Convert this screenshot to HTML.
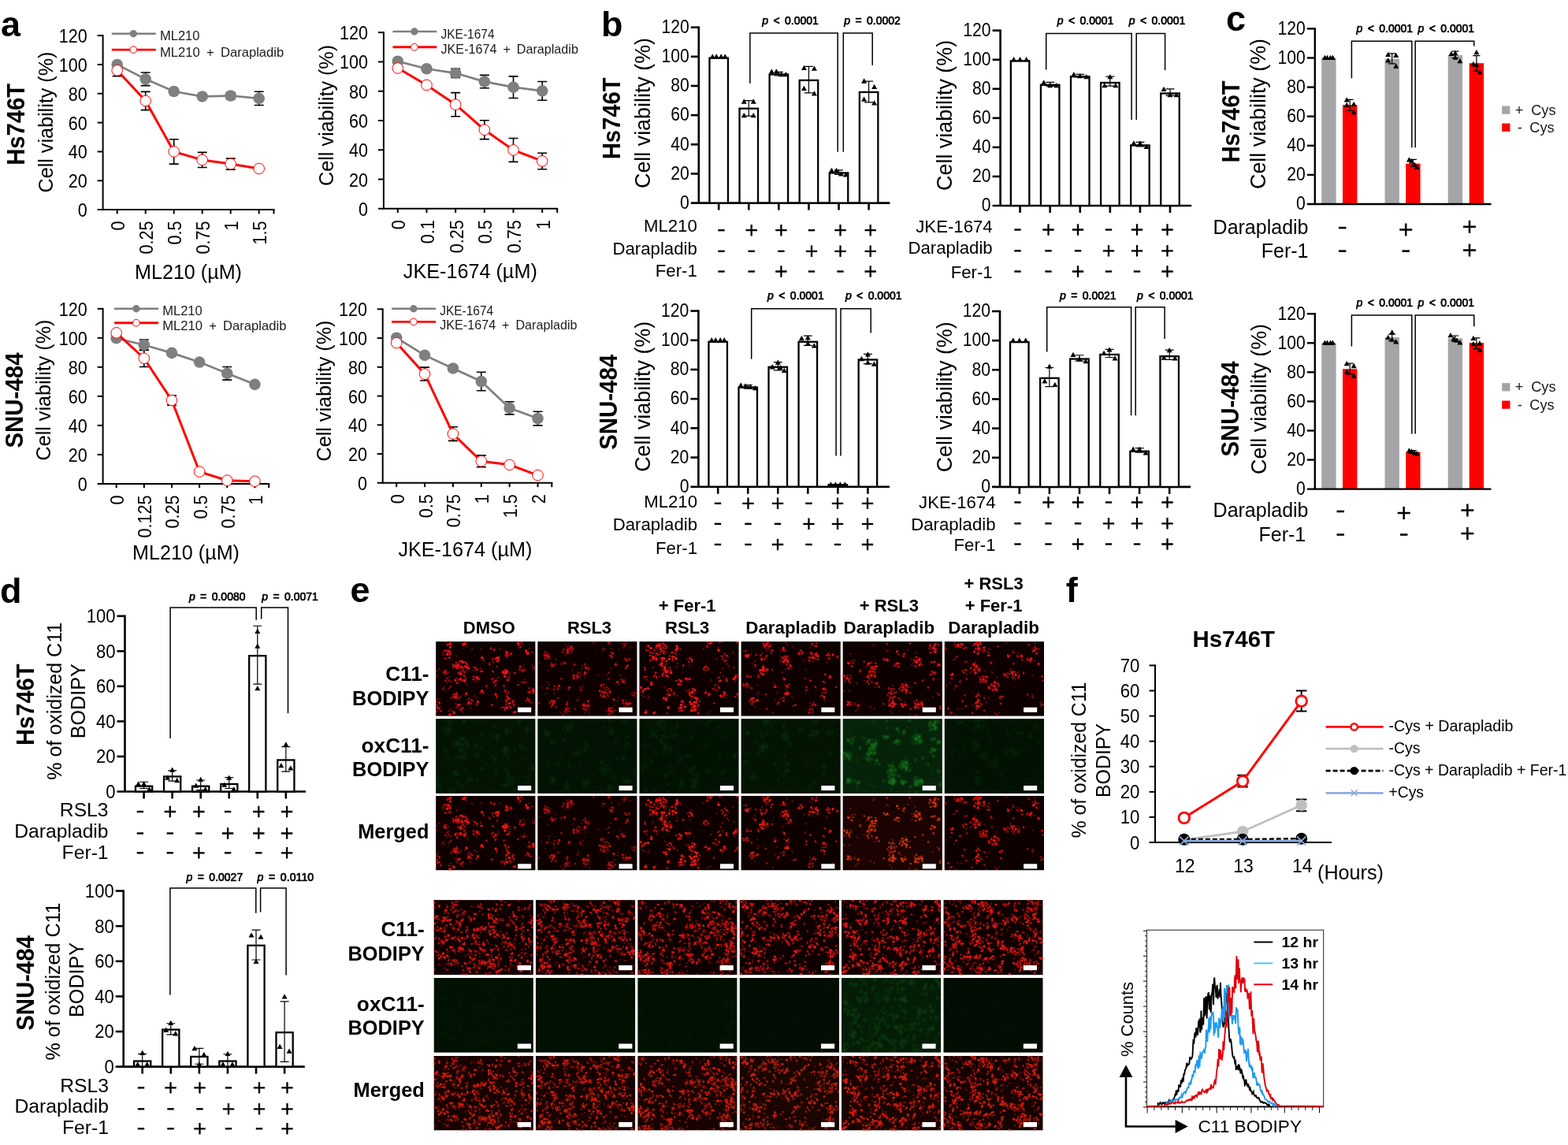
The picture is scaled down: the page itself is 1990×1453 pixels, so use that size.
<!DOCTYPE html>
<html lang="en"><head><meta charset="utf-8"><title>Figure</title>
<style>
html,body{margin:0;padding:0;background:#fff;overflow:hidden}
svg#fig{display:block;font-family:"Liberation Sans",sans-serif;fill:#000}
svg#fig text{white-space:pre}
</style></head><body>
<svg id="fig" width="1990" height="1453" viewBox="0 0 1990 1453">
<rect width="1990" height="1453" fill="#fff"/>
<defs><filter id="bl" x="-5%" y="-5%" width="110%" height="110%"><feGaussianBlur stdDeviation="0.5"/></filter><filter id="bl2" x="-5%" y="-5%" width="110%" height="110%"><feGaussianBlur stdDeviation="1"/></filter><g id="h0" fill="none" stroke="currentColor" stroke-linecap="round"><path stroke-width="2.1" stroke-opacity=".55" d="M17.5 20.0h0M13.5 16.9h0M16.3 20.1h0M17.8 15.8h0M9.1 14.4h0M19.0 16.7h0M12.3 15.4h0M8.8 14.4h0M13.7 10.9h0M13.6 21.4h0M9.2 17.1h0M39.3 1.4h0M35.5 4.0h0M38.0 3.5h0M34.4 2.4h0M38.3 6.1h0M19.7 4.6h0M70.8 9.3h0M87.8 17.7h0M91.4 13.0h0M90.3 19.8h0M94.4 16.5h0M88.7 11.8h0M91.7 13.0h0M107.6 2.6h0M110.8 4.2h0M105.8 8.0h0M114.7 13.8h0M123.0 13.6h0M121.5 13.3h0M58.0 20.5h0M60.9 24.7h0M60.8 25.0h0M59.9 21.7h0M60.8 22.9h0M80.0 23.4h0M74.7 21.6h0M79.8 21.0h0M73.8 26.5h0M73.0 25.7h0M67.8 27.0h0M34.4 37.6h0M24.8 33.1h0M27.7 29.8h0M35.6 34.2h0M38.2 31.4h0M28.5 29.7h0M39.1 28.5h0M41.7 31.1h0M35.4 26.4h0M28.9 33.6h0M38.6 36.3h0M31.3 24.7h0M22.2 28.8h0M26.8 33.0h0M47.3 31.9h0M51.6 34.7h0M51.1 37.2h0M47.9 36.8h0M49.3 33.8h0M50.1 34.3h0M51.1 35.3h0M56.8 33.9h0M58.6 37.6h0M11.7 41.4h0M11.0 37.1h0M16.5 39.6h0M14.0 40.7h0M9.6 39.2h0M13.6 36.1h0M4.2 34.8h0M1.2 37.6h0M111.7 30.1h0M106.6 32.8h0M108.9 38.4h0M112.6 34.4h0M108.7 38.0h0M107.3 33.0h0M123.2 34.8h0M122.9 30.2h0M125.5 33.0h0M85.4 37.9h0M94.1 41.4h0M93.7 42.0h0M89.5 38.1h0M90.6 35.2h0M89.3 38.5h0M93.3 38.9h0M101.0 40.7h0M77.7 32.4h0M78.0 30.9h0M71.9 37.7h0M35.8 48.6h0M27.8 53.7h0M30.0 42.1h0M37.0 43.1h0M37.2 48.8h0M31.4 41.3h0M37.6 50.1h0M37.1 48.7h0M26.1 46.5h0M34.0 42.3h0M28.5 47.3h0M34.2 48.4h0M28.3 47.7h0M27.5 52.2h0M29.1 48.3h0M47.1 44.6h0M54.3 46.1h0M51.7 50.9h0M49.6 48.7h0M53.4 44.5h0M48.8 43.8h0M48.2 45.7h0M19.4 50.5h0M16.4 50.0h0M14.8 46.1h0M17.2 45.3h0M15.6 48.7h0M19.0 51.2h0M13.3 47.1h0M14.5 52.3h0M77.8 48.9h0M76.0 50.9h0M72.4 50.9h0M74.8 51.1h0M70.7 48.5h0M78.9 45.8h0M70.4 47.8h0M72.1 50.7h0M115.1 51.3h0M112.5 48.2h0M11.2 61.0h0M8.7 60.0h0M10.3 58.3h0M8.2 60.4h0M16.0 59.8h0M64.3 56.7h0M76.6 54.9h0M58.0 61.7h0M60.2 64.1h0M39.9 66.9h0M21.1 69.2h0M30.5 71.0h0M20.4 72.2h0M26.4 73.6h0M24.0 71.3h0M25.9 68.0h0M26.1 69.6h0M18.9 71.7h0M30.9 69.5h0M29.2 73.3h0M30.9 70.9h0M89.4 64.7h0M89.6 69.3h0M89.8 68.7h0M90.5 67.1h0M87.0 63.3h0M88.7 65.9h0M120.0 64.4h0M118.8 65.7h0M124.1 63.9h0M123.3 61.2h0M5.0 79.2h0M0.2 77.1h0M4.7 77.0h0M2.9 76.5h0M2.9 72.8h0M43.1 78.0h0M42.7 71.9h0M42.5 78.8h0M40.4 73.5h0M94.9 78.4h0M90.1 76.8h0M88.4 75.7h0M88.9 79.0h0M90.5 84.9h0M88.8 83.5h0M90.6 72.8h0M95.2 73.3h0M96.6 75.7h0M99.6 80.3h0M89.6 80.9h0M98.7 83.2h0M91.3 71.7h0M88.8 80.3h0M116.1 71.5h0M114.5 75.7h0M114.2 75.1h0M115.6 75.0h0M32.7 85.3h0M31.9 87.9h0M26.6 83.3h0M25.9 83.4h0M28.1 85.5h0M28.2 82.8h0M19.2 86.0h0M18.0 92.0h0M16.0 88.4h0M20.6 88.4h0M17.2 88.2h0M70.3 81.2h0M1.8 83.3h0M6.7 87.7h0M2.5 83.5h0M1.4 83.3h0M122.3 76.5h0M97.9 90.0h0M13.2 0.6h0M87.4 61.8h0M81.6 9.8h0M82.9 84.4h0M108.4 51.2h0M44.0 84.1h0M118.3 74.5h0M57.6 9.4h0M52.4 71.0h0M27.2 35.1h0M42.5 73.8h0M39.7 53.5h0M34.2 89.3h0M25.5 79.2h0M49.4 68.9h0M118.6 9.3h0M26.4 18.4h0M25.2 70.8h0M36.0 50.9h0M16.1 48.5h0M37.3 68.4h0M46.0 9.8h0M60.7 23.3h0M1.4 43.7h0M77.1 71.6h0"/><path stroke-width="2.5" stroke-opacity=".8" d="M13.3 11.2h0M18.4 15.3h0M15.2 13.6h0M17.7 21.0h0M17.6 14.9h0M10.9 11.8h0M11.5 21.5h0M18.9 13.2h0M37.2 1.7h0M35.2 3.7h0M17.3 3.9h0M15.5 3.5h0M14.7 4.7h0M73.5 10.7h0M74.6 10.1h0M70.1 8.4h0M91.9 17.1h0M95.1 14.8h0M89.9 16.8h0M89.5 18.5h0M95.9 15.7h0M105.3 4.0h0M105.2 4.8h0M108.9 1.4h0M104.7 1.7h0M107.6 6.8h0M71.9 22.5h0M79.2 23.0h0M76.0 22.0h0M76.7 20.8h0M68.2 29.1h0M41.7 33.9h0M27.8 33.1h0M34.7 36.5h0M32.6 41.0h0M32.1 30.8h0M36.8 39.0h0M34.4 26.9h0M28.3 39.6h0M32.1 38.3h0M40.0 29.4h0M34.5 26.3h0M30.7 33.1h0M37.3 26.1h0M38.3 27.3h0M30.1 25.5h0M29.2 28.4h0M22.5 32.9h0M25.8 26.7h0M26.0 30.2h0M22.4 31.4h0M21.9 29.6h0M26.8 33.6h0M50.2 33.0h0M52.8 35.5h0M58.7 37.9h0M57.0 37.9h0M12.2 37.5h0M13.2 40.3h0M10.8 39.5h0M109.7 36.4h0M106.5 35.7h0M110.0 36.4h0M111.7 36.8h0M107.2 31.5h0M107.1 31.8h0M125.3 33.0h0M88.2 35.8h0M87.2 37.5h0M86.8 43.9h0M100.2 39.9h0M72.7 38.5h0M33.9 49.4h0M37.9 47.5h0M35.9 44.5h0M30.6 48.9h0M30.6 40.8h0M26.8 52.5h0M55.1 47.9h0M47.6 48.2h0M53.5 48.0h0M53.1 45.9h0M12.3 50.0h0M72.4 47.1h0M76.5 49.4h0M75.3 49.3h0M73.9 52.4h0M92.5 48.6h0M90.3 48.8h0M90.9 48.8h0M93.2 45.7h0M111.8 52.0h0M111.1 51.3h0M18.6 57.5h0M64.4 56.4h0M75.4 55.8h0M86.5 56.4h0M104.4 55.1h0M60.1 65.3h0M59.2 62.5h0M57.1 64.0h0M22.8 66.7h0M25.4 69.0h0M23.2 70.1h0M28.0 71.2h0M26.7 65.5h0M24.0 67.5h0M26.1 66.0h0M27.1 66.9h0M22.4 70.0h0M92.2 64.9h0M88.7 62.7h0M90.8 70.1h0M77.3 69.8h0M125.1 63.2h0M123.5 62.5h0M118.7 59.1h0M124.2 62.2h0M123.2 64.9h0M119.5 63.2h0M117.3 64.4h0M-1.7 76.0h0M4.8 77.9h0M1.7 81.1h0M46.1 74.9h0M44.8 78.6h0M40.7 79.2h0M45.4 74.3h0M51.8 79.5h0M97.5 76.7h0M90.2 74.4h0M94.0 82.5h0M97.6 77.9h0M98.8 80.3h0M95.5 83.9h0M98.7 74.8h0M89.4 74.7h0M116.8 72.9h0M118.2 74.5h0M32.7 85.6h0M34.8 84.2h0M31.8 86.2h0M32.1 86.4h0M27.6 80.4h0M19.0 92.3h0M22.7 89.2h0M71.3 80.5h0M87.9 85.4h0M84.8 83.4h0M87.6 86.6h0M87.6 83.8h0M2.1 84.5h0M6.4 88.4h0M3.1 85.3h0M4.9 84.2h0M119.4 76.8h0"/><path stroke-width="3.3" d="M16.3 12.0h0M14.9 16.5h0M36.5 3.4h0M34.6 3.8h0M18.6 2.3h0M18.2 7.2h0M89.7 14.3h0M104.2 2.4h0M114.7 11.9h0M117.2 15.0h0M115.9 15.2h0M58.6 20.6h0M78.3 24.9h0M77.5 21.1h0M79.4 20.3h0M33.1 25.1h0M25.2 30.8h0M37.6 31.6h0M41.3 34.1h0M38.9 32.3h0M33.5 25.8h0M25.8 30.4h0M33.5 33.0h0M28.6 30.7h0M90.6 38.4h0M86.7 40.5h0M89.2 39.2h0M85.1 38.7h0M88.0 44.3h0M89.2 37.5h0M89.2 39.9h0M36.6 50.0h0M31.2 40.7h0M24.9 49.0h0M31.4 47.5h0M51.7 45.8h0M58.6 63.0h0M38.8 66.0h0M25.2 70.9h0M76.1 67.0h0M123.5 60.9h0M-0.4 75.4h0M42.1 77.0h0M53.4 76.6h0M92.5 72.3h0M90.8 83.9h0M93.3 78.5h0M30.0 80.2h0M23.1 90.7h0M17.4 93.3h0M-0.3 88.6h0M100.3 89.6h0"/></g><g id="h1" fill="none" stroke="currentColor" stroke-linecap="round"><path stroke-width="2.1" stroke-opacity=".55" d="M9.9 16.7h0M15.6 16.1h0M11.2 15.4h0M16.1 21.3h0M12.0 17.4h0M14.2 18.8h0M37.7 6.7h0M33.2 11.8h0M35.7 17.3h0M42.4 11.9h0M36.5 4.9h0M39.9 5.0h0M43.1 13.2h0M39.3 9.1h0M43.1 14.3h0M44.0 11.5h0M33.0 12.4h0M38.5 14.8h0M41.9 9.5h0M15.7 30.1h0M18.0 26.5h0M17.5 28.4h0M17.5 32.2h0M17.9 27.0h0M31.3 26.8h0M82.8 9.8h0M82.1 12.6h0M82.2 9.2h0M93.0 13.8h0M94.3 18.9h0M117.1 22.0h0M116.7 24.1h0M116.8 23.3h0M99.7 30.3h0M99.8 29.6h0M114.3 29.5h0M55.8 34.9h0M60.7 30.7h0M56.9 30.8h0M59.0 30.2h0M64.0 31.5h0M61.0 32.1h0M61.0 32.2h0M63.8 36.6h0M52.8 42.8h0M55.5 43.2h0M49.9 47.6h0M46.6 43.6h0M49.6 41.1h0M49.1 42.6h0M52.4 44.8h0M54.1 46.5h0M45.7 45.5h0M51.5 45.4h0M54.2 40.1h0M45.0 43.7h0M60.2 45.7h0M58.5 41.9h0M62.9 40.2h0M46.7 29.9h0M29.6 46.4h0M109.8 50.2h0M109.6 47.2h0M15.0 55.5h0M12.1 59.3h0M11.5 59.2h0M12.7 59.9h0M15.4 59.3h0M26.7 60.9h0M25.2 60.6h0M21.0 61.5h0M27.7 56.7h0M57.8 56.7h0M54.1 59.3h0M56.7 61.4h0M54.3 57.9h0M55.3 58.5h0M83.5 57.8h0M87.2 71.5h0M83.7 70.9h0M87.1 62.9h0M83.6 68.2h0M85.0 60.0h0M85.8 61.3h0M89.4 65.4h0M86.2 70.7h0M83.8 66.6h0M81.3 64.1h0M85.1 58.7h0M101.2 50.8h0M101.4 51.1h0M102.7 54.4h0M120.3 68.5h0M119.8 65.3h0M119.9 66.9h0M22.1 82.2h0M18.6 78.5h0M22.3 83.0h0M16.4 76.7h0M23.0 83.3h0M18.6 81.1h0M22.6 75.5h0M23.9 82.1h0M38.6 77.6h0M37.8 81.7h0M35.7 79.5h0M37.7 79.7h0M36.3 88.4h0M38.0 82.9h0M36.7 84.7h0M29.2 89.6h0M33.4 87.8h0M36.2 90.3h0M34.9 88.4h0M34.7 89.6h0M58.0 80.0h0M62.8 84.2h0M66.0 80.4h0M59.4 83.6h0M60.6 78.9h0M65.6 86.3h0M63.2 87.0h0M62.4 85.2h0M59.1 85.4h0M60.4 90.2h0M61.3 86.9h0M95.8 73.2h0M108.6 74.9h0M115.5 77.8h0M111.1 81.7h0M109.7 81.7h0M107.6 78.2h0M112.2 74.8h0M113.6 77.9h0M94.0 84.1h0M91.4 83.1h0M95.9 88.9h0M95.1 89.6h0M87.6 88.0h0M95.8 84.2h0M93.0 92.6h0M89.8 91.9h0M109.1 7.8h0M113.3 4.5h0M110.2 5.8h0M113.7 2.4h0M108.2 2.6h0M112.4 0.2h0M107.4 4.7h0M2.2 26.8h0M44.5 35.8h0M65.7 91.4h0M77.2 42.6h0M105.0 43.0h0M88.1 42.2h0M94.2 8.9h0M21.8 65.9h0M93.3 34.1h0M5.2 57.9h0M13.2 36.6h0M101.8 75.7h0M103.6 9.9h0M92.2 2.8h0M123.9 70.2h0M97.4 81.1h0M103.4 72.0h0M117.3 6.2h0M10.0 66.7h0M14.9 75.9h0M52.3 71.2h0M13.3 52.0h0M90.5 69.8h0M22.8 22.8h0M106.9 74.6h0"/><path stroke-width="2.5" stroke-opacity=".8" d="M12.7 20.6h0M12.6 14.4h0M10.0 22.0h0M13.1 21.6h0M9.3 13.2h0M9.4 20.5h0M11.9 17.5h0M12.7 18.8h0M39.0 8.4h0M31.8 13.3h0M44.8 9.2h0M37.2 12.4h0M45.1 10.2h0M33.3 9.3h0M38.6 12.8h0M20.8 30.7h0M19.2 31.8h0M22.7 28.7h0M34.5 26.8h0M30.4 28.6h0M84.9 9.9h0M91.7 17.4h0M93.5 18.1h0M116.2 22.1h0M111.1 21.5h0M98.6 29.6h0M111.7 34.2h0M113.0 32.7h0M60.5 28.6h0M65.0 34.0h0M63.8 35.3h0M52.0 39.3h0M50.8 46.2h0M60.2 41.6h0M46.5 28.9h0M30.7 47.5h0M90.6 39.9h0M89.9 46.8h0M106.5 48.2h0M107.9 49.5h0M12.3 58.9h0M25.9 59.3h0M27.6 56.6h0M20.6 60.6h0M21.8 56.8h0M39.1 60.6h0M54.5 61.3h0M81.1 56.6h0M84.2 54.5h0M88.1 65.2h0M85.5 68.8h0M80.6 68.8h0M80.4 67.5h0M85.4 65.7h0M89.1 68.0h0M87.9 58.2h0M90.2 60.4h0M92.1 63.8h0M125.3 66.0h0M122.6 68.4h0M122.5 64.9h0M25.9 71.6h0M21.8 76.0h0M15.4 78.3h0M17.8 82.9h0M22.0 75.8h0M20.6 74.8h0M18.0 75.4h0M37.6 77.5h0M37.6 79.7h0M35.9 85.6h0M40.0 84.9h0M37.4 87.3h0M37.2 88.1h0M40.5 88.6h0M32.8 93.0h0M50.7 74.3h0M47.9 86.0h0M65.5 83.1h0M58.4 79.7h0M64.5 80.9h0M58.6 82.2h0M58.4 85.6h0M60.9 87.0h0M114.0 78.9h0M114.4 81.0h0M109.0 78.2h0M109.3 78.9h0M108.8 74.3h0M108.0 75.6h0M98.6 87.5h0M94.1 84.4h0M95.8 89.2h0M91.6 86.7h0M89.7 92.1h0M92.8 91.1h0M1.8 78.5h0M110.3 2.7h0M110.6 4.8h0M89.9 2.2h0M88.8 -0.7h0M91.5 1.0h0M71.3 1.4h0"/><path stroke-width="3.3" d="M14.4 19.0h0M8.8 17.2h0M12.1 17.9h0M38.0 10.5h0M43.0 6.4h0M38.3 14.3h0M41.9 8.2h0M38.3 11.0h0M18.7 29.7h0M34.8 27.2h0M94.0 19.7h0M95.3 15.1h0M112.7 23.6h0M99.4 28.8h0M114.1 31.0h0M61.5 33.4h0M46.0 46.6h0M45.9 43.1h0M50.7 44.1h0M60.6 39.2h0M60.1 39.9h0M110.0 51.0h0M108.5 51.1h0M27.3 56.3h0M40.5 58.3h0M81.1 55.2h0M91.8 63.6h0M82.3 64.0h0M83.8 70.1h0M79.0 62.8h0M85.1 64.7h0M101.5 51.6h0M18.3 75.4h0M20.9 77.4h0M19.0 79.8h0M36.6 85.6h0M64.1 75.7h0M60.2 81.3h0M57.9 80.9h0M63.1 81.2h0M96.9 73.7h0M116.5 78.4h0M113.8 79.5h0M117.7 78.7h0M112.6 78.5h0M90.8 87.6h0M90.7 85.3h0M93.3 88.1h0M90.3 -0.5h0"/></g><g id="h2" fill="none" stroke="currentColor" stroke-linecap="round"><path stroke-width="2.1" stroke-opacity=".55" d="M20.6 8.4h0M27.7 12.7h0M23.2 9.6h0M31.4 15.0h0M23.7 15.9h0M21.9 7.6h0M33.3 4.6h0M21.6 3.9h0M21.5 14.4h0M33.2 6.2h0M34.5 13.2h0M24.0 12.5h0M30.2 11.6h0M9.1 12.2h0M11.8 11.6h0M10.9 5.7h0M13.3 7.7h0M15.0 17.8h0M21.2 17.4h0M22.2 21.3h0M18.6 19.0h0M16.8 24.7h0M15.9 13.9h0M20.4 18.9h0M45.2 10.9h0M52.4 9.4h0M52.1 10.7h0M46.4 12.3h0M42.8 22.5h0M42.2 14.1h0M47.0 16.6h0M42.0 20.9h0M40.2 14.5h0M40.3 14.0h0M37.2 21.3h0M45.4 21.4h0M86.6 3.9h0M87.4 7.0h0M86.9 3.4h0M86.3 6.4h0M101.0 11.9h0M100.6 8.3h0M108.7 25.0h0M110.0 23.3h0M109.9 18.1h0M106.5 19.9h0M112.0 18.1h0M113.1 20.2h0M110.6 24.0h0M124.0 0.6h0M61.2 22.3h0M29.2 23.4h0M29.2 32.6h0M29.7 31.3h0M25.3 30.2h0M26.2 21.3h0M32.8 22.1h0M33.9 24.6h0M26.8 29.0h0M25.0 29.7h0M30.1 20.7h0M33.7 25.6h0M23.0 23.9h0M26.8 29.3h0M26.2 28.3h0M32.9 25.6h0M33.2 29.7h0M22.8 24.0h0M35.1 28.1h0M33.7 32.9h0M29.2 41.1h0M31.1 34.5h0M29.5 36.1h0M33.8 32.7h0M38.7 38.3h0M32.5 31.8h0M28.7 43.3h0M18.2 44.7h0M21.9 45.4h0M21.3 39.3h0M22.7 45.8h0M20.1 41.5h0M25.3 44.2h0M56.3 29.8h0M84.6 36.4h0M83.7 37.0h0M84.2 31.3h0M81.9 35.8h0M87.0 36.3h0M5.9 44.8h0M9.8 48.6h0M120.4 33.3h0M120.1 32.8h0M103.7 39.7h0M102.9 38.9h0M53.0 50.3h0M51.7 48.3h0M51.8 51.4h0M50.8 48.1h0M61.8 47.3h0M60.0 49.0h0M101.8 45.8h0M101.8 44.9h0M100.8 50.8h0M99.3 46.1h0M100.0 45.9h0M112.0 50.9h0M119.7 47.3h0M120.7 50.6h0M124.8 43.3h0M122.7 41.9h0M125.4 43.6h0M5.4 62.2h0M7.4 60.7h0M4.1 60.6h0M2.6 63.9h0M5.3 64.5h0M38.6 64.3h0M44.5 64.4h0M36.8 66.8h0M42.0 65.2h0M35.2 66.8h0M71.7 65.1h0M69.5 66.7h0M61.5 63.7h0M62.9 61.5h0M68.0 64.5h0M66.9 59.9h0M68.7 65.4h0M86.5 69.1h0M89.4 66.3h0M89.2 65.8h0M98.9 61.9h0M101.2 59.7h0M100.1 56.9h0M98.1 61.2h0M95.4 59.0h0M96.5 62.1h0M103.5 69.6h0M108.9 65.3h0M110.9 67.1h0M109.3 70.3h0M124.7 68.6h0M35.3 72.7h0M70.2 81.2h0M74.1 72.1h0M66.8 73.0h0M70.4 78.1h0M73.0 74.8h0M74.8 81.5h0M72.1 76.8h0M74.9 80.9h0M72.3 82.1h0M71.7 70.8h0M64.6 76.8h0M69.9 71.2h0M72.6 76.1h0M53.8 88.0h0M56.7 87.1h0M50.8 88.7h0M52.6 80.1h0M52.0 80.2h0M50.0 83.9h0M50.2 84.7h0M52.3 81.6h0M54.0 82.7h0M55.3 80.7h0M50.4 88.3h0M73.7 83.1h0M70.5 83.1h0M74.3 83.4h0M68.0 82.9h0M72.2 86.6h0M76.1 86.5h0M74.1 90.7h0M72.1 84.5h0M6.8 90.1h0M7.7 94.1h0M3.4 68.1h0M5.8 70.1h0M48.5 27.8h0M98.4 22.0h0M32.5 57.7h0M50.5 87.6h0M17.6 33.1h0M111.7 28.6h0M91.1 48.9h0M119.3 14.0h0M64.0 30.4h0M89.9 89.2h0M86.7 91.4h0M106.4 43.7h0M32.1 4.9h0M47.5 31.9h0M75.7 92.1h0M66.1 18.6h0M105.6 34.2h0M84.9 63.3h0M81.4 9.3h0M12.5 69.5h0M59.3 61.5h0M113.3 31.1h0M48.2 68.8h0M22.8 48.5h0M11.2 71.7h0"/><path stroke-width="2.5" stroke-opacity=".8" d="M31.3 15.1h0M25.7 3.1h0M32.7 4.5h0M24.8 3.3h0M27.2 3.9h0M30.2 7.7h0M21.4 6.0h0M19.0 11.2h0M33.5 8.6h0M35.0 6.4h0M31.0 8.2h0M25.1 6.2h0M31.0 14.3h0M32.0 12.3h0M29.7 11.9h0M24.2 16.4h0M27.4 13.4h0M27.1 5.7h0M30.0 2.2h0M31.1 3.8h0M15.5 8.8h0M13.7 13.6h0M8.9 10.7h0M21.7 15.4h0M21.3 23.4h0M13.4 17.7h0M17.6 14.6h0M18.5 20.5h0M19.9 21.8h0M14.0 23.7h0M48.4 7.3h0M47.1 11.5h0M45.8 15.0h0M42.0 13.7h0M44.8 19.6h0M42.5 23.7h0M38.7 18.4h0M46.2 20.9h0M92.1 1.1h0M86.8 0.7h0M86.0 6.2h0M89.3 2.6h0M104.4 0.1h0M101.8 0.3h0M101.7 11.4h0M106.1 22.3h0M108.6 15.7h0M108.7 25.1h0M104.6 18.5h0M111.5 18.2h0M124.5 1.0h0M63.7 21.1h0M64.4 21.3h0M66.9 25.3h0M63.2 25.7h0M35.0 24.9h0M29.1 24.4h0M29.5 23.7h0M37.1 44.9h0M32.6 32.6h0M36.2 35.6h0M40.9 38.8h0M39.6 36.3h0M31.3 39.9h0M38.9 33.1h0M33.3 33.1h0M39.8 36.4h0M30.0 43.3h0M29.8 41.7h0M20.9 39.7h0M19.2 43.7h0M21.7 44.8h0M55.9 30.7h0M87.7 34.4h0M82.7 32.6h0M82.0 34.2h0M85.5 31.9h0M7.8 35.8h0M7.0 33.2h0M9.4 44.6h0M6.8 45.5h0M50.6 48.9h0M52.6 54.1h0M46.7 50.1h0M62.1 47.9h0M64.5 47.8h0M64.0 46.6h0M110.8 46.9h0M110.7 50.0h0M110.6 47.7h0M121.9 45.6h0M122.9 46.0h0M125.3 43.7h0M126.0 45.4h0M10.7 59.1h0M5.2 62.5h0M4.6 63.3h0M40.0 60.1h0M41.0 62.2h0M43.9 66.8h0M39.1 67.8h0M35.8 62.1h0M38.3 59.9h0M64.9 67.3h0M68.2 59.8h0M63.9 67.8h0M66.5 63.1h0M68.7 63.4h0M68.3 69.9h0M66.1 69.8h0M85.2 65.3h0M83.4 65.1h0M101.4 58.4h0M94.0 60.3h0M96.8 55.2h0M108.5 67.3h0M105.9 70.5h0M106.8 67.8h0M124.6 65.8h0M124.4 67.3h0M122.0 69.8h0M34.6 71.1h0M73.4 73.3h0M75.0 80.3h0M76.6 75.8h0M68.2 79.1h0M69.3 81.2h0M56.2 76.9h0M54.1 87.3h0M52.6 87.7h0M51.4 84.6h0M74.9 91.0h0M66.7 84.5h0M68.4 88.4h0M66.0 86.7h0M70.9 86.4h0M94.7 78.5h0M37.3 82.3h0M9.4 90.6h0M9.1 90.3h0M8.5 87.9h0M20.2 89.6h0M35.5 91.5h0"/><path stroke-width="3.3" d="M22.4 5.2h0M25.2 5.9h0M27.3 9.6h0M14.7 8.2h0M11.5 5.6h0M17.6 21.4h0M21.9 21.6h0M17.6 19.3h0M47.3 9.8h0M48.8 8.4h0M47.6 5.6h0M38.2 22.3h0M46.9 21.7h0M42.4 19.3h0M90.2 2.1h0M100.4 11.0h0M66.6 23.0h0M28.9 21.0h0M28.3 30.0h0M31.3 21.2h0M28.6 27.5h0M40.2 39.8h0M32.7 36.3h0M32.4 33.0h0M34.7 43.2h0M35.6 38.3h0M34.1 38.5h0M53.3 50.4h0M49.9 54.3h0M59.4 47.1h0M102.8 49.6h0M120.8 46.8h0M122.0 44.8h0M119.9 47.6h0M15.5 52.4h0M15.5 54.7h0M11.3 59.5h0M1.9 58.3h0M7.7 60.3h0M38.3 68.0h0M63.8 65.0h0M70.3 61.5h0M67.2 64.7h0M88.7 67.2h0M108.0 64.5h0M103.4 68.8h0M31.3 71.8h0M33.9 73.9h0M73.6 72.7h0M71.6 71.6h0M64.5 77.0h0M72.2 77.0h0M66.2 79.6h0M69.4 83.2h0M69.9 77.1h0M54.1 76.0h0M53.1 80.4h0M58.2 82.8h0M53.4 84.0h0M66.3 87.8h0M70.9 81.8h0M69.7 86.7h0M71.3 86.7h0M36.6 84.0h0M7.7 90.2h0M18.6 90.9h0"/></g><g id="h3" fill="none" stroke="currentColor" stroke-linecap="round"><path stroke-width="2.1" stroke-opacity=".55" d="M9.0 19.0h0M8.1 20.1h0M3.7 12.0h0M28.4 6.7h0M27.8 1.4h0M34.0 9.7h0M36.1 1.5h0M34.3 3.3h0M38.5 4.0h0M34.4 0.6h0M29.5 -0.2h0M25.7 21.8h0M26.8 15.0h0M31.4 18.9h0M29.9 22.0h0M32.5 20.1h0M33.3 20.1h0M40.7 11.3h0M37.8 12.1h0M58.8 4.2h0M56.9 1.3h0M50.5 11.7h0M53.4 11.4h0M56.7 12.1h0M59.8 19.0h0M51.0 25.7h0M58.0 28.4h0M50.6 22.9h0M60.2 21.5h0M57.4 18.9h0M54.5 26.7h0M54.5 20.3h0M50.9 24.0h0M58.5 18.5h0M61.9 33.4h0M56.7 35.3h0M62.0 29.7h0M63.2 33.6h0M62.9 30.5h0M18.6 29.2h0M17.9 25.0h0M15.6 28.3h0M18.5 29.2h0M23.8 37.5h0M28.4 30.1h0M24.4 37.2h0M25.9 40.3h0M29.1 41.6h0M24.4 39.4h0M25.2 39.8h0M26.2 42.0h0M21.9 41.9h0M22.2 43.4h0M23.2 45.7h0M10.7 44.2h0M9.0 43.2h0M9.9 44.3h0M7.1 42.2h0M79.4 14.0h0M76.8 12.4h0M76.5 13.4h0M76.0 12.5h0M74.4 12.2h0M87.1 24.0h0M89.2 17.4h0M97.0 19.7h0M95.3 15.3h0M93.0 15.1h0M94.5 20.0h0M91.1 20.4h0M90.2 16.8h0M85.9 21.5h0M92.2 17.2h0M91.8 25.6h0M98.3 22.6h0M92.0 3.7h0M91.6 5.2h0M108.5 17.7h0M121.8 20.5h0M121.5 19.1h0M123.0 18.4h0M53.6 46.2h0M54.4 46.2h0M54.3 46.0h0M61.4 57.7h0M60.0 59.0h0M42.5 53.6h0M41.5 58.1h0M42.0 54.3h0M6.2 57.6h0M6.2 53.1h0M9.3 54.9h0M105.8 41.8h0M114.6 45.6h0M95.2 58.9h0M83.2 62.2h0M83.1 60.6h0M82.5 58.0h0M83.5 62.2h0M83.7 61.1h0M57.0 60.8h0M57.8 64.8h0M56.3 64.8h0M57.7 67.0h0M54.5 74.3h0M52.7 72.2h0M105.1 65.5h0M106.5 60.6h0M103.1 65.0h0M102.9 65.2h0M103.7 68.3h0M105.4 74.1h0M105.7 71.0h0M106.3 73.8h0M16.4 77.0h0M17.0 75.9h0M14.1 75.3h0M12.3 77.4h0M15.0 78.4h0M65.7 81.8h0M67.5 80.9h0M69.1 80.6h0M92.8 79.7h0M94.9 80.3h0M94.6 81.2h0M88.1 81.6h0M87.6 78.0h0M92.4 76.7h0M88.0 84.8h0M87.0 86.6h0M91.7 89.3h0M90.2 90.3h0M86.2 90.5h0M85.2 88.6h0M82.1 62.6h0M65.1 70.6h0M12.7 15.9h0M21.1 67.1h0M82.2 35.4h0M108.7 26.4h0M116.4 85.2h0M22.2 64.0h0M80.0 24.0h0M32.4 11.6h0M50.2 72.7h0M43.3 74.4h0M46.2 64.5h0M42.4 57.6h0M81.4 46.5h0M35.6 8.2h0M20.9 55.2h0M65.1 6.0h0M88.5 7.7h0M18.3 83.3h0M52.8 38.8h0M81.3 46.2h0M40.7 90.7h0M82.2 47.2h0M55.0 55.0h0"/><path stroke-width="2.5" stroke-opacity=".8" d="M5.6 18.5h0M6.3 12.1h0M19.0 17.2h0M34.1 1.6h0M29.9 4.6h0M31.6 8.0h0M32.2 2.5h0M33.4 -0.7h0M28.5 2.8h0M25.0 17.7h0M26.1 21.7h0M24.7 17.9h0M32.6 17.8h0M30.4 22.1h0M39.6 10.8h0M38.4 14.7h0M53.7 10.9h0M55.5 11.3h0M57.3 20.3h0M56.4 18.5h0M58.2 22.7h0M52.1 19.9h0M53.3 21.1h0M54.0 20.5h0M55.3 20.1h0M58.0 29.5h0M60.1 34.5h0M59.9 33.5h0M18.6 30.5h0M17.9 30.9h0M28.4 31.3h0M30.6 36.4h0M28.7 38.0h0M30.3 33.8h0M32.1 38.2h0M27.3 35.2h0M22.2 44.5h0M25.9 40.1h0M27.8 41.8h0M39.6 35.8h0M7.8 44.7h0M12.6 44.7h0M76.4 11.2h0M76.9 15.8h0M78.1 13.9h0M97.1 22.9h0M89.7 20.3h0M87.7 20.5h0M86.9 19.8h0M97.4 19.4h0M90.5 19.7h0M93.3 21.6h0M95.7 14.6h0M86.7 24.5h0M95.9 2.0h0M90.0 3.4h0M90.6 2.7h0M110.8 17.5h0M111.3 21.7h0M112.6 21.2h0M116.7 17.5h0M110.9 15.2h0M112.5 17.5h0M108.7 17.7h0M122.6 19.8h0M60.4 54.7h0M8.2 53.3h0M5.9 54.5h0M2.6 53.9h0M3.7 56.4h0M9.1 56.9h0M6.5 55.9h0M13.5 59.2h0M107.1 41.3h0M88.6 49.8h0M87.7 49.5h0M112.4 44.7h0M112.4 46.3h0M104.6 50.9h0M105.8 51.5h0M94.4 57.4h0M83.3 57.4h0M59.9 66.6h0M54.5 71.1h0M54.1 75.6h0M107.8 61.4h0M105.5 60.3h0M107.3 64.7h0M106.3 59.7h0M102.0 68.9h0M31.4 66.8h0M11.2 75.8h0M14.8 76.1h0M13.8 79.4h0M18.9 76.0h0M32.8 85.4h0M69.4 80.9h0M91.9 79.1h0M90.9 80.6h0M94.8 80.4h0M87.0 90.4h0M87.3 86.5h0M90.7 86.1h0M120.9 57.8h0M47.7 76.9h0M46.6 79.2h0"/><path stroke-width="3.3" d="M6.4 17.6h0M9.2 17.1h0M8.3 19.5h0M30.2 5.5h0M36.3 5.7h0M32.8 4.1h0M26.6 22.8h0M54.0 8.4h0M59.4 24.5h0M54.1 25.4h0M59.5 25.8h0M56.2 23.4h0M63.1 30.9h0M28.0 33.1h0M24.4 36.5h0M33.6 35.6h0M26.5 36.2h0M28.6 35.8h0M27.7 41.2h0M73.5 15.4h0M89.3 14.6h0M95.2 16.7h0M97.6 18.1h0M92.0 20.6h0M95.2 5.7h0M116.5 16.5h0M55.2 47.7h0M58.1 56.9h0M43.7 57.3h0M113.5 44.3h0M57.7 66.4h0M59.7 66.2h0M56.5 66.4h0M59.3 64.7h0M104.6 60.2h0M105.6 70.4h0M21.0 74.3h0M15.8 72.0h0M13.3 73.0h0"/></g><g id="h4" fill="none" stroke="currentColor" stroke-linecap="round"><path stroke-width="2.1" stroke-opacity=".55" d="M40.2 3.6h0M38.4 5.4h0M85.7 2.3h0M112.6 13.4h0M110.1 4.5h0M115.3 12.9h0M116.2 7.0h0M117.2 3.2h0M117.1 10.5h0M110.9 4.0h0M110.3 6.7h0M112.9 14.4h0M119.7 3.0h0M110.2 7.6h0M114.3 7.7h0M119.9 11.3h0M55.6 11.5h0M57.7 12.2h0M55.1 24.2h0M52.7 21.9h0M58.5 23.8h0M52.2 24.0h0M75.9 18.0h0M76.2 18.3h0M77.8 15.9h0M67.2 29.5h0M65.9 29.1h0M64.7 30.8h0M67.0 28.2h0M93.5 32.0h0M93.4 26.8h0M99.4 25.7h0M93.0 19.6h0M98.3 23.9h0M97.2 29.0h0M89.8 26.6h0M98.6 21.6h0M87.9 30.0h0M95.6 20.6h0M98.2 27.2h0M87.6 22.5h0M97.0 23.6h0M113.6 25.9h0M112.9 26.9h0M115.9 26.7h0M121.2 28.2h0M123.1 30.9h0M10.4 25.5h0M12.4 31.5h0M7.0 28.2h0M12.6 23.9h0M11.2 30.6h0M42.3 35.7h0M38.2 36.8h0M36.2 38.1h0M38.2 31.2h0M37.7 33.8h0M29.9 31.6h0M38.0 34.8h0M34.2 30.6h0M41.8 27.8h0M42.0 35.2h0M32.1 30.7h0M41.0 44.3h0M40.6 39.7h0M41.6 41.6h0M34.1 46.5h0M32.2 43.7h0M34.3 45.0h0M8.1 48.6h0M-1.0 44.4h0M2.9 50.4h0M-0.8 43.9h0M0.8 49.8h0M11.3 45.7h0M2.8 45.1h0M-0.3 47.2h0M3.5 50.6h0M10.9 45.8h0M10.6 45.1h0M9.5 42.6h0M10.3 46.6h0M0.1 49.8h0M34.3 49.2h0M33.6 48.0h0M30.9 51.4h0M44.4 57.4h0M43.9 51.8h0M117.3 40.4h0M115.0 40.2h0M114.0 37.2h0M101.7 49.0h0M92.3 52.6h0M77.9 60.0h0M72.4 61.2h0M74.7 54.8h0M60.0 60.7h0M57.4 67.6h0M64.7 64.1h0M62.5 60.3h0M59.4 69.5h0M56.3 67.2h0M57.5 68.6h0M61.6 69.6h0M62.2 60.3h0M61.3 70.8h0M59.6 60.6h0M82.6 61.8h0M72.8 72.0h0M71.1 72.0h0M73.2 75.0h0M70.7 73.2h0M109.2 58.0h0M120.9 65.8h0M10.8 76.7h0M18.6 80.6h0M21.9 81.5h0M14.9 77.8h0M64.1 83.2h0M60.0 77.7h0M61.2 78.2h0M58.8 78.7h0M63.1 77.2h0M61.0 81.0h0M65.8 80.8h0M79.0 80.9h0M77.6 82.0h0M74.9 80.8h0M80.5 79.6h0M78.3 77.2h0M98.4 77.0h0M95.1 84.9h0M100.2 75.7h0M96.7 78.6h0M99.2 78.1h0M91.5 78.2h0M97.3 81.0h0M91.7 81.1h0M93.0 73.7h0M90.7 76.1h0M96.2 77.6h0M85.6 85.8h0M19.0 86.0h0M79.9 52.1h0M101.4 29.3h0M39.9 85.1h0M85.6 57.7h0M34.1 41.6h0M35.4 82.6h0M18.1 52.8h0M63.2 55.9h0M1.9 62.6h0M114.5 70.7h0M8.4 62.1h0M40.6 58.5h0M60.1 87.6h0M16.8 88.4h0M62.5 91.2h0M84.7 92.2h0M15.8 23.6h0M27.3 49.5h0M82.8 11.0h0M79.9 60.6h0M92.4 14.0h0M32.1 51.8h0M9.9 16.0h0M15.5 80.0h0M120.2 65.4h0"/><path stroke-width="2.5" stroke-opacity=".8" d="M56.2 2.8h0M85.2 2.5h0M111.4 6.0h0M111.2 4.3h0M110.2 9.4h0M111.1 14.1h0M121.5 4.5h0M113.9 8.1h0M116.9 13.0h0M117.5 3.0h0M55.2 23.7h0M55.3 23.2h0M54.9 23.9h0M52.1 22.1h0M77.6 19.2h0M77.6 16.1h0M78.7 15.4h0M70.9 16.1h0M67.5 31.1h0M71.9 28.1h0M71.2 32.2h0M70.2 27.7h0M93.2 20.0h0M92.1 30.9h0M99.5 28.4h0M92.0 25.1h0M90.6 23.2h0M97.8 23.3h0M94.0 24.0h0M96.9 24.2h0M112.8 26.2h0M117.1 25.6h0M115.9 25.9h0M120.4 31.0h0M13.2 27.3h0M11.3 31.1h0M6.6 27.2h0M27.3 25.5h0M22.1 38.3h0M22.2 36.7h0M32.1 29.1h0M36.8 27.0h0M35.6 36.3h0M41.4 32.3h0M40.3 35.1h0M38.5 34.4h0M42.1 31.5h0M40.6 32.1h0M40.9 34.9h0M41.7 28.0h0M37.6 32.6h0M33.6 41.6h0M38.9 38.1h0M34.6 38.1h0M37.9 38.3h0M40.3 38.3h0M33.4 38.5h0M34.8 39.0h0M35.8 43.9h0M8.1 47.2h0M8.0 50.4h0M0.3 42.3h0M9.1 51.9h0M0.8 43.8h0M6.1 43.5h0M8.2 49.0h0M2.6 43.7h0M-1.0 49.8h0M37.0 51.5h0M33.0 53.4h0M31.3 50.1h0M43.6 54.0h0M42.4 52.9h0M46.6 57.6h0M43.3 52.6h0M115.8 39.1h0M117.8 39.2h0M116.0 40.8h0M112.6 42.1h0M111.3 41.9h0M113.1 38.6h0M115.3 46.8h0M115.1 48.3h0M101.6 49.6h0M92.0 52.3h0M79.4 60.4h0M80.9 60.9h0M76.5 53.9h0M79.1 61.0h0M72.3 60.3h0M76.0 62.1h0M76.3 60.8h0M82.4 57.8h0M75.7 54.1h0M75.0 63.0h0M73.8 57.5h0M66.8 69.8h0M58.7 65.1h0M62.7 59.7h0M63.7 71.7h0M64.8 70.7h0M61.8 63.2h0M67.7 64.3h0M65.1 60.6h0M60.1 72.1h0M65.3 66.0h0M58.9 59.2h0M80.5 61.9h0M80.6 65.6h0M85.6 65.2h0M80.8 64.4h0M108.5 58.5h0M122.4 67.7h0M6.2 76.5h0M11.2 79.4h0M8.9 80.6h0M19.4 81.8h0M20.1 80.0h0M58.7 81.2h0M64.6 78.2h0M67.3 79.5h0M59.1 74.9h0M80.2 80.5h0M78.0 80.1h0M92.3 78.9h0M98.4 79.8h0M93.1 81.6h0M101.1 80.9h0M93.8 75.2h0M93.9 83.3h0M100.2 77.8h0M96.2 84.2h0M94.0 79.7h0M100.8 83.0h0M86.7 85.9h0M124.0 82.2h0M123.4 85.0h0M52.0 79.2h0M93.3 93.6h0"/><path stroke-width="3.3" d="M117.7 13.2h0M117.8 9.7h0M116.8 5.0h0M115.4 8.3h0M56.5 23.0h0M69.2 12.8h0M69.1 27.9h0M97.6 29.9h0M97.2 22.3h0M94.3 26.5h0M93.3 25.5h0M122.3 29.4h0M7.7 27.6h0M42.7 31.5h0M33.2 27.6h0M36.9 33.0h0M31.8 44.9h0M40.8 43.8h0M36.9 42.7h0M5.3 46.5h0M5.2 46.8h0M81.2 55.2h0M80.0 55.6h0M76.8 57.8h0M61.7 66.1h0M80.9 62.4h0M6.5 80.1h0M7.9 77.2h0M65.7 79.4h0M63.0 82.6h0M59.9 80.8h0M64.0 82.2h0M64.1 76.0h0M63.1 78.5h0M74.9 79.5h0M76.1 82.5h0M100.9 79.5h0M100.7 78.9h0M92.0 83.7h0M96.1 79.8h0"/></g><g id="h5" fill="none" stroke="currentColor" stroke-linecap="round"><path stroke-width="2.1" stroke-opacity=".55" d="M2.3 8.5h0M2.6 9.2h0M1.1 8.5h0M14.7 6.7h0M20.0 2.8h0M13.3 0.5h0M14.8 3.7h0M19.9 -0.4h0M23.3 3.3h0M14.3 6.8h0M17.9 -0.4h0M13.2 3.7h0M19.1 -1.3h0M12.5 4.7h0M26.1 7.5h0M23.6 5.5h0M42.4 5.3h0M40.2 2.1h0M37.6 4.5h0M44.8 8.3h0M41.3 3.5h0M45.5 -0.2h0M43.0 13.6h0M43.0 12.8h0M48.5 12.1h0M55.9 9.7h0M50.0 13.7h0M48.1 12.0h0M55.1 13.1h0M54.6 12.9h0M56.7 16.7h0M56.3 14.5h0M84.7 17.6h0M86.8 11.7h0M94.0 19.3h0M94.0 15.3h0M110.2 22.9h0M109.1 25.8h0M104.5 24.0h0M118.8 14.9h0M117.1 16.0h0M115.7 10.1h0M111.6 8.4h0M118.9 29.5h0M41.0 29.2h0M34.6 34.8h0M40.6 33.7h0M43.6 36.0h0M36.4 29.7h0M32.9 39.7h0M42.8 33.4h0M36.2 31.2h0M40.1 38.8h0M32.9 40.1h0M35.1 37.7h0M39.2 40.5h0M27.7 41.6h0M25.8 35.9h0M27.9 36.2h0M9.9 47.2h0M8.5 43.5h0M49.3 43.8h0M46.1 45.2h0M45.0 48.3h0M45.5 47.2h0M43.9 45.5h0M53.4 49.3h0M47.4 44.8h0M60.7 39.9h0M60.2 38.7h0M84.4 34.9h0M80.0 39.5h0M77.0 43.0h0M79.7 39.9h0M87.6 40.2h0M85.6 45.3h0M86.8 41.6h0M87.4 47.1h0M93.2 39.0h0M89.7 48.3h0M123.0 44.4h0M60.2 56.7h0M68.3 57.6h0M62.6 55.5h0M59.4 54.0h0M64.1 59.9h0M61.0 55.8h0M63.0 63.4h0M60.9 53.3h0M60.2 59.5h0M58.9 55.7h0M19.8 51.8h0M14.1 56.8h0M7.3 52.3h0M12.8 60.6h0M71.4 71.6h0M73.5 69.1h0M70.2 70.1h0M41.9 69.1h0M45.6 69.1h0M23.7 76.4h0M44.8 78.6h0M46.0 79.5h0M47.2 79.3h0M47.8 80.7h0M46.9 79.7h0M45.2 77.4h0M41.5 85.9h0M71.1 78.7h0M112.9 71.4h0M112.0 70.4h0M111.1 70.2h0M112.4 68.1h0M121.8 77.1h0M123.7 78.4h0M123.4 80.1h0M126.2 80.1h0M5.1 85.9h0M6.5 90.2h0M7.3 93.4h0M63.8 90.6h0M39.2 25.6h0M25.2 25.8h0M13.5 22.3h0M57.5 10.0h0M53.4 76.9h0M78.6 1.6h0M14.9 93.6h0M16.7 85.3h0M51.1 37.4h0M3.0 55.8h0M36.6 5.4h0M11.5 23.3h0M36.6 81.1h0M115.2 2.6h0M56.3 71.0h0M0.3 77.3h0M115.1 24.9h0M50.2 11.0h0M39.8 8.2h0M66.5 45.8h0M53.5 93.7h0M70.1 90.0h0M112.1 43.2h0M38.6 39.9h0M21.8 85.6h0"/><path stroke-width="2.5" stroke-opacity=".8" d="M0.5 10.6h0M16.2 6.0h0M20.3 6.8h0M24.8 9.1h0M27.9 7.9h0M45.4 3.7h0M44.0 -1.2h0M45.1 8.8h0M42.6 6.1h0M40.6 -1.4h0M40.6 1.2h0M44.1 8.4h0M43.4 1.5h0M39.7 9.4h0M44.4 11.1h0M42.4 9.9h0M42.0 10.2h0M50.9 11.4h0M49.9 8.2h0M55.0 17.8h0M57.4 17.8h0M67.9 6.2h0M15.6 19.3h0M27.9 25.5h0M59.9 27.9h0M58.9 26.5h0M80.5 17.0h0M80.5 17.4h0M87.8 13.8h0M92.5 18.3h0M97.1 17.5h0M98.3 17.9h0M98.8 23.4h0M109.0 24.2h0M107.4 23.7h0M110.1 21.0h0M105.6 22.0h0M110.7 21.5h0M115.2 7.1h0M115.1 10.2h0M112.3 12.5h0M116.3 8.9h0M116.7 14.6h0M118.9 9.4h0M114.0 11.6h0M107.1 4.1h0M87.8 28.2h0M38.4 30.4h0M39.7 32.7h0M38.0 36.8h0M45.0 33.9h0M33.2 33.4h0M42.3 35.7h0M36.1 28.9h0M38.9 30.2h0M24.5 39.6h0M27.7 36.0h0M23.3 37.2h0M9.2 47.0h0M10.6 40.7h0M8.8 41.9h0M48.6 50.2h0M50.5 44.4h0M49.0 50.9h0M51.8 49.1h0M45.5 51.3h0M53.7 51.1h0M51.1 50.8h0M45.9 48.4h0M28.6 47.5h0M84.5 37.7h0M80.3 45.5h0M76.5 43.3h0M75.5 40.9h0M82.3 41.2h0M78.9 42.3h0M77.9 42.2h0M93.8 46.0h0M94.8 45.3h0M87.3 38.1h0M94.9 42.8h0M86.5 42.7h0M89.0 38.5h0M93.7 45.6h0M88.2 45.3h0M90.7 41.1h0M100.4 40.1h0M100.7 39.4h0M124.3 44.1h0M68.2 53.9h0M56.0 56.8h0M66.9 53.0h0M64.3 57.5h0M64.1 50.8h0M67.0 61.4h0M59.7 55.1h0M61.0 61.8h0M69.3 55.5h0M64.9 56.6h0M62.9 61.0h0M20.0 50.5h0M15.0 56.5h0M72.6 69.8h0M70.4 71.6h0M73.2 70.2h0M42.3 66.4h0M43.6 68.0h0M40.4 69.2h0M40.6 70.3h0M25.9 68.1h0M50.7 71.6h0M23.1 75.7h0M39.4 78.7h0M42.4 78.1h0M27.3 81.9h0M40.5 84.5h0M72.1 79.0h0M105.7 67.5h0M126.2 80.2h0M122.9 81.2h0M4.8 84.9h0M9.1 90.0h0M9.2 90.7h0M35.5 90.9h0M50.7 87.4h0M66.3 92.4h0M125.0 49.6h0"/><path stroke-width="3.3" d="M22.2 4.1h0M17.5 6.2h0M21.9 3.2h0M17.6 4.1h0M45.7 2.4h0M38.5 3.3h0M42.4 4.1h0M42.9 8.7h0M38.1 12.8h0M42.5 15.3h0M50.5 7.7h0M81.2 18.9h0M98.2 18.8h0M109.3 22.8h0M113.6 11.5h0M119.6 28.2h0M44.2 36.7h0M41.3 31.5h0M38.0 28.6h0M39.6 40.0h0M38.3 35.8h0M10.4 41.9h0M53.7 45.0h0M49.3 47.5h0M85.7 40.1h0M90.6 42.7h0M57.1 59.0h0M65.6 60.8h0M63.8 52.1h0M63.1 56.4h0M43.1 74.4h0M44.1 82.5h0M41.2 77.1h0M41.4 81.6h0"/></g><g id="s0" fill="none" stroke="currentColor" stroke-linecap="round"><path stroke-width="1.8" stroke-opacity=".45" d="M74.6 24.6l0.3 0.6M35.0 19.3l-0.2 0.0M24.9 16.4l-0.0 0.1M34.3 11.6l1.7 1.0M48.7 7.1l-1.4 1.9M51.6 8.3l0.3 0.1M100.7 29.8l0.4 0.7M62.9 62.5l1.2 1.9M62.8 63.5l-0.2 1.0M25.5 64.5l0.2 0.1M10.7 50.5l0.3 0.1M9.8 57.4l-1.0 0.1M9.5 53.2l0.1 1.3M15.5 38.2l-1.7 0.8M69.8 53.9l-0.6 0.9M115.9 61.3l1.1 1.4M6.0 66.6l-1.5 0.1M5.7 63.2l0.5 1.2M87.6 52.7l-0.4 1.1M90.8 52.9l0.1 0.0M80.8 23.7l-0.8 1.5M86.4 23.4l0.9 0.8M94.9 59.5l-1.4 1.2M92.1 56.2l-0.1 0.0M92.1 43.9l-0.2 0.3M30.0 8.0l-0.2 0.8M28.8 12.0l-0.5 0.5M101.1 83.4l-0.1 0.4M118.9 78.1l0.3 0.0M58.0 52.3l-0.2 1.7M56.6 64.4l-0.3 0.1M119.1 37.9l1.0 0.5M114.2 32.7l-0.1 1.6M18.9 65.8l-1.5 0.4M16.3 62.9l0.1 0.5M38.4 63.9l-1.6 0.8M37.8 18.2l0.8 0.1M39.2 14.2l-0.1 1.2M38.8 19.2l-1.0 0.5M6.4 24.1l1.6 1.2M93.3 32.3l0.2 0.3M94.8 29.1l-0.5 2.3M25.5 76.9l0.6 0.2M26.3 78.1l0.8 1.5M26.2 81.2l1.8 1.2M62.6 32.8l-1.2 1.7M62.7 34.9l1.4 1.7M61.8 33.9l-1.9 0.8M74.3 39.3l-1.1 1.0M30.2 27.1l-0.1 0.1M29.1 28.3l-0.4 1.0M33.6 25.7l-0.0 0.0M6.9 53.0l0.0 0.0M59.1 37.7l-1.4 1.3M52.6 36.5l0.0 1.5M58.1 35.6l0.6 0.3M104.7 83.4l1.5 1.0M107.2 79.8l-1.5 0.2M15.2 16.3l-2.1 0.9M15.6 14.0l1.5 1.4M0.2 21.3l-0.0 0.2M1.7 21.4l-2.0 1.3M73.3 84.7l0.4 0.9M51.1 68.3l0.1 0.2M58.3 71.3l-0.3 0.8M89.8 88.1l1.4 1.9M97.0 83.7l0.7 0.7M76.9 1.6l0.1 0.1M79.2 93.7l0.2 0.1M81.0 94.9l-0.1 0.1M38.2 92.9l-1.3 0.5M102.9 31.7l1.2 1.8M106.3 35.7l1.3 0.8M103.1 37.7l1.4 1.3M16.7 80.1l-1.0 1.9M97.2 53.0l0.5 0.4M92.1 52.6l-0.5 0.2M47.3 26.4l0.1 0.1M45.4 20.1l0.4 0.4M47.6 22.4l0.7 2.3M61.8 32.8l0.0 0.0M60.2 35.9l1.7 1.4M113.4 68.4l2.3 0.0M119.1 67.6l0.2 0.0M120.5 9.9l0.4 1.2M112.9 11.7l-1.6 1.2M108.7 12.3l0.4 0.4M59.9 6.9l-1.5 0.4M61.9 9.7l-0.9 1.3M46.6 45.2l-0.5 1.1M52.2 51.1l0.6 1.3M54.0 50.3l-0.2 0.8M26.7 34.8l1.4 1.9M28.7 39.8l-1.0 0.9M63.5 52.4l-0.3 1.2M63.4 55.2l-1.4 0.3M65.8 79.9l-1.9 0.8M32.1 12.4l-0.7 1.9M34.5 40.7l-1.1 0.3M74.5 22.6l-0.4 1.4M72.4 20.8l0.0 0.1M61.9 81.1l-0.9 0.2M44.4 86.3l1.8 0.6M47.4 24.9l0.0 0.0M121.0 7.2l-0.3 0.7M121.8 8.7l-0.0 0.2M56.7 80.5l1.0 1.2M51.7 81.0l-0.4 1.5M111.5 -0.7l1.6 0.7M14.3 38.1l-0.0 0.8M8.7 38.2l0.0 0.2M6.9 39.4l-1.2 0.4M24.1 6.9l-1.2 1.7M26.9 8.8l-0.8 0.6M81.1 81.7l0.4 0.3M115.3 45.5l-0.0 0.0M82.4 76.2l-0.9 1.4M102.1 83.9l0.0 0.1M7.3 74.2l-0.5 1.7M12.4 71.7l0.9 1.7M13.6 72.0l-0.6 1.8M42.8 38.2l0.0 0.0M41.1 41.5l0.2 0.6M36.2 46.5l-0.7 0.6M56.4 44.1l-0.3 0.6M54.1 44.4l0.5 0.1M64.4 80.2l-0.2 2.4M64.0 79.8l-0.6 0.3M66.2 79.7l1.6 0.7M85.7 5.3l-1.2 1.0M112.3 66.6l-2.1 0.5M44.1 65.2l0.2 0.1M44.9 63.9l-1.0 0.5M114.7 68.4l1.0 1.5M14.6 46.9l-0.8 1.5M14.5 47.2l0.6 0.7M17.3 46.4l-0.9 1.0M19.2 49.7l-1.9 1.4M111.6 37.0l0.3 0.8M102.0 53.5l-0.3 2.1M56.7 84.6l0.6 1.5M58.1 76.7l-1.5 0.5M57.1 81.4l0.8 0.6M87.8 42.7l-0.6 2.0M85.7 39.7l-1.8 0.2M80.9 42.5l0.1 0.0M96.7 56.0l1.8 1.0M100.0 58.0l-0.3 1.0M95.6 54.9l0.9 1.6M121.0 50.4l0.5 1.5M36.3 55.6l0.6 0.9M38.4 56.6l-0.0 0.0M35.0 52.5l-1.6 0.3M52.7 36.4l-1.3 0.2M55.7 17.2l0.0 0.1M58.7 14.0l-1.8 0.8M68.7 84.5l-0.0 0.9M68.3 86.4l-0.3 2.0M115.6 48.4l-0.5 0.6M113.2 47.9l0.3 2.1M33.1 60.6l-1.0 0.4M56.3 5.5l-0.4 1.5M123.7 56.1l-1.3 1.4M25.4 15.4l-0.2 0.5M1.9 87.9l-0.2 1.8M12.7 86.5l2.1 0.1M111.0 32.3l1.4 1.5M125.9 30.4l-0.7 0.4M121.2 11.1l-0.1 1.2M11.6 50.8l-1.0 0.9M85.7 54.6l0.1 1.7M57.9 56.2l1.0 0.4M81.8 41.6l0.0 0.2M16.5 5.7l0.0 0.0M44.2 79.2l0.4 1.7M3.9 45.7l0.3 1.1M88.4 44.2l0.1 0.0M93.3 33.7l0.4 0.2M95.8 90.3l-0.2 0.1M123.0 24.2l-0.1 1.2M122.4 19.5l0.4 1.0M118.2 71.9l0.0 0.1M42.8 47.9l-1.4 0.3M117.6 81.0l-0.3 1.1M109.3 55.5l-0.3 0.2M65.7 91.9l1.1 2.1M24.6 7.4l-2.1 0.7M55.3 83.6l1.8 0.6M60.4 39.9l0.1 2.2M116.9 76.6l-0.0 0.0M26.8 31.3l-1.8 1.5M37.6 18.8l1.4 0.0M3.6 71.1l0.1 0.1M81.0 18.5l-0.2 0.0M42.6 61.0l0.4 0.7M26.6 67.3l1.0 0.4M2.3 65.5l0.8 0.3M31.4 0.9l0.1 0.4M97.1 4.4l0.7 1.0M51.8 88.8l0.2 0.3M59.7 76.6l-0.4 1.7M14.8 32.2l0.8 0.2M27.2 50.9l0.0 0.1M123.3 83.6l0.8 0.9M32.9 50.3l-0.8 1.2M121.4 43.4l1.6 0.5M35.0 57.2l-0.7 1.0M4.1 66.2l-0.0 0.0M55.9 92.3l0.0 0.0M37.6 56.8l1.8 0.2M78.3 85.0l0.3 0.3M9.9 30.6l0.1 0.0M125.9 52.0l-0.8 0.7M81.5 85.4l-0.2 0.3M65.4 92.4l1.8 1.2M17.7 20.9l1.1 0.5M41.0 69.8l-1.0 1.4M6.3 81.7l1.6 0.6M24.8 38.4l-0.1 0.1M109.2 89.7l-1.0 1.3M47.8 67.6l0.4 1.9M30.7 46.1l0.8 1.4M88.4 42.6l-0.0 0.0"/><path stroke-width="2.1" stroke-opacity=".75" d="M75.3 28.6l0.1 0.4M77.4 34.1l-0.2 0.1M96.6 71.9l0.3 1.7M30.3 18.4l1.8 0.8M38.0 15.4l-0.9 1.6M29.1 20.1l1.0 2.2M99.8 26.9l0.8 1.1M64.6 65.5l0.4 0.2M66.2 63.4l-1.8 0.8M61.6 63.8l1.0 1.1M24.0 64.2l-0.0 0.1M24.8 62.9l0.5 0.9M25.8 64.9l1.0 0.4M8.2 51.0l0.2 0.1M13.5 54.1l-1.4 0.2M4.5 33.5l0.6 1.7M3.1 37.9l1.5 1.3M16.0 31.7l0.9 1.2M80.5 58.2l-0.2 1.5M111.9 49.2l1.8 0.7M120.7 59.7l0.1 0.3M112.0 62.6l-0.1 0.4M97.3 24.9l0.5 1.2M105.5 21.7l0.8 0.2M105.2 24.5l-1.4 0.3M3.1 65.3l0.9 0.5M-0.2 65.0l2.0 0.2M89.4 59.0l-0.6 0.7M96.0 54.3l1.3 0.9M72.2 91.9l-2.0 1.2M68.9 95.0l0.6 0.8M66.1 94.5l0.8 0.4M84.0 24.0l0.1 1.9M95.7 54.8l-1.4 1.0M91.4 53.5l1.0 1.2M86.5 48.7l-0.0 0.1M90.6 47.1l-1.9 0.8M50.2 85.4l1.7 0.5M52.1 82.7l0.8 1.2M119.4 78.4l-0.4 0.3M80.0 6.1l-0.5 0.0M74.7 10.3l-0.4 1.6M56.0 56.4l2.0 0.7M53.7 54.5l-0.2 1.6M16.2 62.2l1.1 1.4M33.9 60.4l1.8 0.5M32.0 63.0l-0.5 1.4M38.8 13.9l-0.5 2.3M40.9 14.8l0.0 0.0M84.3 73.8l1.6 0.1M78.8 72.6l0.4 0.3M84.9 75.9l0.1 0.1M4.6 19.8l-0.4 1.4M5.4 21.5l-0.8 0.5M2.8 20.8l0.6 0.2M59.6 9.5l1.0 0.4M13.5 53.1l0.3 0.0M93.7 31.4l-1.7 0.5M27.7 77.1l1.7 1.2M29.6 76.3l-0.5 1.4M31.1 79.6l-1.1 1.5M66.7 34.1l-1.5 0.5M59.7 34.1l1.6 1.2M70.9 38.4l0.2 1.7M71.2 43.0l0.6 1.8M69.5 40.1l0.1 0.2M76.4 40.8l-0.6 0.8M10.1 26.5l1.2 0.4M35.0 26.1l1.2 0.8M28.5 26.4l0.8 1.3M31.2 29.0l0.7 1.4M32.3 28.2l2.1 0.7M7.1 54.4l-1.6 0.8M55.3 35.7l1.0 1.0M58.2 37.6l1.3 0.3M109.0 79.4l0.7 0.7M106.1 84.8l-0.3 1.8M81.8 79.3l0.1 0.2M83.0 91.3l0.1 0.2M95.9 57.2l-1.3 1.7M91.3 63.3l1.9 0.5M98.7 56.4l-0.9 0.4M99.6 57.7l-0.6 0.9M98.4 62.6l-1.1 0.3M39.9 48.9l-0.6 0.2M49.2 55.5l-1.5 0.4M3.0 21.8l-1.5 1.2M-1.9 22.1l0.4 1.4M71.2 80.0l0.0 0.1M74.2 80.4l0.2 1.4M74.6 81.2l-1.8 0.9M58.1 67.5l0.4 0.4M52.5 70.7l0.2 0.1M54.4 65.5l-0.8 0.0M44.1 69.1l0.1 0.5M94.3 89.0l0.2 0.1M97.2 80.6l0.6 0.5M79.5 5.1l0.9 0.4M80.1 92.7l-0.5 0.3M79.0 89.8l-0.3 1.1M126.0 20.9l0.7 0.9M125.8 25.5l-1.6 0.5M42.2 94.2l0.0 0.0M38.6 94.5l-0.4 1.7M19.7 75.8l-1.3 1.1M74.7 85.8l0.4 1.8M70.1 74.5l1.4 1.3M73.7 65.6l-0.2 0.2M73.4 69.6l0.0 0.1M67.8 68.4l-1.2 1.6M100.9 59.5l1.9 0.2M46.6 25.4l0.3 1.8M44.8 21.8l-1.0 0.5M71.6 79.5l-0.1 0.1M116.2 67.3l0.4 0.2M76.9 38.3l1.3 2.0M108.2 12.8l-0.9 0.2M57.7 8.5l-1.8 0.2M59.6 4.7l0.8 1.9M57.0 8.5l1.0 0.7M50.6 46.7l0.0 0.6M55.2 46.7l-0.2 0.4M53.5 44.9l-0.1 1.2M23.8 35.3l1.4 1.6M25.6 36.0l-0.4 1.4M70.7 80.4l0.8 0.8M65.3 81.8l0.7 0.3M66.5 80.4l0.1 0.0M28.4 13.4l-0.5 1.1M24.8 9.6l0.0 1.6M27.0 14.5l-2.2 0.8M5.5 24.8l-0.4 0.0M26.4 75.4l1.8 1.4M24.9 75.4l-1.4 1.4M122.9 91.1l-0.5 0.6M74.9 24.8l-0.3 0.2M122.7 6.3l-0.3 0.2M56.3 86.2l0.6 0.0M57.2 87.1l0.1 0.0M107.9 0.6l-0.0 0.1M13.8 35.0l-0.8 1.1M5.8 37.6l1.8 0.2M28.4 5.4l1.6 1.0M23.5 9.1l-0.0 0.1M23.2 2.8l0.4 1.9M112.7 48.2l2.2 0.6M111.9 42.7l-0.6 1.5M76.3 80.3l1.4 1.5M80.7 73.3l-0.7 1.3M78.6 72.5l-0.3 1.0M82.4 83.3l0.2 0.2M97.9 76.0l-0.7 0.3M99.7 73.0l-0.2 0.5M7.2 69.4l-2.2 0.8M123.8 25.9l0.8 0.6M120.2 27.9l0.3 0.4M43.1 37.2l-0.6 0.1M36.3 40.7l-0.7 0.3M42.8 34.1l-1.3 0.5M76.7 61.5l-0.4 0.2M78.7 57.4l0.2 0.6M82.1 61.9l-1.0 2.2M29.9 48.4l-0.2 1.0M26.9 46.6l-1.1 0.9M56.2 47.7l1.3 0.1M72.6 17.9l-0.2 0.9M62.0 77.2l1.0 0.0M68.2 78.4l-0.4 0.1M60.4 80.3l-0.1 0.2M94.9 7.4l-0.0 0.1M90.8 3.0l-0.0 0.0M87.2 6.5l-1.1 0.1M45.2 62.5l0.1 0.2M15.7 45.4l-1.6 0.8M17.0 50.3l-1.3 1.4M113.7 39.4l0.3 0.7M112.8 34.7l-1.3 1.3M112.1 29.8l0.6 0.5M109.1 36.3l1.8 0.3M114.0 34.7l0.6 0.0M36.8 89.0l1.2 0.4M103.1 49.4l0.4 1.3M32.1 59.6l-0.4 1.5M31.1 64.8l0.0 0.2M58.8 86.1l-1.3 1.4M55.1 90.6l-1.6 1.4M57.2 77.7l0.8 2.0M59.5 81.6l0.0 0.0M92.0 41.8l-0.2 0.2M53.7 69.7l-0.3 0.1M79.9 47.6l0.0 0.1M102.1 60.0l0.7 2.2M122.1 52.4l-1.0 1.6M123.7 52.9l-1.3 0.7M109.1 69.5l-1.6 1.3M32.8 50.3l-0.3 1.7M53.4 38.4l2.2 0.2M17.2 25.5l-0.6 0.3M16.7 22.1l-2.3 0.1M101.5 17.2l-0.4 0.6M96.3 21.4l-0.6 0.4M100.4 14.8l-0.0 0.9M75.6 19.8l-0.4 0.0M77.7 27.3l1.0 1.6M69.2 84.5l1.4 0.7M113.1 52.0l-0.5 0.7M114.2 49.7l-1.3 0.2M18.8 17.0l0.1 0.1M48.6 74.6l0.7 2.2M46.9 78.4l-1.3 1.0M0.5 36.3l-0.6 1.7M35.5 83.8l0.6 0.1M36.5 17.1l-0.4 0.3M95.3 87.4l0.5 0.1M41.2 93.4l0.7 1.0M79.0 40.0l0.1 0.0M21.6 12.2l1.0 0.1M101.6 29.8l1.0 0.1M91.1 83.9l0.6 0.2M20.4 59.2l2.0 0.5M119.6 10.0l0.6 1.1M95.0 31.9l1.4 0.8M108.4 9.2l-1.9 0.7M82.5 68.6l0.7 1.1M18.4 88.4l-2.2 0.1M35.1 94.1l-0.1 0.5M124.8 69.3l-1.6 1.2M73.3 72.4l0.6 0.4M29.7 2.2l-2.1 0.2M2.2 48.5l-0.4 1.1M83.9 10.5l1.3 1.9M70.0 29.1l-0.4 2.3M63.2 55.9l1.4 1.4M42.4 85.2l-0.3 0.5M19.0 80.8l-0.7 0.3M112.7 20.0l0.6 1.8M6.7 48.2l0.2 1.2M4.6 28.8l0.0 0.0M68.5 11.1l-0.2 0.3M33.0 65.2l-0.2 0.4M79.9 28.6l1.0 0.6M84.8 88.2l-0.8 0.3M91.2 54.0l-2.0 0.2M51.3 81.0l0.0 0.1M17.6 8.0l-1.2 1.8M53.9 52.6l-1.8 1.4M67.4 50.5l-0.4 0.9M26.2 63.0l-0.6 0.5M19.8 59.5l0.1 0.0M12.1 28.8l-0.0 0.0M1.3 3.1l-1.1 1.6M105.3 44.5l-1.3 1.0M12.0 39.2l-1.7 0.8M115.8 10.2l0.8 2.1M62.0 17.9l0.2 0.2M47.4 64.6l-0.1 1.2M32.9 33.4l-0.2 0.9M81.9 44.6l1.6 1.7M51.9 63.5l0.3 2.2M64.6 56.8l-1.5 0.3M74.2 86.2l1.9 0.7M115.3 9.8l0.4 1.0M31.6 49.5l-1.8 0.3M86.5 0.9l-1.8 0.1M88.3 25.4l-0.6 0.9"/><path stroke-width="2.6" d="M76.7 26.3l1.0 1.3M72.1 33.2l0.7 1.8M11.0 53.1l0.0 0.0M20.8 30.6l1.2 0.3M116.5 55.9l0.7 0.1M101.3 19.4l0.1 1.1M88.8 45.2l0.3 1.8M95.3 48.1l-1.9 0.8M69.8 77.7l1.4 0.6M119.4 76.6l-0.4 1.2M79.2 12.1l-0.9 1.9M58.6 60.8l-0.0 0.0M126.2 33.1l-1.1 1.5M16.7 70.4l1.2 1.3M23.4 59.9l-1.8 0.6M36.7 62.5l-1.6 0.8M32.4 61.3l2.3 0.6M37.1 61.6l-1.3 0.1M3.9 20.3l-0.9 0.9M11.9 54.6l0.1 0.7M11.2 52.5l-0.1 0.3M25.9 77.7l-0.0 0.1M62.4 37.0l0.6 0.1M75.6 37.6l0.5 0.5M75.3 33.6l0.1 0.3M12.8 23.1l1.8 1.1M12.9 26.1l-1.5 0.1M11.9 22.4l2.2 0.7M55.7 36.0l-0.3 0.3M110.0 81.0l-1.1 0.1M104.0 76.0l-1.3 1.2M16.1 12.9l-1.7 0.8M84.0 89.4l-2.0 0.6M38.7 54.5l-0.5 2.2M73.5 81.4l0.2 0.3M46.1 72.5l0.4 0.7M51.7 74.3l-0.9 0.8M56.3 37.2l-1.7 1.4M127.3 22.6l-1.4 0.7M123.0 28.2l0.8 1.3M104.9 37.6l-0.6 0.1M105.1 34.1l-0.6 0.4M21.8 80.8l1.0 1.4M81.5 90.8l-1.3 0.6M67.4 69.3l2.3 0.4M46.7 24.5l0.3 0.0M51.3 23.2l0.1 0.8M65.4 35.6l-1.0 1.9M111.9 73.0l-0.4 0.3M76.8 41.8l-0.4 0.3M51.1 48.1l0.8 0.6M63.0 55.0l0.2 2.3M64.6 78.6l1.1 0.3M2.9 21.7l-0.1 1.1M70.2 21.8l-0.3 1.5M73.4 22.3l-0.2 0.1M60.7 78.7l1.5 1.7M44.7 86.7l-1.1 0.9M13.5 39.6l-0.1 0.5M8.6 35.8l1.0 0.2M72.5 84.3l-1.2 0.4M74.3 75.9l2.1 0.1M77.5 83.0l-0.5 1.1M111.6 46.7l-0.2 0.1M80.6 72.5l-1.5 0.5M42.7 45.5l0.2 1.7M6.9 6.9l-0.1 1.8M-0.8 0.3l0.1 0.6M98.9 76.5l-1.4 0.7M99.7 67.4l-0.9 1.5M7.4 73.7l-1.1 0.4M9.3 71.2l0.2 1.0M41.1 39.2l-0.0 0.0M72.6 63.3l1.6 0.1M25.0 48.5l-2.1 0.3M69.7 17.9l0.1 2.3M64.8 79.3l-0.7 0.6M96.3 6.4l-1.2 0.1M46.9 64.4l-0.4 0.1M18.2 44.2l1.2 1.2M15.3 50.5l1.1 0.6M39.1 80.2l1.6 0.7M77.2 46.2l0.0 0.6M80.2 43.6l0.8 1.3M71.2 42.7l1.3 0.7M99.0 57.3l0.0 0.0M120.6 48.9l0.6 2.0M35.4 48.3l1.0 0.2M50.6 43.5l-1.1 1.8M18.8 25.4l-1.9 0.6M51.7 17.6l1.6 0.5M78.9 23.5l1.4 1.6M45.4 90.3l0.7 1.3M13.0 72.6l1.6 0.8M32.5 51.2l-0.1 1.0M70.2 12.0l0.2 0.3M31.1 37.1l0.1 0.7M123.0 79.2l0.3 0.5M59.7 62.3l1.6 0.3M36.6 24.6l-0.6 1.7M111.9 89.7l-1.9 0.9M26.1 5.7l0.2 0.6M32.7 30.3l1.1 1.9M11.8 67.5l0.6 0.3M1.6 29.7l0.0 0.2M51.1 37.2l0.2 1.7M86.3 87.9l0.2 0.1M21.8 24.9l-1.5 0.9M103.2 20.4l0.3 0.3M45.9 86.7l-0.8 0.1M12.4 67.3l-1.2 1.1M0.2 9.3l0.4 0.3M119.5 38.2l0.1 0.0"/></g><g id="s1" fill="none" stroke="currentColor" stroke-linecap="round"><path stroke-width="1.8" stroke-opacity=".45" d="M15.3 46.7l-1.9 0.2M92.4 46.4l-0.7 0.1M91.8 45.5l-0.0 0.0M92.1 44.1l0.0 0.2M12.8 59.3l-0.8 2.1M118.1 55.1l0.5 0.7M107.5 61.1l0.6 1.8M103.3 64.9l1.2 0.1M105.0 65.3l0.3 1.1M26.2 78.7l1.3 0.6M24.1 82.5l-0.0 0.0M124.3 1.1l-0.1 1.8M128.2 8.7l-1.1 0.1M6.2 83.5l-1.0 1.8M14.9 84.0l-0.1 1.0M4.4 26.7l0.4 0.3M4.9 30.5l1.3 0.7M2.3 30.6l0.5 0.1M103.3 62.7l-0.8 1.2M101.7 61.1l0.9 2.0M74.4 84.8l-1.1 0.5M77.3 88.8l-0.1 0.0M82.3 38.7l-0.1 1.3M62.8 71.9l-0.4 0.0M69.9 68.2l-0.2 0.1M67.6 42.9l-0.8 0.6M73.5 44.0l-1.7 0.3M68.9 43.4l-0.3 0.4M70.0 42.4l2.1 0.2M49.2 12.7l-1.2 1.9M54.4 9.1l-1.9 0.5M81.9 68.5l-0.4 1.0M104.3 3.0l1.9 0.1M104.8 0.4l-1.9 0.9M5.8 17.9l0.9 0.1M11.7 7.9l1.6 0.2M96.6 13.2l0.2 0.1M6.8 74.2l1.1 1.2M86.0 79.1l0.7 0.0M113.4 23.4l1.6 1.1M67.8 2.4l2.2 0.6M70.7 2.0l0.1 0.1M35.1 31.9l0.9 1.1M42.4 29.7l-1.4 0.8M57.7 33.7l1.1 1.1M59.9 32.1l-1.9 0.2M14.3 71.9l1.6 1.2M82.0 26.4l-0.8 2.1M103.6 15.3l-1.3 0.0M108.4 16.6l-0.5 0.0M11.9 50.5l0.0 0.8M7.8 49.4l-0.5 0.3M112.4 76.7l2.3 0.3M58.7 15.7l-1.0 1.2M68.7 2.6l0.6 1.6M57.8 10.9l0.1 1.2M71.7 52.4l-0.1 0.7M87.4 34.2l-0.8 1.5M88.7 27.3l0.3 2.1M87.8 26.8l0.2 1.6M33.0 56.5l0.0 1.0M34.9 61.0l0.3 0.1M34.8 65.0l-0.2 0.1M1.3 57.9l0.5 0.8M7.1 58.2l-1.2 0.8M20.7 49.6l-1.0 0.4M24.3 55.4l-0.8 0.7M26.1 50.5l-0.2 0.5M89.7 19.9l0.1 0.8M86.4 16.0l0.0 0.7M83.7 69.9l-1.1 1.1M74.7 62.2l-0.0 0.3M72.4 63.8l0.5 1.5M80.6 13.9l1.3 0.6M76.4 8.0l-2.2 0.2M1.7 61.8l-1.5 0.8M123.1 61.5l-0.6 0.2M42.4 9.3l1.3 0.4M21.3 23.4l1.1 0.4M24.0 27.7l1.0 1.5M21.7 22.2l-0.3 0.5M16.1 0.9l2.1 0.5M23.9 -0.7l-0.2 0.9M40.6 55.3l0.7 0.5M73.7 66.5l-0.6 0.6M107.5 18.3l0.2 0.0M109.3 17.5l2.1 0.5M76.7 43.0l-0.6 0.2M23.6 54.3l0.4 0.5M20.7 52.2l0.2 0.1M48.2 73.9l-0.5 0.3M44.2 55.7l0.0 0.1M53.7 17.1l0.1 1.7M55.4 15.4l-1.8 0.9M18.0 33.6l-0.2 0.3M21.5 33.2l0.6 1.5M65.3 26.0l-0.0 0.2M62.0 29.1l0.4 1.4M118.0 23.0l0.7 0.1M113.1 23.5l0.7 0.5M75.5 84.3l0.3 0.4M41.9 66.5l0.9 0.4M42.1 68.1l-0.5 0.1M19.8 64.4l0.0 0.1M88.7 83.0l0.8 0.2M88.8 85.0l-0.0 0.1M91.0 88.9l0.8 0.7M43.9 66.4l0.5 0.4M45.8 64.2l0.7 1.3M44.2 66.5l2.0 1.0M45.8 83.2l-1.0 0.2M15.7 6.4l0.2 0.3M20.5 12.4l-0.5 0.0M61.5 86.5l-0.1 0.2M59.3 88.7l0.4 0.4M65.7 87.1l0.3 0.0M51.6 84.8l-1.2 1.1M124.4 67.0l0.6 2.1M98.4 -0.6l-0.3 0.8M98.1 0.9l1.6 0.9M3.3 91.0l0.2 1.0M6.6 90.7l2.2 0.5M92.3 90.8l-0.3 0.2M89.7 24.5l0.3 0.9M119.6 66.5l-0.6 0.1M20.9 4.1l-1.0 0.1M20.3 9.8l2.1 0.9M41.3 38.1l-0.3 0.1M65.6 32.8l0.1 0.3M66.7 33.3l0.6 0.8M32.5 30.3l0.9 1.5M33.7 59.7l1.8 0.5M30.4 59.5l-0.9 1.3M30.2 59.0l1.5 1.0M43.8 48.4l0.5 1.8M48.9 54.6l-0.0 0.3M5.1 76.0l0.1 0.0M117.8 40.6l-1.2 0.2M122.0 66.4l0.0 0.0M58.7 63.6l0.9 1.4M18.4 91.4l2.0 0.3M65.4 7.2l0.7 0.1M108.7 49.4l-2.0 0.2M112.3 54.0l0.4 0.6M6.1 27.3l-1.0 1.3M6.8 30.3l0.9 0.8M6.6 28.0l-0.1 0.7M45.5 36.0l0.7 0.8M47.8 39.1l1.5 0.8M50.3 37.5l1.0 0.2M21.8 39.9l0.8 0.2M75.7 57.1l1.8 1.4M79.2 52.1l0.6 0.1M27.7 64.1l-0.7 0.5M62.9 40.2l0.4 0.1M112.1 37.8l1.4 0.9M108.0 41.2l-1.2 1.0M110.7 33.8l-0.7 0.0M81.7 93.4l1.5 1.0M82.5 96.6l-0.3 0.1M76.4 54.2l2.0 0.5M23.5 15.2l0.8 0.7M107.3 83.7l1.5 0.6M71.5 54.9l-2.1 0.9M-0.1 25.2l0.5 0.1M109.9 65.7l0.8 1.0M108.3 75.2l-0.3 0.2M102.3 90.8l1.4 0.7M98.4 88.1l-0.5 0.8M102.2 91.4l-0.1 0.4M43.5 70.2l0.0 0.8M40.8 71.1l0.7 0.5M14.3 9.5l-1.5 1.4M67.6 53.2l0.5 0.6M68.7 49.8l-1.1 0.5M68.9 48.9l1.4 0.9M52.9 25.8l0.6 0.7M53.7 30.2l1.9 1.0M76.2 76.1l0.2 0.7M80.7 72.6l0.7 1.5M86.9 85.2l-1.3 1.1M25.3 37.1l-1.0 1.0M26.4 39.3l-1.4 0.2M114.7 60.0l1.5 0.1M109.7 87.8l0.9 0.8M71.7 45.7l1.1 0.4M99.2 90.8l-0.8 1.2M41.5 34.3l1.2 1.3M91.8 31.7l1.2 1.1M97.0 14.0l0.4 0.8M50.2 53.7l0.3 0.0M85.1 14.4l0.0 0.5M78.9 36.7l-0.0 0.0M55.2 80.3l-0.5 0.9M27.9 12.2l-0.1 0.1M65.0 7.8l0.1 0.0M27.1 38.8l0.9 0.8M90.9 7.1l-1.6 0.3M110.0 42.1l0.9 0.1M55.0 29.0l0.1 0.1M34.7 62.8l-1.1 1.7M101.1 42.4l1.7 0.1M43.5 77.7l0.0 2.3M109.9 69.7l1.0 0.5M120.7 55.6l0.8 0.7M95.5 48.6l-2.3 0.2M89.2 8.0l1.7 0.3M121.1 18.8l0.2 0.2M118.7 13.5l0.1 0.3M52.7 21.8l-0.4 0.1M47.5 3.7l-2.0 0.8M124.3 82.2l0.5 2.3M72.0 6.2l-0.4 2.2M114.3 88.8l-2.1 0.2M41.2 71.8l2.2 0.1M95.0 84.7l-1.2 1.6M87.0 60.8l0.3 0.6M114.5 1.6l0.1 0.1M37.2 69.2l-0.7 1.1M91.1 45.4l-1.8 1.0M35.5 1.8l-0.1 0.7M9.2 37.4l2.0 1.1M4.0 90.7l-0.9 0.5M59.3 73.7l0.1 0.1M98.8 12.9l0.1 0.2M7.2 37.0l0.2 1.9M63.0 22.0l0.2 1.8M82.2 2.3l0.2 0.5M101.9 57.9l-0.5 0.4M97.1 62.3l0.7 0.3M37.9 63.1l0.7 0.3M14.4 60.9l1.0 0.6M40.4 16.6l0.1 0.8M42.9 54.3l-0.6 1.1M74.9 50.4l0.7 0.2M86.4 21.3l1.4 1.5M28.3 11.4l-0.1 0.3M95.2 89.5l0.2 0.2M81.0 62.0l-1.9 0.8"/><path stroke-width="2.1" stroke-opacity=".75" d="M93.3 44.8l0.3 0.0M92.3 45.9l-0.4 1.8M95.5 42.3l0.7 0.3M96.5 46.1l0.7 0.6M121.4 59.7l-0.5 0.2M106.5 62.6l-0.9 0.5M104.8 61.3l-0.7 0.5M108.5 62.4l-1.0 0.1M99.5 40.6l0.1 1.1M101.5 34.8l1.0 0.6M34.0 81.6l1.6 0.1M124.0 8.1l0.3 0.3M8.6 32.3l-0.7 1.4M5.8 25.8l0.0 0.2M1.0 25.9l2.4 0.1M104.2 11.3l-0.0 0.0M100.6 60.2l-2.0 0.0M82.3 36.1l0.5 0.7M84.7 41.6l0.2 1.5M71.1 73.1l-0.1 1.2M70.8 46.8l-0.5 1.0M69.9 47.4l2.2 0.4M69.0 44.1l-0.1 0.2M68.6 41.7l1.9 1.2M46.3 13.5l-0.8 0.5M52.0 7.1l-2.3 0.2M79.4 71.9l-1.3 0.9M103.0 3.8l0.1 1.3M106.7 -1.3l0.3 1.5M103.8 4.0l0.4 2.1M104.8 -0.1l-0.8 1.7M106.0 4.7l-0.1 2.3M10.3 21.5l-0.4 0.4M91.5 9.5l-0.3 0.5M14.4 72.1l0.9 0.0M8.8 73.5l0.0 0.0M8.6 74.9l0.0 1.5M15.8 85.9l1.6 0.0M42.8 23.4l-1.5 0.7M62.0 32.4l-1.1 1.8M57.5 29.4l0.5 0.9M60.9 33.7l-2.0 1.1M11.9 66.4l1.5 1.5M9.3 68.3l0.2 2.2M107.7 48.9l0.0 0.2M106.3 47.4l-1.3 0.5M108.2 46.7l-0.1 1.7M104.0 13.9l1.8 0.5M95.7 40.9l-0.9 0.6M96.3 45.6l-0.5 0.1M1.7 60.3l-0.1 1.7M1.8 68.9l0.0 0.8M7.6 55.4l0.0 0.1M11.5 49.5l-1.3 1.9M66.0 51.7l-0.8 0.9M64.3 49.6l-0.5 0.9M52.2 13.4l1.5 1.2M71.3 51.5l-0.1 0.2M89.1 36.4l0.3 0.8M34.5 60.0l0.4 0.3M2.7 60.0l1.2 0.4M2.0 54.3l0.7 0.7M23.6 48.4l1.5 0.6M27.9 52.6l-1.8 1.2M23.0 56.9l-0.5 0.8M98.5 20.4l-1.6 1.3M98.5 23.5l0.0 0.0M90.8 16.6l-0.6 0.7M91.1 17.3l1.0 0.5M89.4 16.1l-0.6 0.5M73.1 62.7l-0.3 0.8M73.6 65.4l1.6 0.5M74.8 65.8l0.8 0.3M75.2 13.2l0.2 0.2M81.2 13.3l1.0 0.4M112.2 47.1l1.8 0.7M113.3 49.7l-1.2 0.6M110.4 39.3l-0.4 0.0M-0.9 63.7l1.5 0.9M7.1 60.6l-1.8 0.7M118.5 66.0l0.2 0.3M123.6 59.8l0.0 0.0M41.4 5.9l-1.3 0.8M21.1 22.5l1.3 0.4M90.5 31.2l1.7 0.2M87.3 32.0l0.0 0.0M19.0 1.5l0.6 0.2M19.0 2.8l-0.5 0.6M77.9 64.7l0.8 0.0M109.1 23.5l1.8 1.3M110.2 30.3l1.1 0.3M109.7 25.3l0.1 2.2M75.2 40.7l-1.8 0.4M24.8 51.8l-0.1 0.0M23.5 61.6l0.0 0.0M105.6 40.6l0.7 0.4M100.6 43.0l0.4 0.4M44.6 75.9l1.4 0.5M49.0 73.5l0.2 1.7M43.4 73.3l-1.2 1.6M47.0 58.2l-0.9 2.0M7.6 40.0l-0.6 1.4M58.3 18.5l-0.1 1.5M59.0 15.7l-1.4 1.0M59.5 15.1l-1.0 1.4M21.8 25.6l-1.1 1.3M63.4 28.5l-1.4 0.8M108.7 24.3l-1.3 1.3M116.5 23.4l0.5 2.2M114.9 23.2l1.1 0.5M75.6 88.7l0.4 1.9M14.7 33.3l0.9 1.9M40.4 71.0l-0.8 0.2M41.1 67.4l-0.7 1.7M7.2 81.8l-0.5 1.9M8.4 86.2l0.0 0.0M21.7 65.6l-0.2 0.8M14.5 63.8l-0.2 0.2M20.3 61.9l0.3 0.5M14.5 58.1l-0.7 0.1M45.9 62.4l-1.0 0.2M44.4 66.6l-0.6 0.6M48.2 63.8l0.3 1.7M41.6 79.1l-0.2 0.4M58.9 89.6l0.3 0.4M58.8 83.1l1.9 1.4M30.3 81.9l-0.4 0.6M30.3 82.0l-0.6 1.2M54.0 87.4l2.2 0.0M47.9 77.2l0.6 0.3M49.0 82.4l0.2 0.5M49.7 86.0l1.9 0.3M127.2 71.8l0.2 0.6M128.1 70.6l-0.7 1.6M99.6 3.5l1.0 0.7M94.5 -2.0l0.0 1.1M0.5 91.0l-1.7 1.0M93.6 92.7l1.7 1.0M65.9 49.1l0.4 0.3M69.8 43.0l0.4 0.2M68.8 47.2l0.5 0.6M68.6 40.8l-0.7 0.2M86.8 30.8l0.5 1.3M87.4 27.3l0.7 0.7M89.6 30.9l-1.0 0.2M5.7 24.6l-1.5 0.2M43.8 36.6l-0.8 0.1M38.5 38.1l-0.5 0.1M36.1 38.1l-0.2 0.5M69.1 32.8l-1.4 1.0M70.4 32.7l0.1 1.7M31.3 34.0l-1.2 0.4M29.9 30.8l0.9 0.3M31.9 30.0l-2.2 0.4M51.9 94.1l0.1 0.3M52.5 91.9l0.1 1.9M32.1 60.2l-0.1 0.0M30.1 58.7l0.1 0.8M15.3 80.3l0.2 0.3M10.0 80.1l1.1 0.9M38.7 55.9l1.2 0.1M41.8 50.2l-0.1 1.7M5.4 75.2l0.8 0.6M121.1 65.6l1.7 0.7M23.5 35.3l0.0 0.8M58.7 61.7l0.9 0.7M64.7 61.0l-1.0 1.5M63.0 62.8l-2.0 0.2M60.3 60.0l0.1 0.1M20.5 89.4l-0.1 1.4M17.4 90.3l-0.3 0.8M69.6 4.3l1.3 1.0M109.8 50.3l0.0 0.7M7.3 34.5l0.0 0.5M5.9 32.2l0.3 0.2M47.9 41.0l-0.9 0.2M5.7 78.3l0.8 0.0M18.8 31.9l-0.5 1.0M95.1 38.9l-1.7 1.5M88.8 45.5l1.2 0.9M81.9 43.6l0.3 0.9M83.8 44.1l1.2 0.2M76.4 55.4l0.3 0.0M79.2 48.6l0.2 2.1M30.1 65.0l-2.2 0.1M31.0 67.9l-0.8 0.4M25.3 64.9l-0.1 2.1M61.5 42.3l-0.4 0.2M109.7 34.4l-0.4 0.2M114.1 39.8l-1.2 0.4M43.0 88.2l0.3 0.9M119.9 15.5l-1.2 1.7M120.8 16.0l0.1 0.4M86.0 91.4l0.2 0.0M79.7 57.5l1.7 0.1M71.5 54.5l0.1 0.3M26.6 11.5l-1.2 0.4M28.4 11.1l-1.2 1.8M40.9 10.0l-0.6 0.3M38.4 6.6l-0.7 1.0M36.2 8.5l1.5 1.2M34.8 9.1l0.2 0.9M38.5 9.0l-0.3 0.5M38.9 11.6l-2.0 1.1M101.2 77.1l-0.7 0.3M42.6 25.4l-1.3 0.1M47.6 32.4l0.2 0.0M74.4 56.3l0.1 0.1M76.4 54.8l1.0 2.1M72.1 54.9l-0.5 0.0M73.0 54.2l0.2 0.6M75.4 55.5l1.1 1.1M3.1 19.5l0.3 0.8M111.4 59.5l0.0 0.1M116.7 66.0l-0.5 0.7M109.2 67.5l-0.9 1.1M100.5 85.5l-0.6 0.1M11.9 9.8l0.1 0.2M14.1 10.9l0.3 2.0M54.2 21.0l-1.1 0.3M53.9 26.2l1.2 1.3M52.3 32.4l-1.9 1.1M56.3 28.9l1.9 0.2M28.6 39.1l-0.4 0.7M77.9 16.4l0.6 1.0M66.6 8.8l-0.3 0.4M88.4 9.3l0.4 0.5M103.2 77.5l-1.5 0.9M13.9 93.0l-1.4 0.0M32.8 72.5l-1.9 0.4M62.0 86.9l0.1 0.2M121.6 7.5l1.7 0.3M119.8 86.6l0.1 0.4M42.5 92.7l0.1 0.1M8.9 5.6l-1.3 1.7M9.8 12.9l0.0 0.7M80.4 92.8l2.2 0.1M35.6 5.3l2.0 0.2M92.9 29.3l-0.5 0.2M89.2 75.4l-0.1 1.0M87.7 82.9l0.5 0.2M18.3 74.9l-1.7 1.4M11.2 5.5l1.8 0.6M55.8 33.4l0.2 0.2M35.9 16.2l0.7 0.3M94.3 70.8l0.8 0.1M116.1 50.3l-0.5 1.5M93.6 0.8l0.2 0.1M37.4 20.2l-0.5 0.4M1.0 46.0l0.9 2.1M92.3 62.8l-0.4 1.8M123.0 17.7l0.0 0.0M71.6 52.1l-0.1 0.2M52.4 22.5l-0.2 1.1M20.3 26.5l0.1 0.2M70.9 89.0l0.0 0.1M89.1 48.8l-1.6 1.1M38.3 33.4l1.9 1.0M58.0 67.3l0.0 0.1M68.0 78.0l1.8 0.7M70.3 31.2l-1.2 0.5M12.1 15.5l-0.5 1.9M44.0 60.1l-1.0 1.4M73.8 40.8l0.7 0.2M85.5 8.8l0.3 0.5M26.3 48.5l-0.0 0.0M77.2 68.4l0.7 1.0M47.7 6.5l1.4 0.8M94.1 7.8l-1.4 1.3M117.9 14.3l-0.4 1.4M64.6 54.4l-0.6 0.7M98.1 51.3l-0.8 0.4M5.8 5.1l-0.5 1.1M67.3 82.1l-0.0 0.1M121.2 92.4l2.3 0.2M101.8 91.9l-0.1 0.1M47.2 39.6l1.5 0.5M83.5 6.7l-0.2 0.3M82.1 10.7l1.7 0.5M25.1 7.6l0.2 0.4M4.1 88.7l-0.2 0.1M70.8 90.0l0.2 1.5M79.3 20.5l-1.0 0.5M40.6 7.7l-0.1 1.1M49.2 43.5l-2.0 1.2M92.9 11.8l-0.4 0.0M102.3 57.9l1.0 0.1"/><path stroke-width="2.6" d="M49.5 73.9l1.7 1.6M17.3 40.2l-0.3 0.7M100.9 32.5l0.3 0.0M101.6 35.9l0.4 0.4M40.9 54.8l-1.8 1.3M38.8 50.3l0.0 0.0M11.5 84.2l0.0 1.6M15.0 84.0l0.1 0.1M9.0 86.9l-0.3 0.3M7.3 27.4l-0.1 0.4M104.2 10.8l1.7 1.4M74.4 84.5l0.8 0.9M83.0 43.9l0.1 1.0M67.7 69.0l0.2 1.1M73.1 70.5l0.1 0.2M23.1 0.5l-0.2 1.5M54.2 8.7l-0.7 1.5M82.7 72.7l0.6 0.4M105.3 23.7l0.4 2.2M113.7 27.1l1.2 0.2M16.5 83.9l0.0 0.0M17.9 82.8l0.8 1.9M39.6 30.4l-0.0 0.3M58.2 32.7l0.7 0.3M110.9 50.6l-0.4 0.4M81.4 22.3l-0.2 1.3M103.0 13.6l0.6 1.1M99.4 49.6l0.7 2.2M123.8 68.8l0.4 0.1M74.9 53.7l1.2 0.1M-0.4 58.9l0.7 1.1M24.3 53.1l-0.1 1.0M98.4 22.1l-0.2 0.1M73.5 60.4l0.5 0.6M79.2 13.0l-1.9 0.3M76.3 14.0l-0.0 1.3M0.1 59.7l0.1 0.1M40.0 5.7l-1.0 0.1M87.0 32.1l0.3 0.7M80.4 40.3l-0.2 0.4M73.6 48.1l-0.1 0.2M20.8 60.2l-0.7 1.6M5.2 29.2l-1.8 0.9M64.3 21.4l-0.1 0.1M62.1 25.6l-1.4 0.4M64.3 31.5l-1.0 1.3M114.3 26.7l1.3 0.0M12.4 35.4l-0.5 0.5M8.1 85.5l0.1 0.1M15.0 65.2l0.2 0.2M40.6 87.7l1.0 0.6M41.0 84.9l-0.6 0.7M64.3 88.4l-0.6 0.0M29.9 83.6l0.3 1.7M50.1 82.8l-1.9 1.0M80.2 91.7l0.4 2.1M100.5 3.0l1.4 1.9M4.5 88.3l0.4 0.9M83.2 29.4l0.0 0.1M122.8 65.8l1.6 0.1M121.6 72.4l0.4 0.6M18.1 9.5l0.1 0.3M21.3 12.1l2.2 0.2M68.6 30.7l-0.6 0.7M31.1 30.5l-0.6 0.1M59.6 94.5l-1.8 0.0M11.3 79.7l-0.4 0.3M8.0 82.5l0.4 1.3M10.5 84.2l0.4 0.1M13.7 80.0l-0.0 0.0M44.5 50.5l0.4 1.0M47.9 50.4l0.8 2.2M5.9 76.4l0.7 0.3M113.0 42.6l-0.6 0.3M123.7 63.1l1.4 1.7M119.6 68.1l-0.2 1.1M122.0 63.7l-0.1 1.4M118.6 66.2l0.2 0.4M60.4 63.6l1.0 1.8M17.8 93.1l-0.1 0.2M74.2 11.9l-1.1 0.3M69.6 15.7l0.4 0.5M5.4 38.2l-2.2 0.4M46.0 41.0l1.5 0.3M84.6 46.1l-0.0 0.0M27.8 67.4l-0.8 1.4M110.4 31.3l1.9 1.0M89.1 93.4l-0.2 0.6M35.8 9.3l-0.5 1.3M97.8 58.8l-0.6 2.1M72.1 55.8l-0.8 0.5M75.8 53.9l-1.5 1.3M112.0 69.0l0.9 0.2M115.8 60.1l-0.6 2.1M36.5 70.0l0.3 0.1M37.9 68.2l0.7 0.1M38.1 70.4l-0.1 0.1M15.2 12.2l-0.5 0.4M15.7 7.3l0.3 0.7M64.7 51.5l-0.3 0.2M86.3 77.2l0.0 0.0M79.8 69.8l-1.1 0.7M14.8 89.6l0.9 0.5M95.3 64.0l-0.9 1.4M37.9 23.8l-0.1 0.6M77.9 77.9l-0.8 1.3M106.9 29.9l0.0 0.0M60.8 28.5l-0.0 0.0M125.2 21.7l-0.5 2.1M50.9 83.1l-0.5 0.2M19.5 45.7l1.7 1.0M58.7 51.2l-1.0 0.6M80.4 29.6l-2.0 0.6M79.0 33.8l0.6 0.0M39.6 76.5l1.1 0.8M119.8 49.6l0.1 0.7M22.1 49.9l1.1 0.2M89.1 53.4l0.1 0.8M22.5 45.5l-0.1 0.8M86.9 2.8l-0.7 1.3M116.1 86.0l-1.4 1.4M59.2 13.9l2.1 0.2M87.6 50.0l1.5 1.3"/></g><g id="s2" fill="none" stroke="currentColor" stroke-linecap="round"><path stroke-width="1.8" stroke-opacity=".45" d="M121.3 52.6l-0.9 0.8M121.3 8.9l1.5 1.1M32.1 21.6l0.4 0.1M30.6 31.1l-1.7 1.4M34.8 26.7l-0.1 0.0M41.2 44.9l-0.8 0.8M39.8 46.4l0.4 1.1M96.8 37.3l1.3 0.4M18.8 32.2l0.7 0.3M84.5 9.8l1.4 0.1M106.4 78.5l0.2 0.0M32.0 25.3l-0.6 0.2M17.9 69.3l0.4 2.2M92.6 1.3l0.9 0.6M107.3 40.8l-0.2 0.1M33.3 90.4l-0.3 0.2M105.2 50.0l0.2 0.0M110.6 50.7l-0.1 0.3M18.9 57.8l1.1 1.7M64.3 44.4l-0.7 1.2M63.3 47.6l0.4 0.4M62.4 42.9l-0.1 0.8M109.5 37.3l-2.3 0.2M10.6 53.0l0.0 0.1M94.9 29.7l-0.4 1.2M92.9 25.9l1.0 2.0M95.6 30.4l0.5 1.1M68.2 66.6l-0.1 0.7M117.6 75.6l-1.4 1.2M78.2 34.0l-0.3 0.2M61.8 45.4l-0.3 0.2M57.1 41.4l-0.4 1.7M110.0 67.6l-1.1 0.0M-1.0 65.2l-0.9 1.7M1.7 66.4l-0.3 1.2M57.0 62.0l0.3 0.6M38.2 17.3l-0.8 1.7M107.6 5.0l-0.0 0.0M-0.7 91.1l-0.1 0.0M-2.6 87.7l1.4 1.9M105.7 49.1l-0.0 1.7M0.6 75.2l0.3 0.0M111.2 30.3l1.1 1.1M101.5 30.6l0.7 0.7M47.0 16.6l-0.0 0.6M20.2 50.4l-0.4 1.6M15.1 54.9l1.0 0.3M116.1 89.0l-0.1 0.1M115.4 85.3l1.2 0.7M113.5 96.3l-2.1 0.6M112.5 58.4l0.6 2.2M91.6 18.1l1.0 1.9M88.3 15.2l-0.9 1.2M92.9 14.9l0.2 0.9M87.5 61.3l1.0 0.9M85.6 60.5l0.2 1.4M26.1 34.2l0.3 2.2M118.8 56.0l-0.8 1.9M116.9 57.9l-0.4 1.4M46.8 9.2l-1.2 1.6M45.5 7.3l-0.9 1.6M59.4 34.1l0.2 0.3M62.4 33.7l-1.2 0.8M61.2 35.3l0.1 2.3M9.3 3.7l1.0 0.9M120.1 59.3l-1.6 1.5M123.9 35.4l0.5 0.9M118.7 39.7l1.7 1.1M124.6 39.4l1.2 1.0M124.6 33.4l-0.2 2.3M7.4 37.0l0.1 0.3M18.2 93.2l-0.9 0.3M14.0 90.4l-0.9 1.4M14.1 89.6l-0.8 2.2M15.6 89.2l-0.8 1.3M120.1 65.2l1.8 1.2M119.6 58.7l-0.0 1.7M109.4 0.4l-0.5 2.1M105.9 3.3l-0.9 0.8M104.2 0.1l-1.0 0.7M105.8 0.7l2.1 1.0M118.1 59.6l-0.3 0.6M119.1 59.0l0.3 2.3M18.2 86.5l-0.0 0.0M10.7 95.4l-0.3 0.4M14.5 90.4l0.2 0.1M21.8 32.3l-0.9 1.1M23.5 29.9l-2.3 0.8M53.5 10.1l-0.0 0.1M55.9 8.6l-2.2 0.9M43.0 69.1l0.8 0.1M122.2 54.3l0.4 0.2M9.4 88.9l-2.1 1.0M11.6 90.4l-1.2 1.2M118.9 32.0l-0.1 0.3M95.6 20.7l-0.1 1.1M78.0 47.9l0.3 0.4M74.3 53.8l1.5 0.2M79.3 57.2l0.3 0.5M80.4 52.7l-0.3 0.8M79.6 48.1l0.5 1.1M80.9 52.8l-1.7 1.2M75.7 26.5l-1.3 0.3M89.5 46.2l0.7 0.8M5.9 5.2l0.4 0.7M63.2 89.2l-0.1 1.3M2.5 4.8l0.9 0.4M6.9 0.4l-0.2 1.0M3.5 2.1l-0.8 0.5M7.2 4.7l0.1 1.7M38.5 79.6l-0.9 1.4M108.2 51.6l0.6 0.0M53.1 91.0l0.9 2.0M54.2 91.8l-2.2 0.2M13.7 76.1l-2.3 0.2M13.0 76.6l0.0 0.0M91.1 45.6l-0.2 1.1M109.0 80.1l0.7 2.3M90.4 58.1l1.1 1.5M91.7 61.4l1.7 0.6M72.1 80.2l-0.1 0.0M63.3 79.8l-0.4 0.9M22.4 21.9l-0.1 0.0M74.2 3.3l1.2 0.9M4.1 70.1l-0.2 0.6M9.1 70.2l-1.2 1.3M7.2 69.5l-1.5 1.3M7.0 56.4l1.4 0.8M12.9 93.4l1.2 0.0M68.2 12.7l-0.4 0.6M66.7 15.2l0.0 0.2M10.9 68.0l-0.1 1.2M15.5 94.4l-0.9 1.0M23.5 19.4l0.0 0.0M86.4 40.2l1.1 0.5M76.7 39.6l-0.0 1.0M80.6 45.9l-0.1 0.7M92.7 42.5l-0.3 0.7M82.2 21.9l-0.3 1.9M89.6 29.8l-0.4 1.8M98.3 28.1l0.0 0.0M113.6 53.9l-1.2 1.4M118.9 60.1l0.5 1.6M89.7 74.8l1.0 1.5M117.9 86.1l-0.0 0.0M60.2 67.8l-0.8 1.8M66.9 71.4l0.0 0.3M66.1 31.1l0.4 0.7M37.6 88.6l0.5 0.5M111.3 55.7l-0.4 0.2M106.9 59.2l-0.3 0.2M107.3 84.6l-1.1 1.3M100.2 42.7l1.0 0.7M97.5 42.7l-0.1 0.1M66.0 72.6l-0.5 0.1M54.3 62.4l1.5 1.1M54.8 63.8l-0.0 0.2M54.4 60.3l1.1 0.6M34.6 88.5l1.4 0.6M17.7 70.8l0.6 2.0M22.4 37.7l1.2 0.9M23.2 37.0l0.0 1.5M22.7 33.1l0.3 1.3M19.5 37.8l1.7 0.8M31.0 59.8l-1.0 0.0M34.4 64.1l-0.3 1.4M112.9 25.9l0.4 2.1M112.2 31.0l-1.2 1.3M118.2 90.6l-0.6 0.7M96.6 57.5l-0.3 0.0M72.4 39.4l-0.6 0.8M103.1 44.2l-0.7 0.0M100.1 46.0l0.1 0.8M99.8 39.5l-0.4 0.4M107.5 40.5l-0.5 0.5M111.6 34.5l0.7 0.5M110.2 32.3l0.5 0.7M109.7 28.6l-0.3 0.1M55.7 74.6l-1.8 0.9M54.1 74.1l-1.3 0.4M50.5 73.8l-0.1 1.0M19.4 51.1l-0.6 1.3M11.6 43.0l0.3 2.0M32.2 34.6l0.0 0.1M108.9 77.3l-0.3 1.8M103.3 86.2l-0.3 0.4M6.9 76.5l1.2 1.4M113.1 72.8l0.9 0.7M113.7 71.5l1.4 0.1M47.8 71.9l0.1 1.4M31.7 65.8l0.1 1.3M-2.3 47.0l1.0 0.0M5.6 42.3l-1.3 1.6M81.6 54.2l1.7 1.5M78.6 76.2l1.6 0.1M103.5 43.9l-0.9 0.6M19.4 68.6l0.9 0.5M108.1 18.9l-0.0 1.5M54.4 60.0l-1.9 0.7M79.9 57.1l1.2 1.0M39.0 63.5l-0.5 0.0M122.1 1.0l0.0 0.0M38.8 41.1l0.5 1.0M105.9 37.5l-0.1 0.7M45.3 61.3l0.5 1.6M92.5 91.6l0.5 0.3M93.3 35.1l1.0 1.7M6.5 79.4l0.4 0.7M104.0 75.6l-0.1 0.2M108.7 86.6l-0.3 0.7M117.3 50.5l-1.5 1.5M64.3 23.3l1.1 0.3M123.5 64.3l-1.3 2.0M38.5 20.0l-0.3 0.3M62.4 29.9l0.4 1.9M60.4 43.6l-1.1 0.7M5.3 93.6l0.6 1.6M73.8 26.0l-0.1 0.6M112.1 82.0l0.7 1.9M79.4 7.2l-1.1 1.4M2.2 32.7l0.0 0.2M56.0 90.1l0.1 0.1M34.2 38.4l1.2 0.6M65.6 34.2l-0.2 1.8M37.4 72.1l-0.9 0.8M18.8 13.2l-0.6 1.8M77.0 93.4l-1.8 0.6M84.8 4.3l-1.0 0.8M117.7 27.8l-1.3 0.4M122.6 60.2l0.2 0.4M85.3 17.1l1.2 1.3M58.0 73.9l-0.7 0.4M45.2 59.7l0.0 0.1M104.0 20.0l0.8 0.3M30.7 75.3l-1.4 0.2M79.0 55.1l1.0 0.6M109.7 21.6l0.6 0.5M54.1 81.7l-1.5 0.6M19.4 48.6l1.2 1.2M74.4 50.7l0.1 0.2M105.0 8.7l2.0 0.6M103.5 61.7l0.3 0.0M65.5 31.7l0.5 0.1M7.3 2.5l1.4 1.7M91.1 17.3l1.0 0.2M13.2 54.6l0.8 0.0"/><path stroke-width="2.1" stroke-opacity=".75" d="M124.4 11.0l-0.3 0.0M120.7 14.2l0.7 1.8M28.9 28.4l0.0 0.3M119.6 36.0l0.1 0.9M118.3 39.5l1.0 0.9M120.2 37.2l-0.9 1.4M120.4 39.0l-0.1 0.1M120.7 37.0l0.2 0.0M126.8 38.6l0.1 1.2M44.1 43.8l0.9 0.0M40.9 44.3l-0.0 0.0M54.7 51.7l-1.4 1.6M104.1 31.6l0.9 1.6M96.9 34.5l-0.9 0.5M98.6 33.7l-0.7 1.5M101.1 31.8l0.1 0.4M19.7 31.8l0.1 0.2M20.6 34.0l-0.7 0.3M87.1 9.4l-1.0 0.5M104.1 72.6l0.1 0.4M87.8 72.1l0.7 0.4M92.9 72.8l-0.2 1.0M88.8 70.9l0.8 1.0M92.4 72.8l0.1 0.2M91.7 79.4l-0.3 0.1M122.3 14.1l-0.7 0.9M126.8 13.4l-0.5 0.6M122.7 14.2l-0.4 0.2M124.3 8.0l0.1 0.7M37.8 22.0l-0.6 0.0M36.0 28.7l0.2 0.3M33.3 24.4l-2.3 0.1M32.2 23.4l1.2 1.9M40.7 30.1l-2.3 0.3M100.9 39.6l0.7 1.3M21.4 67.7l-2.1 0.3M111.1 38.0l-0.2 0.1M31.4 87.3l0.4 0.7M34.2 92.7l-0.2 0.3M29.7 89.3l-0.3 0.0M29.6 86.1l0.3 0.2M29.4 49.8l-0.6 0.3M24.5 51.9l0.1 0.8M25.1 50.6l-0.4 0.0M24.6 50.7l-0.4 0.1M24.4 49.8l0.6 1.0M27.7 50.6l0.1 0.2M64.1 43.7l0.1 0.0M64.6 44.9l0.6 0.6M64.3 44.4l0.9 0.6M10.2 55.0l2.1 0.1M4.7 50.2l0.1 0.4M9.1 55.6l0.4 0.3M66.1 74.8l0.1 2.1M68.6 74.7l1.5 1.4M68.5 79.9l0.2 0.1M115.2 78.6l-0.7 0.9M112.3 77.1l-0.4 2.1M111.2 75.3l1.4 1.8M102.1 29.4l0.6 2.1M99.9 22.6l2.0 0.0M102.4 18.5l-0.0 0.4M100.4 21.9l-0.1 0.1M75.8 29.7l-0.2 0.9M74.5 38.7l-1.7 0.6M77.6 35.9l1.8 1.2M74.4 38.4l-1.8 1.3M56.4 47.8l2.4 0.3M112.1 67.5l-0.2 2.3M111.9 68.9l2.0 0.4M-1.1 66.3l-1.0 0.8M59.0 9.4l1.8 1.5M60.3 11.4l0.6 0.4M112.5 1.1l0.7 1.3M109.6 11.6l1.4 0.9M111.4 5.0l0.8 0.1M2.3 90.0l-1.1 1.6M3.3 92.9l-1.7 1.3M106.4 45.5l0.1 1.9M101.5 41.0l-0.0 0.2M1.3 71.5l-1.6 0.4M111.1 34.6l-0.1 0.1M107.8 29.5l-0.5 1.3M109.2 29.7l0.0 0.1M106.8 25.4l1.3 0.2M112.1 31.9l0.4 1.9M110.9 31.2l-0.2 0.9M18.4 25.0l-2.2 0.9M13.8 23.6l1.0 1.1M17.2 53.1l-0.6 0.4M15.5 53.7l-0.1 0.1M115.3 66.6l-0.0 2.1M86.4 11.3l1.3 1.2M89.1 16.8l0.1 0.2M85.9 63.5l-1.3 0.3M87.6 63.9l-0.3 1.2M84.5 67.2l-0.0 0.1M28.8 27.9l-0.4 2.0M53.3 74.0l-0.8 0.7M120.1 57.9l0.9 0.7M117.1 61.8l1.8 0.3M119.0 56.9l-0.8 1.4M44.5 5.0l1.6 0.7M64.6 55.1l0.6 0.2M62.9 33.8l-0.5 1.4M62.6 32.9l-0.9 1.7M112.5 41.2l1.1 0.2M39.8 84.0l1.9 0.3M42.1 87.0l-0.1 0.0M123.8 35.2l0.7 1.6M123.3 32.2l-0.1 0.6M5.1 35.7l-1.2 1.8M7.2 38.9l0.7 0.3M14.5 88.2l-0.1 0.0M15.1 88.5l-1.3 0.4M119.8 64.7l1.4 1.7M122.6 65.0l-0.5 1.4M117.0 59.9l-1.2 1.8M14.6 91.3l-1.5 1.3M25.1 27.6l0.1 0.8M24.7 31.7l-1.8 0.3M27.1 31.8l1.1 0.6M54.2 6.0l-0.4 1.0M46.5 66.0l-1.2 1.5M43.4 71.5l0.3 1.3M84.1 54.0l0.2 0.5M81.8 59.5l-0.8 1.3M122.0 58.0l1.3 0.6M13.7 91.8l1.9 0.9M7.7 92.2l0.0 0.0M118.8 28.0l0.7 0.5M76.5 53.3l0.8 0.1M79.1 30.4l-0.2 0.5M90.6 46.5l-0.2 0.4M89.7 47.7l1.9 0.6M3.9 11.6l-0.0 0.0M4.6 9.6l-0.9 1.1M61.1 94.5l-1.2 1.0M53.4 93.2l-0.3 0.0M57.8 92.7l-1.1 1.2M31.2 76.8l0.5 0.8M38.6 79.7l-0.5 0.9M33.5 79.7l0.1 0.6M99.4 44.8l-2.2 0.6M105.1 49.2l0.1 0.0M101.4 48.8l-1.1 2.1M104.4 45.9l0.8 0.7M50.3 93.6l-0.1 1.6M44.1 90.6l0.9 2.0M57.5 12.6l1.8 0.5M11.0 76.4l-1.1 1.1M9.6 77.9l0.6 0.8M13.3 76.6l1.4 1.4M110.0 73.5l-1.1 1.2M108.8 81.2l-1.4 1.1M108.6 76.9l-1.0 0.1M111.9 83.6l-0.9 0.4M92.6 65.2l0.2 0.4M89.6 61.1l0.7 1.5M98.9 61.0l-0.0 0.3M91.0 60.2l-1.2 1.5M96.5 0.1l0.5 1.6M65.9 76.9l-0.7 0.6M69.3 74.4l-1.7 1.0M29.2 20.7l-0.3 0.0M16.1 18.3l2.0 1.1M67.5 25.2l-2.1 0.1M66.1 20.3l-0.5 1.9M64.6 20.6l-0.3 0.3M2.9 63.3l1.6 1.0M66.5 54.7l-1.1 1.2M65.3 48.9l-0.3 1.6M66.3 61.2l0.5 0.1M71.2 56.3l0.2 0.6M65.9 57.3l-1.0 1.3M66.2 15.9l-0.5 1.5M13.0 66.1l-0.4 0.8M4.0 66.1l0.5 0.4M81.2 43.8l0.2 0.6M81.2 42.9l0.2 0.8M81.8 43.3l-1.3 1.5M83.4 38.6l0.2 1.7M93.8 40.0l0.2 0.7M97.8 36.4l-1.8 0.4M92.0 41.8l0.2 0.4M68.3 78.8l1.5 0.7M105.0 0.4l0.5 0.1M105.2 3.6l-0.6 0.4M85.5 22.9l0.2 2.0M93.0 31.3l1.2 0.2M93.3 27.8l-1.1 1.8M58.9 63.7l-1.5 1.0M59.5 60.6l0.0 0.2M113.3 56.7l0.3 0.4M112.7 55.1l0.2 0.4M121.7 55.2l0.0 0.0M119.5 83.3l0.6 0.2M118.0 80.4l-0.3 0.2M3.6 43.7l-1.1 0.2M1.6 44.5l-1.6 0.2M3.4 44.4l-0.4 1.5M64.9 71.5l0.5 0.1M68.5 31.4l0.1 2.0M73.1 32.4l0.0 0.6M67.4 31.7l-0.8 2.1M69.9 30.4l-0.8 0.5M72.0 34.1l0.3 0.3M41.1 85.1l-1.0 0.3M112.2 55.4l-1.9 1.4M108.1 91.5l0.1 1.2M106.8 89.1l-1.8 0.7M109.3 86.3l0.6 0.7M89.4 45.5l1.7 0.4M97.3 41.8l-0.6 1.0M103.8 39.7l-1.4 0.8M51.2 61.2l0.0 0.0M51.9 62.9l-0.7 0.4M53.9 64.0l-1.5 1.9M41.6 91.2l-0.6 0.4M40.8 86.5l1.9 0.1M13.8 71.8l1.8 0.3M20.2 74.3l0.5 0.2M19.1 37.2l-0.1 0.2M21.6 36.7l0.8 1.4M19.8 36.4l2.2 0.1M32.4 60.9l0.2 0.5M113.8 27.5l0.2 0.2M116.2 29.8l-1.0 0.7M112.9 29.6l-0.0 0.4M114.6 94.4l-0.9 1.2M111.5 95.4l-1.5 0.9M116.8 90.4l0.2 0.1M101.9 56.8l-0.2 0.2M102.6 57.1l0.1 0.5M11.3 68.7l-1.5 0.7M12.7 75.6l1.8 0.2M13.5 67.9l0.1 0.5M100.2 37.5l1.5 0.7M112.1 27.0l-0.5 1.9M17.5 45.5l0.7 0.5M27.6 34.8l0.7 0.1M27.8 33.1l0.0 0.1M77.5 75.1l-0.7 1.6M107.7 75.9l-0.0 0.1M107.0 79.7l-0.7 0.4M107.1 80.3l-0.1 0.1M12.0 74.9l-1.7 0.1M13.6 76.6l-0.6 0.3M113.3 76.3l-2.1 0.1M32.5 70.3l-0.3 1.1M30.2 69.2l0.0 0.0M7.8 42.5l0.3 2.2M5.1 47.2l-0.3 0.8M5.3 49.6l-0.1 0.3M4.9 44.1l0.0 0.2M81.6 14.9l2.4 0.3M84.7 38.7l-0.7 1.4M58.6 46.9l0.7 0.9M19.0 58.3l1.0 1.2M44.9 38.7l0.6 0.1M125.3 2.1l-0.6 1.4M84.6 67.6l0.2 0.2M40.4 86.4l-0.6 1.7M34.7 3.1l0.6 2.1M5.0 71.9l-0.3 0.1M85.1 11.6l0.6 0.1M36.4 57.3l-0.4 2.3M31.7 18.1l-0.3 0.7M61.2 84.0l-0.3 0.5M97.0 23.1l-0.6 0.5M35.8 90.2l-1.0 0.4M68.0 32.2l0.0 0.2M97.7 29.3l-0.2 0.1M38.8 2.5l0.0 1.1M38.0 89.7l-1.2 1.2M71.1 47.1l-0.0 0.1M67.5 35.2l1.5 0.9M78.8 78.6l0.3 0.3M1.0 9.3l0.3 0.2M7.2 72.2l0.3 0.8M63.8 63.5l1.2 1.6M47.0 60.9l0.4 0.8M123.0 62.8l-0.9 1.5M93.2 69.4l0.6 0.1M101.4 29.6l-0.5 0.7M100.6 78.4l2.2 0.1M70.2 44.6l-1.6 0.9M11.1 83.2l-1.8 0.0M40.4 49.7l1.9 1.2M121.0 72.2l-0.5 0.0M88.5 23.1l-1.7 0.2M17.3 59.5l-0.7 0.8M112.2 58.7l0.2 0.3M17.2 12.7l-0.9 1.1M105.1 56.4l1.3 1.0M69.5 7.6l0.0 0.5M87.1 73.5l0.1 0.7M2.5 91.6l-1.2 2.1M29.8 67.4l-0.9 1.6M36.9 80.6l1.0 1.7M31.7 10.8l-1.6 1.0M40.2 1.6l-0.3 0.0M22.3 9.8l-0.5 0.2M26.3 18.3l-2.1 0.4M76.7 47.2l-0.4 0.2M18.4 79.1l-0.6 2.0M5.5 88.8l0.4 0.5M93.0 63.9l0.5 0.4M8.1 29.0l0.7 1.0M105.2 77.2l0.3 0.4M10.5 9.0l0.2 0.4M96.9 92.1l-0.8 1.1M61.6 20.3l0.2 0.8M114.0 35.8l0.8 0.5M60.1 54.7l0.3 0.2M117.7 23.5l-1.7 0.5M48.0 15.2l1.0 0.7M18.4 91.8l0.3 0.1M124.2 70.9l1.1 0.5M22.7 55.3l0.2 1.6M87.4 45.8l-2.0 0.9M82.6 71.0l1.2 0.5M8.2 77.0l1.8 1.0M113.9 58.9l-0.1 1.1M9.1 70.6l-0.1 0.2"/><path stroke-width="2.6" d="M116.2 7.6l0.9 2.1M29.2 28.5l0.0 0.0M121.6 39.7l0.2 1.7M121.7 42.0l0.9 2.0M119.2 33.6l-0.3 1.9M38.1 43.5l1.6 1.5M86.4 71.9l0.1 2.1M121.2 8.1l0.3 0.5M84.4 -2.0l1.0 0.3M31.4 92.2l-0.9 0.4M119.0 52.7l-0.1 1.4M15.2 57.1l-0.8 1.9M89.8 32.0l-0.1 1.9M67.3 71.2l-0.0 0.1M56.2 45.2l1.9 0.7M53.7 44.8l0.6 0.2M57.8 44.2l0.3 0.4M1.3 67.4l-1.8 0.2M69.6 33.4l-0.0 1.1M59.3 12.5l-0.6 2.3M2.4 69.9l-0.2 1.8M15.6 20.9l0.1 0.8M47.7 24.0l-1.4 0.2M114.8 86.3l-0.0 0.0M115.4 64.8l0.2 0.5M112.5 63.0l0.4 1.3M90.2 9.3l-0.1 1.3M96.1 15.3l2.1 0.6M50.1 5.7l-0.1 0.3M121.7 13.9l-0.4 1.9M113.3 37.1l1.8 0.2M118.9 37.9l1.4 0.4M41.5 79.8l-1.5 1.5M5.2 39.7l1.8 0.4M117.9 56.2l1.5 1.1M120.0 54.9l-1.4 0.7M54.2 6.0l1.4 0.1M56.3 6.7l-0.6 2.1M44.0 66.1l0.9 0.3M122.5 47.7l-1.4 1.1M9.7 91.9l0.3 0.1M8.8 88.7l1.5 0.1M120.5 34.6l0.6 0.9M120.7 29.3l-0.2 1.6M95.7 27.1l-1.1 0.7M88.4 20.8l1.4 1.7M4.5 35.2l-0.7 0.6M79.2 49.7l-0.1 2.3M77.3 32.1l1.2 0.7M5.7 3.3l0.3 0.1M63.5 68.9l0.8 1.6M27.1 16.1l1.4 1.3M19.6 20.1l0.9 1.4M28.4 20.3l0.4 0.5M9.9 69.5l1.8 0.3M72.6 54.1l1.2 1.8M0.4 54.7l-0.6 1.2M25.6 5.8l0.3 0.1M4.1 66.4l0.2 0.1M12.0 94.9l0.9 1.8M14.4 96.0l1.0 0.3M70.9 78.0l-0.9 1.0M92.7 28.0l-0.5 0.9M113.5 57.7l-0.5 0.9M0.6 41.5l0.7 0.0M66.1 68.8l0.5 0.3M41.3 82.7l0.9 1.6M41.8 79.5l1.7 1.5M106.2 94.6l-0.5 0.7M84.1 16.7l0.9 0.1M87.5 48.5l0.4 0.8M64.9 68.9l-2.0 0.7M19.3 74.4l1.6 1.7M33.9 63.3l-1.8 0.5M14.7 42.7l0.4 0.2M102.9 56.9l-2.3 0.4M94.6 41.2l-2.1 0.7M53.9 71.9l-0.5 1.0M31.2 34.9l-0.1 0.4M12.5 81.1l-0.3 0.0M113.0 76.6l-0.2 1.2M114.8 75.2l-0.6 0.1M47.0 77.7l-0.0 0.3M8.7 41.0l0.1 0.4M82.6 15.7l-0.4 0.5M82.4 13.5l-0.1 1.6M83.4 32.5l0.3 0.2M27.9 60.2l-0.0 0.1M116.5 4.5l-0.1 0.7M119.4 64.9l0.1 0.0M82.4 69.4l-0.1 0.2M109.8 43.3l0.2 0.3M31.4 51.4l0.8 0.7M89.6 5.8l-0.3 2.3M18.6 44.9l-0.4 0.1M121.4 37.1l-0.7 0.2M4.3 73.9l-0.6 2.0M102.3 16.9l1.8 1.4M37.5 93.0l0.0 1.4M13.4 73.1l0.6 1.4M94.5 68.5l1.8 1.0M75.4 79.2l0.0 1.5M69.2 69.2l0.3 0.3M85.6 54.0l2.1 0.6"/></g><g id="s3" fill="none" stroke="currentColor" stroke-linecap="round"><path stroke-width="1.8" stroke-opacity=".45" d="M5.6 89.5l1.7 1.5M97.0 89.4l-1.1 1.6M115.7 76.7l-0.3 0.5M116.9 72.8l-0.4 0.5M114.9 78.3l-1.1 1.7M115.9 75.4l-0.1 0.4M16.4 30.2l-0.5 0.3M4.8 8.0l-2.0 0.9M5.6 0.7l-1.1 1.4M122.1 69.1l-0.5 0.1M65.8 -1.6l-0.0 0.1M67.9 -0.3l-0.1 0.1M64.2 2.4l-0.2 0.1M48.1 13.2l-1.8 1.2M6.0 6.1l0.5 1.7M62.4 56.5l0.1 0.9M62.0 54.2l0.0 0.1M32.3 9.0l-0.4 1.3M71.9 63.3l1.0 0.7M69.7 64.2l-0.6 0.3M53.1 9.3l-0.1 1.5M45.8 8.7l-0.7 1.4M45.6 7.2l-2.1 0.5M112.8 35.2l-1.4 0.2M116.0 35.8l1.1 0.4M62.8 55.2l-0.3 1.7M46.6 76.5l-1.2 0.9M44.7 75.7l-1.4 0.0M60.1 18.1l1.4 0.8M86.1 87.8l-1.5 1.0M116.7 42.8l-0.4 0.8M114.3 41.6l0.1 0.6M109.3 45.6l1.3 1.1M92.4 49.4l0.1 0.0M45.2 5.3l-0.4 0.2M31.8 51.7l1.7 1.2M6.4 14.0l0.5 0.0M22.5 19.1l1.5 1.3M78.7 84.6l-1.5 1.8M70.0 81.0l0.2 1.1M107.3 91.4l1.2 0.5M103.5 43.5l0.6 1.2M72.1 46.5l0.1 0.3M73.4 43.3l-0.8 2.0M35.3 33.4l0.1 0.9M41.1 86.2l-2.0 1.0M81.0 85.9l-2.1 0.4M79.0 88.6l-0.4 1.7M80.5 89.2l-1.0 0.7M34.9 13.2l-1.6 0.0M4.4 3.4l0.2 2.0M-2.3 2.7l0.8 0.0M18.3 3.9l0.1 0.0M12.1 64.8l1.2 1.0M18.3 43.6l-2.1 0.9M96.8 37.7l0.1 0.0M100.3 33.6l-0.7 0.9M97.4 33.5l-0.1 0.8M1.4 45.6l1.7 1.4M-0.5 46.6l1.2 0.4M1.6 46.7l-0.5 0.3M114.1 40.5l0.6 0.4M111.3 42.7l0.3 1.4M115.5 72.5l-0.1 2.2M114.6 79.9l0.7 0.3M105.2 19.2l-1.1 0.3M116.8 25.4l-0.7 0.2M119.8 23.1l-0.0 1.1M14.6 37.7l-1.0 0.3M16.0 41.1l0.3 1.6M44.8 45.6l-1.0 0.4M40.2 41.2l-1.5 0.1M41.8 4.7l-1.6 1.1M106.2 21.5l-1.6 0.8M105.4 20.0l-1.4 2.0M110.9 25.2l0.3 0.9M105.6 20.7l-0.7 1.3M3.6 56.6l0.1 2.3M87.6 92.3l1.9 0.6M89.6 94.9l0.5 1.5M26.0 86.1l-0.9 0.3M39.9 7.6l1.5 0.6M118.4 38.9l0.4 0.8M116.9 37.0l-0.5 0.7M115.3 43.2l0.3 0.5M46.2 51.8l1.4 0.4M41.3 47.3l0.4 1.9M43.2 50.8l0.3 0.4M25.9 64.9l-1.0 0.0M25.1 67.3l0.1 0.7M27.4 70.7l-1.5 0.5M27.6 35.0l-0.7 0.8M26.2 35.5l0.9 1.7M29.2 34.9l-0.5 1.4M46.9 73.6l0.2 1.9M46.0 62.8l-0.2 0.1M83.2 16.2l-1.7 0.9M2.7 53.8l-0.7 0.5M-0.8 45.0l1.2 1.6M114.6 13.6l2.1 0.7M88.8 91.9l-0.3 0.3M50.2 12.7l2.0 0.4M80.3 2.3l-1.7 0.1M108.6 26.5l-0.6 0.2M111.9 66.6l0.3 0.2M70.4 25.7l-1.2 1.2M75.1 22.8l0.8 2.0M31.7 -1.7l0.5 1.1M34.5 1.0l-0.1 0.0M34.7 1.5l-0.7 0.1M34.2 4.6l1.2 1.1M117.7 43.4l-1.5 0.8M112.0 47.1l0.0 0.0M11.9 15.9l-0.6 0.1M26.3 58.7l-1.6 0.2M87.3 0.4l0.5 0.5M61.4 35.5l-0.6 0.1M55.5 44.7l-0.2 0.3M61.3 41.9l-1.1 1.6M17.6 70.4l-0.4 0.4M121.0 34.2l-1.4 0.7M39.6 90.2l1.6 0.9M44.8 92.1l-0.2 2.4M120.9 58.8l1.2 0.4M96.2 52.5l-1.0 1.4M53.5 53.2l1.0 1.1M22.7 77.1l0.7 1.4M17.1 75.5l-0.2 2.3M16.5 78.0l0.3 1.1M51.2 20.3l-1.8 0.2M45.6 19.0l-0.1 0.0M12.1 19.5l-1.2 1.6M13.7 18.8l-1.5 0.9M92.2 57.3l-1.0 1.6M88.0 60.2l-0.0 0.2M4.5 26.7l-0.2 1.7M123.7 35.1l0.7 0.1M6.0 67.6l-0.9 1.0M36.1 56.7l0.6 0.8M46.4 12.7l-0.3 0.7M68.3 70.9l0.3 1.7M22.0 17.8l0.1 0.0M7.0 64.2l0.6 1.4M40.4 20.1l0.2 0.1M72.3 22.4l0.2 0.2M19.4 52.0l1.2 1.4M40.2 1.2l-2.0 0.1M88.5 90.3l0.1 0.1M112.6 45.2l1.3 0.1M50.0 9.6l-0.1 2.1M103.5 15.5l1.6 0.3M69.1 71.3l0.1 1.1M116.9 65.2l-0.0 0.0M33.6 35.6l0.0 0.0M110.4 47.2l-0.6 0.3M66.5 4.2l-0.7 2.0M109.3 23.8l0.9 0.8M120.7 11.5l-1.3 1.2M12.0 74.6l-0.6 0.6M99.3 35.8l-0.2 0.1M63.2 88.4l-0.9 1.2M95.0 12.6l0.5 0.6M111.6 65.7l-2.3 0.6M59.7 89.0l0.4 0.9M106.3 80.7l0.0 0.2M43.7 15.3l2.2 0.2M3.7 86.6l0.1 0.6M29.2 80.6l1.6 0.5M63.9 89.4l1.2 0.2M41.5 5.6l-0.2 0.5M109.9 22.4l2.2 0.3M53.1 4.1l-1.6 0.1M49.7 90.2l0.1 1.4M8.1 34.4l0.6 2.3M98.7 28.2l-0.6 0.4M93.5 19.8l2.4 0.0M33.0 17.0l-1.6 1.2M4.7 85.8l1.0 0.4M112.7 70.1l-1.0 1.1M121.3 1.3l0.2 1.7M7.1 36.6l-0.2 0.4"/><path stroke-width="2.1" stroke-opacity=".75" d="M14.5 90.9l0.3 0.9M8.6 92.3l-0.7 1.1M117.0 81.7l-0.1 0.0M113.7 77.5l1.7 0.4M52.3 17.7l0.4 1.5M54.2 19.2l0.0 0.2M24.9 31.1l0.3 0.5M115.9 69.8l-0.2 0.2M118.3 68.2l1.9 0.9M65.0 2.5l-0.2 1.1M69.6 1.7l0.6 0.3M64.5 1.6l-0.1 0.3M23.7 71.2l0.1 0.3M111.4 59.6l0.6 0.6M45.5 11.7l0.3 0.4M62.3 54.2l-0.4 1.9M61.6 56.2l-0.3 0.1M30.3 7.2l-0.3 0.8M28.4 9.8l1.0 0.6M31.6 9.3l0.6 0.7M30.9 10.4l-0.1 0.2M73.7 62.9l-0.1 0.6M69.6 64.8l0.4 0.7M118.0 35.3l-1.1 1.9M66.9 51.5l1.4 0.7M44.1 75.3l-2.2 0.4M43.6 76.4l0.6 0.0M44.9 73.0l-0.7 0.5M58.7 18.6l1.1 1.6M114.3 14.3l-0.1 0.1M116.9 10.4l0.3 0.7M118.0 44.3l-0.3 0.5M115.6 44.8l-1.0 0.1M115.3 45.6l1.3 0.8M98.2 48.6l-1.9 0.2M40.9 3.8l0.1 0.3M48.5 5.7l-0.6 1.6M48.4 -0.5l0.1 1.0M69.0 77.3l1.8 0.3M121.2 22.7l0.4 0.1M123.1 9.7l0.5 0.1M47.7 8.0l-0.4 0.0M44.0 9.3l0.8 0.7M44.1 11.5l-0.2 0.3M24.9 13.4l-0.9 1.1M25.7 14.8l-1.9 1.0M76.6 81.9l-0.1 0.7M76.3 86.1l0.5 1.5M32.5 47.6l-0.7 0.4M35.9 83.1l-0.6 0.0M106.5 62.9l0.2 0.1M104.5 63.5l-0.2 0.3M108.4 60.0l1.1 0.4M109.0 91.1l1.8 0.8M-0.4 35.7l2.1 0.3M107.4 40.2l-0.2 0.9M73.8 43.6l1.7 0.8M78.3 47.9l0.0 1.9M32.1 27.7l-1.1 0.3M34.0 32.0l1.4 0.5M103.2 38.3l-0.7 0.7M102.6 42.5l-0.7 0.2M31.8 80.1l-1.5 1.4M81.6 86.8l-1.3 0.2M37.9 19.0l0.0 1.6M34.7 16.0l-1.4 1.6M3.3 50.7l0.3 0.2M7.6 1.5l0.0 0.7M-0.8 2.5l1.5 0.3M31.3 72.9l0.1 0.1M32.4 66.4l-0.8 1.6M14.2 7.2l-0.1 0.0M15.9 7.0l-0.2 0.7M17.3 5.2l-1.0 1.7M17.2 44.5l-1.2 1.4M19.0 44.4l-1.5 0.5M7.8 8.7l1.2 0.1M8.4 3.9l-1.1 1.3M4.7 9.9l0.4 0.5M6.0 5.9l0.9 0.2M99.1 35.3l1.3 0.6M107.9 88.0l0.3 0.1M113.5 83.0l1.8 0.5M109.6 87.4l0.9 0.2M110.0 88.7l-0.6 2.2M113.2 84.1l1.3 1.1M2.4 44.8l-1.8 1.2M112.0 79.6l-0.5 1.2M118.6 80.5l1.2 0.7M102.9 20.3l0.5 1.3M106.0 29.9l0.2 0.2M105.7 19.9l0.0 0.1M2.7 42.6l0.7 0.6M4.9 43.5l-0.9 0.1M119.4 22.3l0.6 0.8M122.1 23.7l-0.4 0.7M120.2 23.7l-1.7 1.5M123.3 18.7l2.0 0.9M121.8 26.9l-1.5 1.0M17.9 39.7l0.8 1.6M47.4 44.7l0.0 0.0M37.3 7.1l0.1 1.0M37.0 4.7l-0.5 0.2M39.7 7.9l0.3 0.8M106.4 20.9l-1.1 1.5M109.2 21.1l-0.2 0.9M107.0 24.7l1.3 1.8M6.2 61.6l0.1 1.1M66.0 50.7l1.4 0.6M90.7 95.9l0.4 0.0M20.6 85.9l-0.5 0.3M20.9 84.8l1.2 1.9M20.2 86.6l0.3 1.2M20.7 87.5l0.4 1.9M23.6 85.2l0.3 1.6M43.3 14.7l0.9 0.4M47.1 10.3l1.6 0.7M45.0 8.1l0.1 0.0M114.2 39.9l0.7 1.0M116.4 40.9l0.3 0.5M116.9 39.9l1.6 0.7M111.7 66.6l0.1 0.2M115.0 62.6l-0.8 0.9M118.9 65.6l1.6 1.7M115.0 94.4l-0.7 1.2M33.0 62.4l0.3 0.6M29.9 61.2l1.0 0.3M25.7 65.6l-1.5 0.2M22.5 64.3l-0.1 0.1M27.3 34.4l0.5 0.1M94.9 23.5l0.0 0.0M91.4 20.8l-0.7 0.5M64.7 28.5l0.7 0.4M64.9 29.8l1.0 0.3M68.3 31.2l1.5 1.1M67.1 71.5l-0.9 1.1M76.9 63.6l-1.6 1.8M72.3 64.6l1.7 0.8M4.1 51.1l1.5 1.8M93.1 91.2l0.2 0.3M55.5 17.1l-0.6 0.8M33.8 56.3l0.2 0.7M35.4 51.0l1.7 0.2M40.2 51.3l-1.6 1.3M34.5 56.2l1.5 0.3M29.4 88.1l-0.9 0.9M24.0 89.6l1.2 0.2M83.3 -1.0l0.1 0.0M114.6 67.2l-1.0 0.7M71.5 25.7l-0.0 0.1M35.8 0.6l-0.0 0.0M26.8 83.8l1.1 1.9M30.3 82.5l0.6 0.5M31.7 86.1l-1.7 0.5M103.4 37.7l-1.5 0.6M107.5 34.8l-0.7 1.2M117.4 45.6l-0.1 0.2M69.7 30.4l1.8 0.6M69.6 21.4l0.0 0.6M68.7 27.9l-1.6 1.4M14.9 16.2l-0.2 0.2M15.5 12.1l-1.2 1.8M85.3 3.5l0.5 1.5M91.3 0.8l0.6 0.6M11.5 91.8l2.3 0.3M15.7 88.0l-0.0 0.2M14.5 88.1l0.1 0.2M55.2 42.3l0.1 1.6M29.8 16.4l0.9 0.5M31.1 15.0l0.9 0.9M31.9 16.1l1.5 1.7M27.2 13.1l0.4 0.7M30.3 17.6l-1.2 1.8M114.3 31.2l-0.7 1.9M123.1 37.9l-0.9 0.4M119.8 26.1l0.8 1.3M122.8 34.6l0.8 0.5M18.2 62.6l0.7 1.8M18.4 60.5l-1.0 0.8M16.7 66.2l0.1 0.1M43.4 90.3l-0.5 0.5M123.0 57.6l-0.6 0.7M91.6 56.4l-0.8 0.1M93.5 58.0l2.3 0.6M90.7 52.1l-0.1 0.6M91.6 51.8l-1.8 0.0M59.3 49.8l-1.2 1.3M2.4 70.4l-0.0 0.0M46.3 19.4l-0.1 0.1M50.2 21.5l0.9 0.3M49.0 16.9l0.9 1.5M15.5 22.8l1.1 1.9M84.2 70.0l0.1 0.9M92.9 64.2l0.3 1.3M101.2 68.5l-1.0 0.5M88.7 58.1l0.4 0.7M85.7 53.6l0.4 1.1M81.8 29.5l0.5 0.8M63.1 86.9l1.2 1.4M2.4 63.1l-1.3 0.4M94.9 42.0l0.2 0.3M44.0 79.1l0.0 0.0M88.6 60.3l-0.6 0.0M77.3 93.3l-0.6 0.4M10.3 44.4l-0.8 1.8M14.6 35.7l-0.4 0.0M85.5 64.9l1.2 0.9M48.7 46.6l-0.5 0.4M112.7 5.5l0.4 0.8M108.1 29.7l-0.9 2.2M44.5 26.9l1.3 1.4M122.8 41.2l-1.2 0.5M19.8 61.8l1.7 0.9M14.6 85.6l1.6 0.5M102.7 24.7l2.0 1.0M34.8 77.0l1.1 1.5M8.8 79.7l-1.0 0.7M55.0 70.9l0.7 0.1M111.9 89.3l-0.3 0.3M88.1 67.9l0.9 1.8M31.8 90.3l0.7 1.6M69.0 54.5l-1.4 0.6M53.2 34.0l0.2 0.4M61.4 42.0l2.0 0.2M42.3 31.4l1.0 1.7M70.3 48.3l-0.8 1.4M5.1 61.4l-0.2 0.9M112.1 11.7l0.4 0.1M15.9 5.5l1.2 1.6M67.1 89.4l0.1 0.2M93.1 93.2l-1.6 0.9M109.6 80.6l-0.1 0.6M60.0 80.3l-1.9 0.0M118.5 79.4l0.4 0.3M63.5 78.0l0.0 1.7M3.6 28.0l-0.7 0.9M25.7 12.7l2.3 0.0M79.4 58.6l-0.9 0.4M82.7 78.1l1.4 1.1M45.2 4.2l-0.3 0.2M43.9 43.4l-0.1 0.2M125.4 44.3l0.7 2.3M18.5 31.5l0.2 0.9M61.9 18.1l0.4 0.1M35.4 87.9l-0.7 0.1M83.6 12.3l1.4 0.6M72.0 4.8l0.9 2.0M62.7 56.3l-0.1 1.4M115.6 9.2l-0.2 0.4M86.4 39.4l-0.6 0.6M29.3 87.4l0.3 0.5M57.4 47.8l-0.7 0.1M1.1 66.8l1.4 1.5M73.2 39.4l1.8 1.3M52.4 73.8l0.3 0.1M82.9 83.7l1.0 0.4M91.3 49.0l0.1 0.2M66.6 89.1l-1.0 2.1M123.9 66.8l0.3 1.4M113.6 44.8l0.2 2.2M21.4 32.8l0.9 1.6M110.8 13.7l1.9 0.5M72.6 19.5l1.7 1.3M74.4 49.4l-0.9 2.1M52.8 31.3l0.7 0.9"/><path stroke-width="2.6" d="M2.2 93.9l-1.1 0.3M2.0 93.4l-1.1 1.5M8.2 90.0l-0.6 0.1M101.9 32.4l-1.8 1.0M22.2 28.5l0.3 0.6M17.6 22.5l0.3 2.4M16.4 29.4l0.3 0.7M3.1 1.8l-0.9 0.1M116.0 71.1l-1.0 0.8M118.0 70.8l0.2 1.3M66.0 -1.9l-0.7 2.3M24.3 77.0l0.1 0.7M54.9 10.3l-0.5 0.9M59.9 52.8l0.7 0.8M33.3 9.7l0.3 0.5M66.7 50.4l-0.1 0.8M45.6 75.4l-1.4 0.9M44.5 71.5l0.5 0.4M56.7 21.8l0.4 0.2M60.2 16.0l-0.1 1.8M58.4 19.8l0.3 0.3M116.9 12.6l-0.4 0.8M98.3 54.9l0.6 1.3M42.3 5.3l0.0 2.4M126.9 15.7l0.4 0.4M122.3 19.0l1.0 0.3M123.4 19.6l-0.3 1.8M71.1 82.9l-0.3 0.1M29.7 48.4l1.0 0.7M36.2 86.2l0.0 0.0M104.2 61.6l-0.3 0.6M102.2 44.6l-0.2 0.1M101.3 42.0l-2.3 0.1M79.5 87.5l0.2 0.4M32.7 16.0l-0.1 0.4M27.1 64.7l1.1 0.6M9.6 8.8l0.5 0.2M4.9 8.3l-1.3 0.6M7.3 7.3l1.3 1.2M63.5 45.6l-0.7 0.4M114.1 81.7l0.2 1.7M115.1 79.4l-0.6 0.0M3.7 40.2l-0.7 2.1M124.8 21.4l0.8 0.1M119.4 15.7l0.6 1.5M43.0 48.0l1.3 0.5M111.2 34.7l1.1 0.3M64.3 48.2l0.0 0.0M116.7 63.5l-2.2 0.9M54.8 47.6l0.1 0.1M19.3 68.0l1.9 0.2M22.1 64.7l-0.7 2.0M24.7 69.8l0.8 0.5M25.2 35.8l-0.1 1.2M67.1 30.8l0.1 0.3M69.8 64.7l1.0 0.8M82.1 14.5l-0.5 2.2M116.4 13.4l-0.7 0.0M9.2 33.2l0.4 0.0M37.4 56.4l0.6 1.1M82.9 2.9l-0.1 0.1M115.6 66.4l-0.5 1.1M76.2 21.7l0.1 1.5M49.3 47.2l0.5 2.1M108.3 44.8l-0.1 0.0M10.7 9.4l-1.5 1.5M89.8 5.3l-0.0 0.0M14.1 87.3l-1.4 1.0M58.7 44.7l-1.7 0.8M122.5 34.9l-1.6 1.6M16.2 66.8l1.5 0.8M122.7 63.7l0.1 0.3M5.9 71.5l-0.5 0.2M43.6 24.0l-0.3 0.3M15.1 24.7l-0.8 0.7M19.2 24.0l0.6 0.0M96.2 60.2l-1.5 0.1M90.2 60.2l-0.1 0.1M88.3 58.8l0.2 0.3M16.5 49.3l0.6 0.4M14.2 4.6l1.7 1.2M71.8 66.3l-0.3 0.6M12.6 58.0l-0.0 0.2M16.1 51.2l-1.1 1.0M6.8 53.1l-0.7 0.9M95.0 20.1l-0.7 0.1M77.8 -0.6l-1.4 1.5M102.1 10.0l0.5 1.2M59.3 5.1l1.4 0.2M65.4 33.4l-0.6 1.7M68.9 69.7l-0.1 0.1M20.4 61.3l0.4 1.0M70.6 46.2l1.4 0.8M12.8 79.9l-0.2 0.9M39.3 47.0l0.8 1.1M116.3 14.5l-1.7 1.3M19.7 17.5l-0.6 0.6M111.0 19.0l-0.5 0.1M124.9 24.5l-0.7 0.8M69.5 48.6l1.7 1.3M87.6 11.2l0.3 0.2M32.1 37.3l-0.0 0.0M100.3 20.5l-0.1 0.1M78.0 93.4l1.3 1.8M78.5 17.4l0.3 1.3M107.3 51.4l0.1 0.7"/></g><g id="s4" fill="none" stroke="currentColor" stroke-linecap="round"><path stroke-width="1.8" stroke-opacity=".45" d="M18.3 38.8l1.0 0.3M21.4 38.7l-1.9 1.4M74.5 26.7l-1.7 0.6M72.0 31.4l0.0 0.1M75.6 24.2l1.2 1.4M71.7 28.0l0.0 0.1M29.6 55.3l0.2 0.2M26.2 55.8l-1.5 1.0M28.0 53.9l0.6 0.4M93.4 36.5l-1.4 0.6M97.5 37.1l-0.1 0.5M98.9 39.6l-0.2 0.4M7.2 29.7l-0.8 0.6M93.1 90.5l0.2 0.1M97.4 90.7l-0.6 0.6M122.2 48.7l0.8 0.5M115.1 64.0l-0.0 0.1M37.7 72.2l1.8 0.9M78.2 59.3l1.9 0.4M70.7 59.4l0.0 0.0M25.0 1.2l-1.3 0.6M23.3 2.3l0.5 0.7M15.6 53.5l0.0 2.1M13.8 53.7l0.9 0.2M18.7 53.1l-0.4 1.2M13.8 66.2l0.1 1.7M57.1 74.2l-0.3 0.3M53.2 69.0l-0.6 1.1M101.4 76.1l0.3 0.0M28.0 81.6l-1.3 0.0M27.7 79.0l-0.8 1.2M100.2 48.6l0.8 2.0M93.1 52.4l0.1 0.2M97.2 51.4l-0.3 1.0M36.6 69.8l-0.3 1.7M36.4 67.8l0.2 0.1M77.8 51.9l0.2 1.6M23.0 81.6l0.3 1.1M19.2 83.0l0.3 0.9M19.7 78.7l-0.9 1.5M42.1 82.9l-0.4 0.2M42.2 90.3l0.7 0.7M40.7 92.9l1.0 0.2M44.1 90.7l0.8 1.3M88.0 58.5l-0.9 2.2M94.8 63.1l0.7 0.5M91.1 62.5l0.5 0.3M-0.3 84.2l0.9 0.8M126.0 8.8l-0.3 0.5M123.5 10.9l0.0 0.0M60.9 19.3l-1.6 1.7M60.4 23.6l-0.2 0.4M55.7 18.9l-0.0 0.2M76.1 67.9l-1.0 0.2M80.9 66.9l-0.4 1.2M99.2 5.2l1.2 0.6M93.9 -0.2l0.6 0.3M98.4 -2.2l-0.3 0.7M6.3 2.1l-0.1 0.6M7.0 8.3l-0.2 0.6M46.9 51.6l-0.9 0.8M121.5 22.2l0.2 0.4M75.1 18.2l0.3 1.3M77.1 16.2l-1.4 0.0M4.6 89.1l0.4 0.9M4.4 89.1l-0.8 0.2M58.1 28.5l1.1 0.5M58.2 23.6l0.0 0.0M57.2 24.7l2.0 1.3M53.6 21.9l-0.0 0.2M64.5 5.2l1.2 0.4M109.8 37.1l1.5 1.8M114.8 40.5l0.2 1.0M28.4 22.2l1.0 1.6M22.9 28.4l-0.3 1.1M27.8 22.1l-0.1 0.5M56.9 70.6l-1.0 0.4M54.0 48.3l-0.3 0.0M100.4 65.2l0.5 1.1M99.9 57.6l-0.2 0.5M100.5 62.1l-0.5 2.0M101.2 68.4l-0.0 1.5M103.5 58.3l1.4 1.3M57.7 62.2l1.1 0.2M53.4 58.3l2.0 0.1M72.7 63.1l-1.6 1.5M81.4 40.6l-1.2 0.3M79.0 41.0l0.5 1.3M89.0 3.2l-0.5 0.1M86.1 5.3l0.1 0.7M90.7 6.7l-0.6 1.6M42.1 28.7l-1.3 1.6M46.3 32.8l0.3 1.2M44.5 25.9l-1.2 0.9M17.6 10.5l-2.0 0.2M92.3 68.6l-0.0 0.0M48.0 62.6l-1.1 1.2M46.8 64.8l0.6 0.8M35.4 92.4l-0.3 0.1M119.2 64.9l-2.1 0.9M48.6 16.1l-1.0 1.4M5.6 48.0l0.4 0.2M82.1 90.1l-0.2 2.1M92.4 91.3l-0.1 0.7M89.4 86.6l1.4 0.5M49.7 82.0l-0.1 1.0M24.9 59.5l-0.0 0.3M25.3 37.5l-0.3 0.1M27.2 37.7l-0.0 0.0M25.0 32.8l-0.5 0.3M25.8 35.0l-0.2 0.0M6.6 40.2l0.3 0.2M9.7 45.8l0.8 0.7M79.7 77.9l0.8 0.7M93.8 83.9l-0.0 1.8M52.8 3.1l-0.4 1.5M122.8 28.4l1.0 1.6M117.9 28.0l-0.5 0.7M67.2 11.4l-2.1 0.8M72.2 13.4l1.5 0.9M71.2 12.0l0.2 0.7M71.1 13.4l1.7 1.4M68.9 20.0l-0.0 0.0M103.3 46.2l1.5 0.3M82.6 76.2l-0.1 0.0M2.3 1.0l1.2 0.8M1.5 6.7l0.5 0.2M2.8 0.4l0.3 2.1M85.4 79.9l0.9 1.2M46.6 61.9l-0.1 0.8M42.2 9.5l-1.0 1.4M38.4 11.1l-0.1 0.1M108.6 40.5l-0.5 2.2M109.0 38.5l-1.8 0.1M101.8 41.0l-2.3 0.2M123.7 51.5l0.3 1.5M119.6 53.2l-1.4 1.8M121.1 56.3l2.1 1.0M126.4 46.8l-0.2 0.6M107.4 7.8l0.1 0.5M16.3 82.5l-1.8 0.7M92.6 59.9l0.0 0.1M124.3 7.9l-0.1 1.5M127.5 9.5l0.2 1.1M49.6 89.9l0.7 1.8M48.1 87.1l-1.2 0.9M106.7 6.4l0.7 1.1M46.6 77.8l0.2 2.2M75.7 21.5l-0.1 0.0M81.8 27.4l-0.0 0.4M81.7 26.8l-0.1 0.5M16.4 70.0l0.1 0.7M11.0 67.9l0.4 1.4M36.8 24.8l-0.0 0.2M53.8 53.5l-1.4 1.9M33.2 0.7l-1.3 1.0M64.1 80.0l-0.5 0.4M111.6 13.4l-2.1 0.7M38.9 56.7l0.9 0.6M29.3 7.0l1.4 0.1M64.3 18.9l-0.2 0.4M47.9 62.0l-0.0 0.0M113.3 54.1l-0.2 0.1M27.5 8.1l-1.3 0.6M25.8 4.8l-0.2 0.2M21.9 8.1l-1.5 0.9M80.4 28.1l0.3 0.3M77.8 29.9l-0.0 0.0M76.8 29.6l0.7 0.2M41.4 86.2l-0.6 0.7M53.0 7.3l0.1 0.1M124.6 -0.4l-0.4 2.1M39.5 48.7l-0.9 1.2M69.8 66.2l0.4 1.2M11.6 30.6l0.2 1.9M76.3 34.9l0.0 0.1M57.2 23.8l0.1 0.9M103.3 72.1l1.0 1.3M43.1 87.9l1.4 0.9M90.9 54.6l0.3 0.1M30.8 40.8l-0.5 1.8M118.3 45.2l-0.0 0.8M5.5 18.0l-0.6 1.6M32.2 41.0l0.2 0.1M19.2 74.5l-0.3 0.6M124.5 46.6l-1.6 0.0M103.2 28.7l1.2 1.3M30.0 84.7l0.1 0.7M96.7 26.5l-1.1 1.9M106.0 28.0l1.6 0.9M76.3 69.0l0.8 1.7M102.3 66.9l-0.6 0.0M123.0 46.7l-0.1 0.3M104.0 63.8l-1.8 1.1M31.6 56.0l0.7 0.1M36.8 90.9l0.0 0.8M65.5 56.2l-0.1 1.3M43.3 1.1l-0.7 2.1M97.6 40.4l0.1 1.2M46.9 31.3l0.4 0.2M101.8 11.5l-0.2 1.8M84.7 43.0l1.1 0.9M21.7 43.0l-0.6 1.3M114.2 50.4l-0.0 0.3M81.3 58.5l-1.0 0.5M49.7 85.7l2.3 0.5M92.0 71.4l0.3 1.3M30.4 9.9l-1.4 1.0M123.0 57.5l0.5 1.2M91.2 49.8l0.8 0.5M53.1 14.8l-0.4 2.3M114.0 16.3l0.3 0.3M105.2 40.2l-1.3 0.9M66.0 32.3l-0.2 1.0M84.1 38.6l-0.2 0.1M114.7 40.7l0.6 0.7M38.2 66.5l-0.2 0.1M24.1 75.6l-0.2 0.6M117.9 71.1l-0.7 2.1"/><path stroke-width="2.1" stroke-opacity=".75" d="M14.4 38.9l1.1 0.9M14.1 41.8l2.1 0.6M-1.3 46.1l-0.1 0.2M29.5 51.5l-0.8 2.0M98.8 38.9l-0.1 0.8M96.8 37.8l0.7 0.9M91.5 36.3l-1.4 0.8M12.7 57.4l-1.8 0.5M5.7 33.2l-0.7 1.8M5.0 29.0l-0.1 0.4M97.2 90.9l-1.1 0.4M94.2 93.6l0.4 0.8M115.2 64.8l0.9 1.2M26.7 16.8l-1.3 1.4M76.3 62.2l-0.3 0.4M75.6 58.9l-0.5 1.4M78.0 63.5l1.2 0.3M73.6 60.8l1.2 0.6M28.6 -0.4l-0.9 1.8M18.1 56.1l-1.8 0.1M17.0 50.3l-0.7 2.2M18.9 52.2l0.4 1.4M49.0 84.2l1.7 0.5M14.5 66.7l-0.4 0.4M17.2 68.4l1.7 1.1M55.7 74.7l0.1 0.6M67.5 62.5l0.1 0.2M96.7 51.6l-0.8 1.2M98.3 47.7l-1.4 1.1M79.9 82.7l0.8 0.6M77.0 81.5l-0.2 1.0M74.0 82.3l-0.4 2.2M76.6 85.2l0.5 1.2M79.8 51.3l2.1 0.4M45.1 81.9l2.0 1.3M45.2 89.0l-0.1 0.9M39.2 86.7l0.5 0.3M91.2 58.6l-0.3 0.5M91.5 58.7l0.4 1.9M6.4 84.4l-1.0 0.8M123.1 11.7l0.8 0.4M125.4 6.3l0.0 1.7M98.6 44.2l-0.0 0.8M100.2 42.7l-0.9 0.0M99.6 46.2l1.0 1.0M6.8 89.8l0.0 0.8M124.3 12.8l0.3 1.2M36.0 62.5l-1.6 0.6M29.9 30.7l0.4 1.2M74.5 66.8l-2.1 0.9M74.4 64.4l0.8 1.3M101.5 0.4l1.0 1.6M45.1 48.6l1.4 1.1M45.0 51.0l-0.6 0.1M121.2 23.9l-0.7 0.3M36.5 87.4l-0.5 0.8M78.2 12.1l-0.8 0.6M88.4 6.6l0.6 1.0M0.1 92.8l0.3 0.9M2.6 86.4l-0.3 0.6M57.1 30.5l0.1 0.0M55.8 26.1l-0.7 0.5M53.7 25.6l1.4 0.3M60.3 24.0l-2.3 0.1M64.0 11.3l-0.1 0.0M56.7 -0.5l-0.0 0.1M62.2 4.7l1.4 1.2M113.5 38.0l-0.3 0.0M22.1 28.0l-0.7 0.8M27.4 25.0l-0.6 1.9M10.0 77.7l0.4 0.6M73.8 61.7l-0.9 0.7M49.4 9.4l0.3 0.1M52.6 48.2l0.3 0.5M57.8 41.8l-1.6 1.8M55.5 44.7l-0.0 0.0M55.4 44.4l-0.6 0.1M72.4 62.9l-2.1 0.7M82.1 44.6l-2.3 0.7M77.4 40.0l0.2 1.2M82.9 7.6l0.3 0.1M87.9 2.6l0.1 1.1M48.1 29.5l-0.1 0.3M15.4 8.6l0.1 0.1M89.3 63.7l-0.4 0.8M92.3 63.2l-1.2 1.9M88.0 60.7l0.0 0.0M87.0 67.3l0.1 1.0M88.3 65.3l-0.8 1.0M51.6 95.4l-0.5 1.3M48.4 64.7l0.1 0.3M111.8 63.0l2.0 0.9M110.9 64.8l-0.5 1.9M62.2 46.7l0.1 0.0M58.3 48.2l1.2 0.0M61.2 47.0l1.1 0.5M67.3 81.2l1.0 0.3M61.3 79.3l-1.0 0.8M66.7 82.5l0.1 1.6M66.1 84.4l-0.0 1.5M120.6 1.9l1.9 0.6M37.3 77.1l-0.4 0.2M37.7 83.8l0.1 0.1M35.5 85.6l0.3 1.6M22.7 48.2l-1.4 1.7M47.1 23.4l0.1 0.9M44.6 23.8l-1.7 0.7M45.3 23.8l2.2 0.0M54.3 37.9l-1.8 0.2M52.4 43.2l0.7 1.8M77.9 86.5l0.1 1.0M79.8 94.1l-1.4 1.2M75.7 89.5l0.2 0.2M94.2 90.9l-0.8 0.9M50.3 83.5l0.0 1.0M49.4 83.1l0.7 0.0M23.4 61.8l-1.5 0.1M21.9 61.1l-0.0 0.0M24.3 62.4l0.5 1.1M13.6 46.4l0.6 0.0M15.4 45.2l1.3 0.3M78.5 79.7l-0.5 0.5M78.1 84.9l-0.8 2.2M82.3 2.9l0.4 0.6M78.5 13.0l2.0 1.0M78.4 8.0l0.1 0.4M101.8 88.0l-0.2 0.3M98.2 89.9l0.1 1.9M70.3 12.2l1.0 2.1M61.9 92.3l0.3 1.3M65.6 91.3l0.5 0.3M65.0 95.0l-1.0 0.6M101.1 39.7l0.0 1.5M7.2 32.6l-0.1 1.4M92.0 77.8l-1.2 1.4M48.3 57.7l-0.0 1.8M47.0 61.0l-0.6 0.5M47.6 64.3l0.6 2.0M43.3 57.7l-0.8 2.0M38.3 13.8l2.2 0.7M43.4 10.8l-0.6 0.5M39.9 11.7l-0.2 0.6M42.6 10.4l-1.1 0.0M107.0 43.7l-0.1 0.1M5.2 81.8l2.1 1.1M108.3 44.0l-0.8 0.8M121.7 52.1l0.0 0.3M104.7 11.6l-0.7 0.4M104.7 13.7l-0.6 1.4M15.2 83.7l-1.6 1.3M56.4 14.0l0.9 1.7M58.7 18.2l-0.1 0.1M62.4 13.1l-0.9 1.4M88.3 58.2l0.1 0.5M92.2 56.7l1.4 1.7M86.5 60.1l1.9 0.0M91.7 56.8l-0.1 0.5M91.6 59.3l0.3 0.1M114.4 8.7l1.9 1.1M125.7 5.4l-0.5 0.6M48.1 87.9l0.0 0.0M105.8 8.5l1.0 0.9M107.2 11.3l-0.5 1.3M53.7 76.9l2.2 0.2M78.7 21.6l0.3 0.5M78.4 27.0l-0.2 0.7M15.0 68.9l-0.3 0.7M16.1 71.4l-0.5 0.6M13.8 71.9l0.5 0.2M17.0 69.8l1.3 1.8M46.8 19.1l0.7 1.9M41.4 19.6l1.6 0.3M59.5 59.8l-0.3 2.4M54.1 53.2l2.2 0.9M26.6 86.7l0.2 0.2M69.4 79.8l-1.0 1.9M61.7 80.1l1.4 0.3M60.7 83.2l0.0 0.0M108.4 7.4l-1.2 0.7M40.7 51.8l1.4 0.4M42.6 58.2l-0.0 0.0M126.0 80.7l-1.3 2.0M118.2 77.6l1.6 0.7M123.2 71.7l0.1 1.1M121.1 81.2l0.2 0.5M62.3 14.5l0.9 0.0M63.6 14.2l0.1 0.8M59.4 17.5l0.8 0.1M60.9 14.2l-0.0 0.0M76.2 35.2l-0.5 0.7M80.7 41.3l0.1 0.2M73.3 96.9l0.0 0.0M47.9 56.9l0.1 0.2M45.5 64.5l-0.5 0.5M43.4 63.5l1.6 1.2M118.8 51.0l-0.9 0.4M117.1 54.4l-0.2 0.3M113.7 50.8l-0.2 1.0M87.7 7.5l1.1 1.9M30.4 18.0l-0.4 1.5M82.4 30.0l-1.3 1.3M77.1 27.7l0.4 1.9M116.6 41.6l0.2 1.8M61.1 81.5l0.0 0.3M88.0 7.1l-2.1 0.6M64.4 93.0l0.9 1.0M117.2 40.8l-1.5 0.6M55.8 93.5l-0.3 0.1M58.2 61.0l0.1 0.6M60.2 60.3l1.8 1.6M64.3 83.8l0.1 1.2M118.6 36.1l-0.6 1.4M77.4 39.4l-0.7 0.1M1.8 30.3l1.4 1.4M123.4 93.7l0.2 0.1M12.8 47.1l1.2 1.3M35.1 61.0l-0.1 0.2M52.5 5.8l-0.3 0.6M56.5 2.7l2.0 0.8M112.1 69.5l0.3 1.3M45.9 28.7l0.1 0.2M49.4 75.1l0.4 0.6M51.9 26.6l1.9 0.6M28.9 78.8l-0.4 1.2M16.2 75.3l-1.2 1.6M64.3 36.8l-1.2 0.7M27.7 88.7l0.7 0.1M13.7 74.1l1.3 1.4M54.2 60.0l-0.5 0.1M68.1 1.2l-2.1 1.1M51.7 86.8l-0.1 0.6M2.5 24.0l-0.7 0.4M49.7 40.5l0.5 0.8M13.0 6.4l2.1 0.9M21.2 17.4l-0.0 0.2M7.5 44.8l-0.0 0.1M93.6 86.2l-1.7 0.2M39.5 14.9l0.9 0.1M69.2 1.1l-0.5 0.7M20.5 25.5l-2.0 0.3M98.4 84.8l0.0 0.1M88.5 18.3l0.9 0.6M38.6 40.0l1.4 1.2M18.6 11.6l-0.4 1.0M82.8 22.3l-0.3 0.8M126.0 88.9l-1.1 2.0M32.0 79.3l-0.0 0.0M101.5 20.5l-0.6 2.0M11.1 63.1l1.0 0.4M73.7 83.0l-0.2 0.1M123.6 13.0l0.5 1.5M33.0 10.6l-0.8 0.1M5.6 23.6l0.5 0.1"/><path stroke-width="2.6" d="M18.1 41.1l-1.3 0.2M74.1 26.6l0.5 0.1M6.1 29.6l0.9 0.3M4.5 30.8l1.3 0.7M95.2 94.0l-1.3 0.0M48.3 83.9l-0.1 0.2M44.7 68.3l-1.8 1.0M41.6 73.6l0.4 0.0M17.0 55.8l-0.5 1.8M47.2 84.4l0.3 2.2M15.5 70.3l1.1 0.1M10.7 71.5l-0.2 0.0M57.3 77.4l0.6 1.3M52.1 73.2l1.8 1.4M48.4 77.8l0.6 0.3M93.5 73.9l0.1 0.1M67.5 61.1l-0.5 1.7M26.2 78.2l0.0 0.1M76.8 86.7l0.2 0.4M20.5 80.6l0.7 2.0M40.4 83.2l-1.1 1.1M5.4 89.9l-1.1 1.4M67.5 26.1l1.3 1.5M121.4 4.6l0.8 0.6M97.5 42.7l-0.3 1.8M3.0 90.6l0.5 1.4M31.6 25.8l0.8 1.7M29.9 29.0l2.1 0.3M58.1 23.5l1.1 0.1M11.5 6.4l-0.4 2.3M48.5 53.7l-0.8 0.7M24.7 30.5l-1.3 0.1M32.6 88.2l-1.2 0.2M35.4 90.8l-0.2 1.5M4.4 84.9l-0.9 0.5M1.2 92.3l-0.2 0.0M59.1 29.0l-0.0 0.1M59.0 26.4l0.7 0.5M112.5 34.4l1.2 1.3M13.8 71.9l-1.2 0.5M100.2 65.9l-0.8 0.7M69.4 61.2l-0.8 0.2M18.0 7.6l0.7 0.9M82.5 65.7l0.6 0.1M32.2 93.4l2.1 1.1M116.1 61.3l0.1 0.0M112.6 65.2l-1.8 0.1M115.7 62.3l-0.1 1.7M63.3 46.5l0.5 0.2M121.2 -2.3l-0.4 2.1M119.8 1.5l-0.9 1.1M40.0 80.5l-0.2 0.5M43.7 82.3l-1.1 0.5M22.6 46.8l-1.1 1.5M20.6 49.9l-0.2 0.7M11.8 46.5l1.6 0.8M50.2 85.1l-1.4 1.1M20.1 58.5l0.2 0.0M8.5 40.8l1.4 1.9M70.9 46.9l-0.7 0.0M70.2 49.4l0.6 0.6M66.7 52.5l-1.2 0.8M72.2 49.2l-1.8 1.2M78.0 78.6l-1.5 1.8M74.5 82.3l0.9 0.7M74.7 4.2l0.5 1.5M92.3 90.8l-1.4 1.4M120.7 25.3l0.6 0.4M76.1 13.6l1.4 1.0M100.7 42.8l-0.9 0.1M84.2 73.7l0.5 2.0M4.7 33.3l2.1 0.0M92.4 75.1l-0.8 1.3M42.1 62.4l2.0 0.7M44.9 67.9l0.2 0.2M104.6 42.2l0.3 1.4M120.9 49.2l-2.1 1.0M127.1 51.6l0.0 0.1M127.8 45.5l0.0 0.0M14.3 82.8l1.1 0.7M123.1 6.0l1.1 2.1M107.2 10.5l-0.2 1.5M49.6 85.4l-0.7 2.3M81.2 24.1l-1.5 1.8M51.0 51.7l1.7 0.4M28.3 4.8l0.2 0.4M23.7 1.9l-0.0 0.7M66.1 78.2l-0.8 0.5M105.8 12.4l-1.6 0.3M79.9 42.1l-0.1 0.2M74.1 35.3l-0.0 0.3M69.9 94.3l0.4 0.9M68.1 89.1l0.4 0.2M67.8 93.8l-0.6 0.2M113.5 49.5l-0.4 1.4M89.2 4.4l0.9 0.1M30.8 19.4l-0.1 1.5M80.2 28.6l-1.0 0.7M78.8 28.7l-0.1 0.3M77.2 26.4l0.9 0.5M81.6 28.1l0.1 0.9M24.8 15.2l0.0 0.4M115.0 41.5l-1.6 1.7M20.9 26.4l1.0 1.2M70.0 62.0l0.8 2.3M27.6 93.3l1.7 0.8M5.6 40.1l-1.1 0.7M13.1 -0.1l2.0 0.8M79.1 3.4l-1.6 0.0M15.2 40.0l0.6 0.3M66.8 48.4l-0.8 0.4M80.8 80.5l1.6 0.9M113.2 35.2l0.2 0.6M16.9 47.4l0.5 1.1M9.1 86.3l-0.0 0.0M22.3 81.1l0.8 2.3M74.6 68.7l0.7 2.1M108.6 71.0l0.4 0.9M70.5 6.7l1.7 1.4M25.2 77.2l-0.9 0.3M15.3 73.9l-1.1 0.6M105.7 19.1l0.6 0.2M31.8 52.1l-0.2 0.1M115.0 12.7l-0.6 0.4M98.2 57.0l-0.3 1.3M122.4 24.5l-0.1 0.0M24.8 68.9l1.4 0.0M116.4 63.0l0.5 0.6M104.3 52.8l1.6 1.1M71.6 17.7l0.1 0.6M88.6 4.9l0.3 1.7M43.7 1.3l-1.4 1.6M107.5 20.8l0.2 0.3M11.6 35.1l0.1 0.2M7.4 45.1l0.2 1.0M105.2 84.8l0.9 0.3M123.9 69.4l-0.1 1.3M24.0 25.5l0.1 0.1M93.1 5.7l-0.2 1.1M33.4 80.4l-0.1 0.3"/></g><g id="s5" fill="none" stroke="currentColor" stroke-linecap="round"><path stroke-width="1.8" stroke-opacity=".45" d="M43.1 94.2l1.2 0.6M47.2 93.6l-0.9 1.1M93.3 43.8l-0.8 1.4M109.1 10.5l-1.1 1.0M112.9 5.6l0.0 0.1M34.5 51.5l-0.2 0.0M49.9 5.6l-0.4 0.5M115.8 62.9l-2.0 0.5M115.5 68.8l0.5 0.3M30.1 81.4l-0.9 0.4M29.8 5.3l1.4 1.3M38.7 86.9l-1.5 1.6M36.0 84.7l0.8 0.8M33.3 86.1l0.6 2.2M77.0 51.1l-1.9 1.2M74.1 58.6l1.4 1.3M54.3 88.8l0.1 1.6M49.9 80.4l1.8 0.2M81.8 25.0l-0.2 0.3M83.5 22.2l-0.0 1.8M78.4 22.7l-0.3 0.2M116.1 92.9l-0.5 2.2M116.1 91.9l-1.6 0.1M65.5 74.1l-0.2 0.0M65.5 81.3l-0.0 0.4M119.2 41.5l0.6 0.9M126.2 42.2l0.3 0.2M47.4 50.1l1.2 1.4M22.5 90.2l-0.7 0.2M25.5 77.4l0.1 2.2M29.9 74.0l0.1 2.0M1.5 89.3l-0.9 0.6M100.3 65.8l1.5 0.7M101.9 69.7l-0.6 0.4M100.8 66.8l-0.0 0.1M99.0 66.6l-0.3 0.1M7.1 0.7l0.8 1.3M58.1 73.9l-1.2 0.8M54.6 76.6l-0.5 0.8M56.5 77.0l0.2 2.4M88.8 52.6l-0.4 0.4M125.4 76.2l-0.1 0.5M46.5 73.9l-0.6 1.6M95.3 65.0l0.9 0.7M100.0 66.2l0.2 0.2M96.0 67.5l-0.0 0.6M11.1 47.7l-0.1 0.3M16.1 27.0l0.9 1.7M118.7 38.7l0.8 1.2M81.4 65.6l0.7 1.8M83.6 65.5l-1.0 1.3M119.2 6.6l0.1 0.2M13.0 5.4l-2.2 0.3M38.9 35.7l-0.4 0.2M48.6 36.8l-0.0 0.0M36.4 42.5l-0.7 0.8M81.3 63.5l-0.7 1.8M35.5 93.8l0.0 0.1M116.1 44.3l0.0 0.0M118.3 41.1l0.8 0.7M40.6 29.3l-1.1 1.8M22.9 2.6l-1.2 1.5M19.6 1.4l-0.2 1.2M21.5 0.4l0.9 2.1M26.8 70.8l-0.8 1.7M25.4 71.1l0.7 1.9M45.3 73.1l0.1 0.7M65.6 28.7l-1.4 1.0M105.0 76.6l0.1 0.3M77.7 4.0l0.1 0.0M7.5 69.9l0.3 0.3M9.4 80.8l0.4 0.2M13.4 51.3l-0.2 0.1M17.6 53.3l-0.4 0.2M73.0 89.1l0.1 0.5M68.1 32.8l-2.0 1.0M61.5 29.9l1.8 0.3M64.6 32.8l-1.8 0.6M113.0 -1.5l-0.9 0.4M115.8 4.8l0.2 1.9M44.3 11.5l0.7 0.6M45.6 12.5l1.1 1.8M45.7 9.5l1.1 0.6M51.1 12.6l-1.2 1.7M125.2 91.8l-0.1 0.2M125.4 92.5l1.2 1.3M86.8 20.4l0.5 2.2M14.1 60.7l-0.1 0.0M11.1 56.9l-0.2 0.2M120.4 46.4l0.4 1.2M33.4 75.7l-0.9 0.1M99.4 82.0l0.9 0.0M51.7 85.1l0.5 0.9M49.6 89.0l1.0 0.4M57.2 44.4l-0.2 1.9M58.1 43.0l0.2 1.5M120.8 24.0l0.4 1.7M127.1 5.0l-2.4 0.2M122.8 5.8l-1.1 0.7M22.1 88.1l0.4 1.6M18.1 83.2l0.8 1.0M27.9 8.4l1.2 1.9M23.9 7.8l0.1 0.1M104.9 24.0l1.5 0.6M106.8 18.9l-1.9 1.0M46.8 7.8l-0.3 0.8M47.9 3.1l-1.7 1.0M8.2 34.2l-0.0 0.0M52.6 9.8l-0.1 0.3M68.4 49.7l0.0 2.1M43.6 36.0l0.7 0.0M112.7 55.1l-0.4 0.8M115.4 81.5l-0.4 1.8M90.6 87.5l-0.1 1.3M13.2 23.0l-0.1 0.6M107.0 0.3l2.0 1.2M91.2 61.4l-0.8 0.8M86.5 62.1l-0.9 1.1M86.8 64.4l0.1 0.0M97.2 74.6l1.0 1.1M99.7 74.1l-1.2 1.9M126.7 48.9l-0.7 0.1M81.7 37.4l-0.3 0.7M78.9 31.6l-2.1 0.7M5.9 81.8l-0.1 0.0M-0.4 86.9l0.6 0.5M2.9 72.2l-0.5 2.3M3.5 84.2l1.0 0.9M101.0 58.2l-1.3 1.0M58.3 32.4l-1.9 0.6M70.1 28.9l1.1 1.5M62.3 31.6l0.0 1.9M66.0 37.2l1.0 0.5M98.5 27.6l-1.4 1.2M89.3 18.7l-0.8 1.6M86.1 17.5l1.1 0.9M115.6 19.7l0.7 2.0M9.4 22.3l-1.6 1.0M7.0 29.2l-0.9 0.3M62.1 22.7l-0.1 0.7M45.2 35.8l0.1 0.0M108.5 85.2l-1.2 0.6M101.7 89.3l-0.0 0.4M105.2 79.8l0.9 1.4M110.1 76.6l0.5 1.2M106.8 79.3l1.2 0.9M110.8 37.5l0.9 1.0M47.5 68.8l-1.0 0.1M43.3 46.7l0.9 0.4M37.7 46.6l-1.9 0.8M44.6 45.7l-0.7 0.8M99.2 82.6l0.1 1.0M98.3 84.2l-0.0 0.3M96.5 80.3l1.5 0.4M40.0 15.2l-0.8 0.9M37.1 17.3l-0.4 0.2M37.8 18.0l1.0 1.3M80.9 63.4l0.2 0.8M47.1 84.2l-0.7 1.0M41.6 79.9l0.0 0.4M42.9 84.2l0.0 0.1M44.1 84.2l-1.6 1.8M37.5 83.5l0.1 0.7M108.6 11.3l-0.9 0.0M106.3 15.5l0.5 0.8M105.6 9.5l0.2 2.0M93.1 66.5l0.3 1.2M34.2 8.5l-0.3 0.8M48.0 85.8l0.8 0.4M19.0 45.2l-0.7 0.3M18.2 47.0l1.1 1.5M97.3 20.8l1.0 0.2M14.6 48.7l1.0 0.6M112.6 87.1l0.0 0.0M90.5 74.3l-1.0 0.5M114.6 61.9l-0.1 2.1M28.9 41.8l-0.1 2.0M74.7 18.1l0.8 1.8M125.7 33.3l0.1 0.2M33.8 46.7l1.3 0.4M14.4 77.2l1.7 0.2M39.9 11.7l0.0 0.0M117.4 8.1l1.7 1.7M75.3 42.7l-1.9 0.8M89.1 47.2l0.9 1.9M117.2 12.7l1.2 2.0M74.5 1.9l-0.4 0.5M90.9 62.0l0.4 1.2M106.8 44.3l0.0 1.3M34.7 40.0l0.3 0.2M65.4 42.6l1.3 0.9M107.4 20.2l-0.7 0.9M63.9 10.1l-1.1 0.2M97.3 21.1l0.8 1.1M106.4 52.3l-0.7 1.9M11.4 57.7l1.8 1.6M72.5 13.1l-0.9 0.7M117.1 41.4l-1.3 0.5M9.2 29.0l-0.2 2.4M21.7 27.0l0.3 0.6M60.9 3.5l-0.1 2.3M36.1 82.3l-0.2 0.2M120.8 27.4l1.1 0.8M22.7 84.6l0.2 2.2M93.6 40.3l1.1 0.5M7.9 3.9l0.3 0.6M1.6 4.0l1.1 0.3M92.6 4.0l-0.9 0.9M50.2 76.2l0.6 1.4M35.1 34.1l-1.4 0.1M5.1 27.4l1.6 0.3M48.5 21.2l-0.2 0.0M23.8 92.2l0.1 1.7M93.6 23.6l-0.3 1.0M86.9 65.4l-1.2 0.2M112.4 64.2l-0.1 0.3M16.1 90.2l-0.3 0.0M43.5 31.8l-0.6 0.5M75.9 4.7l0.0 0.4M85.1 34.6l-2.4 0.0M73.8 17.8l-0.2 0.1M39.7 1.0l0.5 2.3M73.6 44.5l0.0 0.6M8.8 20.6l0.2 0.1M18.4 0.9l-0.0 0.2M39.7 20.5l-0.1 2.3M46.0 12.8l-0.8 0.6"/><path stroke-width="2.1" stroke-opacity=".75" d="M21.8 53.8l-0.1 0.4M42.3 86.7l1.6 0.3M41.8 91.6l1.2 0.4M70.4 82.9l-1.3 1.6M86.2 47.0l-0.1 0.0M87.1 43.7l0.3 1.8M114.9 4.8l-1.7 0.2M108.1 9.7l-1.1 0.2M115.8 10.0l0.2 0.9M37.1 52.8l-0.5 2.3M36.2 51.3l0.1 0.1M33.8 54.3l0.2 1.5M54.5 7.6l-0.2 0.1M119.5 67.9l-0.2 0.3M3.7 44.1l0.8 0.5M1.8 40.4l0.1 0.1M31.8 80.4l-2.1 1.1M21.6 73.7l-0.0 0.4M35.2 0.5l0.5 0.4M39.8 2.9l0.7 1.5M34.7 86.6l0.3 0.8M39.3 79.9l-0.9 0.4M76.1 56.8l-1.0 1.7M68.6 54.3l1.3 1.6M68.5 57.5l0.7 0.5M69.4 56.3l0.1 0.0M50.4 80.8l0.5 0.0M80.8 26.9l2.2 0.8M80.0 27.3l0.2 0.4M116.3 92.0l-0.0 1.4M63.6 75.0l-0.8 0.6M72.6 71.4l-0.1 0.2M117.1 52.2l0.5 0.9M122.9 40.0l-0.1 0.4M46.8 54.6l-0.0 0.1M42.7 51.2l0.0 0.2M100.2 49.1l0.1 0.0M95.1 50.5l1.0 1.5M101.5 53.5l0.6 1.5M22.3 95.3l1.4 1.7M107.4 52.7l-0.1 0.6M25.7 70.8l0.3 0.1M23.1 73.7l1.2 0.4M59.5 62.6l1.1 0.7M51.7 58.0l-0.7 1.1M9.5 48.7l1.5 1.6M36.3 9.7l0.3 0.3M96.4 69.0l-0.1 0.3M101.0 67.4l1.9 1.1M43.0 55.0l-0.3 2.3M46.0 58.5l-0.2 0.2M50.3 53.0l-1.1 0.3M47.1 54.9l-0.6 0.3M45.5 54.4l1.5 0.9M122.2 49.9l0.7 0.5M122.9 74.1l-0.1 0.1M99.0 61.0l-0.3 0.7M91.4 65.8l-0.1 0.7M-0.4 20.4l0.1 0.5M7.0 20.1l-0.8 1.2M4.0 14.2l-1.4 1.7M18.1 46.9l-1.6 1.7M90.9 7.5l-1.1 0.0M90.0 11.0l-0.1 0.1M114.4 38.6l-0.2 1.0M117.4 42.0l-1.3 0.6M75.8 59.7l-1.0 0.3M73.4 57.0l1.4 0.1M117.9 4.1l0.9 0.6M14.3 -1.3l-0.9 2.1M114.6 12.7l-1.7 1.3M112.2 13.7l-0.6 1.1M119.4 6.2l0.3 0.9M112.4 3.2l0.4 0.1M37.4 34.0l-1.6 1.3M34.9 36.3l0.5 0.2M38.9 38.1l-1.5 1.3M78.2 60.0l-0.4 1.1M40.4 89.8l0.5 0.0M40.3 96.0l-0.2 0.0M115.3 40.2l-0.8 0.8M116.4 45.8l-2.1 0.2M31.9 27.2l-1.6 0.6M40.4 27.6l0.3 1.1M32.2 29.9l0.9 1.5M34.5 28.0l-0.2 0.2M37.8 25.9l0.1 0.0M46.1 48.7l0.0 2.2M39.5 39.9l0.6 0.2M103.4 17.3l1.5 1.6M30.8 72.8l-0.4 0.2M54.2 49.6l1.4 1.9M50.7 48.2l-0.2 0.1M41.0 73.6l0.4 0.2M41.0 71.9l0.0 0.3M42.2 73.5l1.6 0.6M45.5 71.9l-0.3 1.4M67.3 30.2l-1.0 0.0M19.0 26.8l0.6 0.0M104.5 74.8l-1.4 1.9M100.6 73.0l-0.4 0.2M81.6 5.2l-1.0 0.5M78.7 5.6l0.3 0.5M78.5 5.3l0.1 2.3M79.1 7.9l-0.7 0.2M6.4 88.6l0.1 0.3M14.8 86.2l-0.7 1.4M8.1 83.8l-0.5 0.9M1.2 71.1l1.5 1.2M7.8 74.7l-0.5 2.0M8.9 73.7l-0.6 0.1M15.9 54.5l0.5 1.9M15.4 54.9l0.1 0.6M74.3 87.9l-2.3 0.3M73.2 90.5l0.5 0.7M67.8 33.0l-0.8 0.0M116.4 2.7l0.3 0.1M120.5 2.6l-0.5 1.7M120.6 85.8l0.3 0.3M117.4 59.2l-1.3 0.2M90.0 20.9l-1.3 1.7M9.5 61.6l0.1 0.1M11.9 55.9l0.4 2.2M16.0 59.8l0.6 1.0M14.6 60.5l-2.3 0.2M32.2 76.2l0.0 0.0M29.6 71.5l-0.1 0.6M29.8 67.5l-0.7 0.3M102.5 81.4l0.1 0.9M53.4 91.0l0.2 0.3M58.0 44.9l0.4 0.3M55.6 44.1l0.6 0.6M61.8 46.4l-0.5 2.0M120.4 23.7l-0.3 0.9M19.6 83.9l-1.5 0.7M28.7 8.0l-0.8 0.0M28.6 9.5l-0.1 0.1M20.7 40.2l1.2 0.5M22.2 33.3l0.9 0.4M107.1 27.8l1.1 0.9M107.8 21.6l-0.2 0.5M109.7 23.1l-0.1 0.4M49.8 12.1l1.4 1.3M66.5 48.5l-0.5 0.2M43.3 36.2l-0.6 1.8M61.0 16.2l-0.1 0.4M55.6 54.1l0.4 1.0M58.5 59.2l-0.9 2.1M118.4 80.5l0.0 0.8M117.8 77.8l-0.5 0.1M115.0 78.8l-0.1 0.7M102.7 73.5l0.3 0.7M95.4 83.6l-0.7 1.7M60.1 15.4l2.0 0.5M61.7 10.6l-1.7 0.0M59.8 14.5l2.0 1.2M57.6 10.0l-1.6 1.5M13.1 21.1l0.1 0.5M11.2 21.0l-0.7 0.8M13.3 27.5l-0.6 0.6M107.4 0.7l0.1 0.4M108.7 -2.3l1.2 1.9M108.5 4.6l-1.7 0.3M108.4 -0.0l0.0 0.1M88.8 61.3l0.1 0.0M88.0 66.1l-0.0 0.5M86.3 61.2l0.0 0.0M11.6 79.8l0.2 1.1M5.9 82.9l-0.8 1.8M4.1 80.6l1.2 0.8M22.6 69.3l-0.6 0.2M94.7 77.4l0.0 1.2M97.2 79.8l0.7 0.5M56.3 29.3l-1.1 0.9M113.8 50.3l-0.0 1.5M118.7 52.8l-0.0 1.9M124.2 53.6l-1.7 1.2M74.9 36.8l-1.9 0.8M11.2 81.9l-0.5 0.5M101.1 59.5l0.5 0.7M100.9 65.2l-0.5 0.9M101.3 62.6l0.1 0.1M97.9 55.4l-1.8 1.2M94.4 62.3l0.8 0.2M121.2 65.7l-1.1 0.4M68.2 30.3l-1.3 0.0M67.3 29.4l-2.1 0.2M116.3 22.2l-0.1 0.1M114.9 23.0l-1.5 1.6M114.1 19.8l1.7 1.5M6.9 16.6l0.6 1.4M5.8 24.6l-1.8 0.9M0.9 29.2l0.0 0.0M6.5 31.6l1.0 0.6M5.0 31.1l0.5 1.0M56.9 22.3l-2.0 0.4M56.6 19.8l0.7 0.2M95.9 2.6l0.5 2.3M109.7 87.9l1.3 1.8M109.4 86.8l0.2 0.5M109.5 82.7l0.1 0.6M105.4 80.6l0.5 1.2M102.6 78.9l0.2 1.2M47.7 60.6l1.9 0.2M45.7 59.5l1.0 0.7M40.8 46.2l-0.7 2.0M102.7 81.4l-0.9 1.7M97.4 82.0l-0.4 1.5M94.9 83.1l1.0 0.6M98.0 84.8l0.4 0.4M39.9 22.1l-0.6 0.9M1.8 57.0l1.8 0.7M94.3 39.4l-1.7 0.7M79.6 28.1l0.0 0.1M77.6 62.4l0.4 1.0M76.3 61.9l0.1 0.3M78.6 59.2l0.8 0.8M105.8 13.9l2.2 0.9M107.0 10.5l-0.1 0.0M101.0 12.1l0.3 0.7M92.2 65.8l-0.5 0.9M94.7 66.5l-0.8 1.0M89.5 65.6l-0.9 0.6M86.3 66.2l1.5 0.8M89.9 68.8l0.8 0.5M34.6 8.9l1.1 1.8M29.2 8.4l-0.1 0.0M34.7 13.4l0.3 0.7M33.7 7.1l-0.9 2.1M44.9 90.8l0.1 0.9M46.9 81.9l-1.0 0.0M47.6 91.4l-0.3 0.7M12.9 50.0l0.1 1.7M17.3 52.4l-1.4 1.0M3.0 9.6l1.5 0.5M6.7 32.5l-1.2 1.4M83.5 2.6l0.3 0.6M120.6 80.8l0.6 0.6M73.9 29.9l0.1 0.2M93.4 68.3l-0.3 0.1M43.4 19.3l-0.6 1.2M0.3 74.8l1.3 0.1M107.2 36.0l-0.0 0.0M117.2 36.1l-0.1 1.4M57.3 87.6l-0.5 2.0M106.7 10.0l1.6 0.2M41.9 37.3l-1.9 0.8M8.8 62.4l-1.0 1.5M110.0 75.1l0.4 1.6M119.1 79.3l-0.1 1.8M51.0 30.9l0.2 1.6M2.1 9.2l-2.0 1.1M77.9 27.9l-0.6 0.1M17.1 64.3l0.4 2.0M33.9 31.7l-0.0 1.5M28.2 32.2l-1.6 1.5M11.0 91.4l-1.1 0.8M59.9 15.0l0.1 1.4M20.5 20.1l-0.6 1.1M49.0 7.1l-0.2 0.5M102.6 20.2l0.4 1.3M91.1 3.5l-0.7 1.5M95.2 80.1l-1.1 0.2M75.6 5.6l1.2 0.2M85.5 59.9l-0.3 1.5M100.4 41.1l1.8 0.0M69.7 91.5l-0.4 0.5M17.4 16.9l1.4 0.9M120.9 64.9l-0.0 0.5M47.5 28.6l-0.5 1.7M11.4 91.0l1.3 0.6M31.3 61.3l0.4 0.2M15.5 7.2l1.1 0.4M67.8 40.8l-0.0 1.8M100.5 29.8l1.2 1.1M23.2 14.8l1.8 0.4M12.3 66.8l0.3 0.2M12.8 65.6l0.0 0.1M112.2 29.5l-1.7 0.1M118.4 24.4l1.8 0.7M25.3 32.0l-0.6 0.6M119.7 0.7l0.4 0.2M118.5 16.9l-0.0 0.0M61.2 54.5l-0.0 0.1M35.8 23.8l-1.2 1.0M40.3 34.0l0.5 1.0M80.2 22.9l0.4 1.0M110.6 35.8l0.2 1.9M56.6 5.7l-1.2 0.4M60.2 17.9l-0.1 1.0M112.6 11.3l-0.6 0.1M91.6 27.6l-1.2 1.2M13.1 56.3l2.2 0.0M37.7 2.8l-0.9 1.2"/><path stroke-width="2.6" d="M20.7 51.4l-1.2 1.9M62.0 26.4l-0.0 0.3M46.4 88.0l1.6 0.8M58.2 85.7l1.2 1.8M66.3 89.2l-1.3 0.4M117.7 11.0l0.1 0.1M41.4 56.4l-1.7 1.6M50.4 7.6l0.5 0.6M33.6 6.6l-1.2 0.3M36.4 0.8l-0.0 0.2M72.7 61.1l-0.6 0.2M74.6 53.0l-0.2 0.8M69.8 52.3l-0.4 2.2M57.9 88.2l0.0 0.0M76.3 25.8l-0.3 0.3M78.9 29.5l-1.3 0.9M63.3 71.2l-2.0 1.0M121.3 48.6l-0.1 0.1M44.1 51.2l-0.5 0.2M41.8 52.7l2.3 0.6M97.3 44.9l0.4 1.6M98.3 48.4l-2.1 0.3M94.6 45.9l0.0 0.2M20.5 92.3l0.9 1.3M21.3 88.2l-2.0 1.1M27.0 72.7l0.3 0.4M56.8 61.8l1.4 0.4M60.5 64.4l-0.8 0.7M39.9 1.6l0.4 1.4M59.3 74.1l0.4 0.1M53.2 73.8l1.3 1.3M52.1 75.0l0.5 0.3M124.8 53.6l0.3 0.8M122.5 73.3l1.4 1.2M124.9 73.9l0.7 0.4M42.7 70.4l-1.3 1.0M9.0 44.9l1.8 1.0M18.2 39.9l-1.3 1.5M13.9 35.7l0.5 2.0M91.1 13.1l2.1 0.6M18.6 30.3l0.9 0.3M81.2 62.6l-0.1 0.3M73.8 60.7l-0.1 0.9M73.8 60.9l0.4 0.2M111.7 1.9l1.2 0.7M110.4 11.2l0.2 1.6M35.6 38.4l0.9 2.1M74.9 61.6l-0.7 0.6M38.2 44.1l-0.5 1.3M103.8 23.3l0.2 0.5M30.1 71.7l1.6 0.5M42.1 72.3l0.4 0.1M104.5 75.9l-2.1 0.3M83.1 4.6l-0.0 0.1M11.3 85.1l1.4 1.1M7.9 77.7l1.1 1.0M15.5 55.9l-0.7 0.3M74.8 80.4l-1.0 0.9M72.8 84.6l-1.3 1.2M66.0 31.8l0.5 1.3M63.5 32.3l0.2 0.7M44.2 5.0l1.2 0.7M122.2 48.4l1.8 0.5M94.1 23.4l-0.6 1.1M86.8 24.2l0.5 1.2M113.5 51.7l1.5 0.2M34.1 73.6l0.1 0.1M32.0 65.3l-0.0 2.0M99.7 77.0l-1.5 0.3M48.0 87.8l-0.0 0.0M120.3 27.1l1.6 0.3M120.4 27.1l-0.9 0.2M18.2 86.8l1.5 0.5M39.5 72.5l-0.1 0.7M29.7 10.4l1.7 0.4M25.7 10.5l-0.1 0.0M22.1 32.9l1.1 1.6M105.0 28.1l1.4 0.2M107.4 25.7l0.6 0.2M106.9 32.2l0.5 0.4M51.1 2.9l-0.1 0.4M48.3 2.7l0.2 2.3M8.8 36.3l-0.6 1.9M9.2 36.3l-0.3 0.2M52.2 11.3l0.1 0.1M51.2 6.2l-0.3 1.2M59.8 13.0l2.1 0.5M108.9 50.8l0.2 0.8M109.2 48.5l-0.1 0.3M58.7 54.7l-1.3 1.0M100.7 73.5l0.0 0.3M92.6 81.2l0.6 0.6M83.7 93.6l1.1 0.6M58.8 8.3l-0.5 0.5M59.3 13.9l0.3 0.4M90.2 64.8l0.3 0.2M87.3 60.8l-1.7 1.7M1.4 78.8l0.2 0.6M1.5 86.6l0.1 1.7M100.3 60.8l-1.9 1.2M100.0 62.0l-1.7 1.7M66.0 33.3l-1.2 1.4M88.1 26.1l0.0 0.0M90.5 22.0l1.8 1.1M115.6 17.6l-1.5 1.1M115.9 22.3l0.4 1.6M114.5 19.8l-0.5 0.1M4.8 16.6l1.1 1.0M6.9 22.5l-0.2 0.1M1.6 27.7l1.3 1.4M61.4 14.9l-1.1 0.8M62.0 24.0l0.2 0.1M41.1 28.6l-0.1 0.7M46.6 35.5l-0.4 0.3M109.5 79.6l-0.4 1.7M49.7 63.5l-1.1 1.2M51.7 58.4l0.9 0.7M38.8 49.5l-1.1 0.4M44.1 47.2l2.2 0.2M40.7 43.2l0.3 0.0M99.7 85.7l-2.0 0.8M44.2 17.1l0.8 1.7M78.7 61.2l-0.0 0.0M45.6 85.4l0.1 0.5M48.6 86.6l0.5 1.0M24.9 55.3l-2.1 0.5M117.4 43.5l-0.6 2.2M88.7 79.7l1.3 1.1M54.3 3.4l-0.0 0.3M103.7 52.3l1.6 0.2M90.6 43.2l1.0 2.1M104.5 53.3l1.4 1.6M2.4 52.7l-0.1 0.2M14.5 57.7l-1.4 1.5M75.8 58.1l0.7 0.9M70.0 15.6l0.0 1.7M92.9 25.1l-0.2 0.2M76.0 69.4l1.7 0.3M56.4 33.5l-0.5 2.2M86.3 62.1l-1.3 1.9M46.8 70.8l-0.4 0.7M67.1 5.7l-0.8 0.4M97.2 89.2l-0.5 1.2M55.0 73.4l0.4 0.7M12.5 68.3l-0.8 1.9M34.0 71.4l0.7 0.4M63.3 62.7l0.0 0.0M116.6 17.8l-2.3 0.1M56.1 14.0l0.1 0.5M75.7 77.7l-1.6 0.4"/></g></defs>
<text font-size="45" font-weight="bold" x="1" y="45.8">a</text>
<line x1="130.6" y1="44.1" x2="130.6" y2="267.1" stroke="#000" stroke-width="2"/>
<line x1="123.6" y1="266.1" x2="348.5" y2="266.1" stroke="#000" stroke-width="2"/>
<text font-size="23.2" text-anchor="end" textLength="12" lengthAdjust="spacingAndGlyphs" x="110.8" y="275.1">0</text>
<line x1="123.6" y1="229.27" x2="130.6" y2="229.27" stroke="#000" stroke-width="2"/>
<text font-size="23.2" text-anchor="end" textLength="24" lengthAdjust="spacingAndGlyphs" x="110.8" y="238.27">20</text>
<line x1="123.6" y1="192.43" x2="130.6" y2="192.43" stroke="#000" stroke-width="2"/>
<text font-size="23.2" text-anchor="end" textLength="24" lengthAdjust="spacingAndGlyphs" x="110.8" y="201.43">40</text>
<line x1="123.6" y1="155.6" x2="130.6" y2="155.6" stroke="#000" stroke-width="2"/>
<text font-size="23.2" text-anchor="end" textLength="24" lengthAdjust="spacingAndGlyphs" x="110.8" y="164.6">60</text>
<line x1="123.6" y1="118.77" x2="130.6" y2="118.77" stroke="#000" stroke-width="2"/>
<text font-size="23.2" text-anchor="end" textLength="24" lengthAdjust="spacingAndGlyphs" x="110.8" y="127.77">80</text>
<line x1="123.6" y1="81.93" x2="130.6" y2="81.93" stroke="#000" stroke-width="2"/>
<text font-size="23.2" text-anchor="end" textLength="36" lengthAdjust="spacingAndGlyphs" x="110.8" y="90.93">100</text>
<line x1="123.6" y1="45.1" x2="130.6" y2="45.1" stroke="#000" stroke-width="2"/>
<text font-size="23.2" text-anchor="end" textLength="36" lengthAdjust="spacingAndGlyphs" x="110.8" y="54.1">120</text>
<line x1="148.7" y1="266.1" x2="148.7" y2="271.4" stroke="#000" stroke-width="2"/>
<line x1="184.7" y1="266.1" x2="184.7" y2="271.4" stroke="#000" stroke-width="2"/>
<line x1="220.7" y1="266.1" x2="220.7" y2="271.4" stroke="#000" stroke-width="2"/>
<line x1="256.7" y1="266.1" x2="256.7" y2="271.4" stroke="#000" stroke-width="2"/>
<line x1="292.7" y1="266.1" x2="292.7" y2="271.4" stroke="#000" stroke-width="2"/>
<line x1="328.7" y1="266.1" x2="328.7" y2="271.4" stroke="#000" stroke-width="2"/>
<line x1="347.5" y1="266.1" x2="347.5" y2="271.4" stroke="#000" stroke-width="2"/>
<text font-size="23.2" text-anchor="end" textLength="12" lengthAdjust="spacingAndGlyphs" transform="translate(158.2 280.6) rotate(-90)">0</text>
<text font-size="23.2" text-anchor="end" textLength="41.99" lengthAdjust="spacingAndGlyphs" transform="translate(194.2 280.6) rotate(-90)">0.25</text>
<text font-size="23.2" text-anchor="end" textLength="29.99" lengthAdjust="spacingAndGlyphs" transform="translate(230.2 280.6) rotate(-90)">0.5</text>
<text font-size="23.2" text-anchor="end" textLength="41.99" lengthAdjust="spacingAndGlyphs" transform="translate(266.2 280.6) rotate(-90)">0.75</text>
<text font-size="23.2" text-anchor="end" textLength="12" lengthAdjust="spacingAndGlyphs" transform="translate(302.2 280.6) rotate(-90)">1</text>
<text font-size="23.2" text-anchor="end" textLength="29.99" lengthAdjust="spacingAndGlyphs" transform="translate(338.2 280.6) rotate(-90)">1.5</text>
<path d="M184.7 92.06V108.64M178.7 92.06h12M178.7 108.64h12" fill="none" stroke="#000" stroke-width="1.6"/>
<path d="M292.7 117.48V125.58M286.7 117.48h12M286.7 125.58h12" fill="none" stroke="#000" stroke-width="1.6"/>
<path d="M328.7 116.19V133.5M322.7 116.19h12M322.7 133.5h12" fill="none" stroke="#000" stroke-width="1.6"/>
<path d="M148.7 81.93V96.67M142.7 81.93h12M142.7 96.67h12" fill="none" stroke="#000" stroke-width="1.6"/>
<path d="M184.7 116.37V139.58M178.7 116.37h12M178.7 139.58h12" fill="none" stroke="#000" stroke-width="1.6"/>
<path d="M220.7 176.78V208.09M214.7 176.78h12M214.7 208.09h12" fill="none" stroke="#000" stroke-width="1.6"/>
<path d="M256.7 193.35V212.51M250.7 193.35h12M250.7 212.51h12" fill="none" stroke="#000" stroke-width="1.6"/>
<path d="M292.7 201.09V215.09M286.7 201.09h12M286.7 215.09h12" fill="none" stroke="#000" stroke-width="1.6"/>
<polyline points="148.7,81.93 184.7,100.35 220.7,116 256.7,122.45 292.7,121.53 328.7,124.84" fill="none" stroke="#7f7f7f" stroke-width="2.7"/>
<circle cx="148.7" cy="81.93" r="7.3" fill="#7f7f7f"/>
<circle cx="184.7" cy="100.35" r="7.3" fill="#7f7f7f"/>
<circle cx="220.7" cy="116" r="7.3" fill="#7f7f7f"/>
<circle cx="256.7" cy="122.45" r="7.3" fill="#7f7f7f"/>
<circle cx="292.7" cy="121.53" r="7.3" fill="#7f7f7f"/>
<circle cx="328.7" cy="124.84" r="7.3" fill="#7f7f7f"/>
<polyline points="148.7,89.3 184.7,127.97 220.7,192.43 256.7,202.93 292.7,208.09 328.7,213.98" fill="none" stroke="#ff0000" stroke-width="3"/>
<circle cx="148.7" cy="89.3" r="6.8" fill="#fff" stroke="#ff0000" stroke-width="1"/>
<circle cx="184.7" cy="127.97" r="6.8" fill="#fff" stroke="#ff0000" stroke-width="1"/>
<circle cx="220.7" cy="192.43" r="6.8" fill="#fff" stroke="#ff0000" stroke-width="1"/>
<circle cx="256.7" cy="202.93" r="6.8" fill="#fff" stroke="#ff0000" stroke-width="1"/>
<circle cx="292.7" cy="208.09" r="6.8" fill="#fff" stroke="#ff0000" stroke-width="1"/>
<circle cx="328.7" cy="213.98" r="6.8" fill="#fff" stroke="#ff0000" stroke-width="1"/>
<line x1="141.8" y1="42.8" x2="197.8" y2="42.8" stroke="#7f7f7f" stroke-width="2.5"/>
<circle cx="169.3" cy="42.8" r="4.7" fill="#7f7f7f"/>
<line x1="141.8" y1="63.1" x2="197.8" y2="63.1" stroke="#ff0000" stroke-width="2.9"/>
<circle cx="169.3" cy="63.1" r="4.4" fill="#fff" stroke="#ff0000" stroke-width="1"/>
<text x="203" y="51.2" font-size="16.4" fill="#1a1a1a" word-spacing="3.5" textLength="50.5" lengthAdjust="spacingAndGlyphs">ML210</text>
<text x="203" y="71.9" font-size="16.4" fill="#1a1a1a" word-spacing="3.5" textLength="157.3" lengthAdjust="spacingAndGlyphs">ML210 + Darapladib</text>
<text font-size="26" text-anchor="middle" textLength="179" lengthAdjust="spacingAndGlyphs" transform="translate(66.9 155) rotate(-90)">Cell viability (%)</text>
<text font-size="26" text-anchor="middle" textLength="136" lengthAdjust="spacingAndGlyphs" x="239" y="354">ML210 (µM)</text>
<text font-size="31.2" text-anchor="middle" font-weight="bold" textLength="104" lengthAdjust="spacingAndGlyphs" transform="translate(30.8 157.8) rotate(-90)">Hs746T</text>
<line x1="486.9" y1="40.2" x2="486.9" y2="265.8" stroke="#000" stroke-width="2"/>
<line x1="479.9" y1="264.8" x2="708.2" y2="264.8" stroke="#000" stroke-width="2"/>
<text font-size="23.2" text-anchor="end" textLength="12" lengthAdjust="spacingAndGlyphs" x="467.1" y="273.8">0</text>
<line x1="479.9" y1="227.53" x2="486.9" y2="227.53" stroke="#000" stroke-width="2"/>
<text font-size="23.2" text-anchor="end" textLength="24" lengthAdjust="spacingAndGlyphs" x="467.1" y="236.53">20</text>
<line x1="479.9" y1="190.27" x2="486.9" y2="190.27" stroke="#000" stroke-width="2"/>
<text font-size="23.2" text-anchor="end" textLength="24" lengthAdjust="spacingAndGlyphs" x="467.1" y="199.27">40</text>
<line x1="479.9" y1="153" x2="486.9" y2="153" stroke="#000" stroke-width="2"/>
<text font-size="23.2" text-anchor="end" textLength="24" lengthAdjust="spacingAndGlyphs" x="467.1" y="162">60</text>
<line x1="479.9" y1="115.73" x2="486.9" y2="115.73" stroke="#000" stroke-width="2"/>
<text font-size="23.2" text-anchor="end" textLength="24" lengthAdjust="spacingAndGlyphs" x="467.1" y="124.73">80</text>
<line x1="479.9" y1="78.47" x2="486.9" y2="78.47" stroke="#000" stroke-width="2"/>
<text font-size="23.2" text-anchor="end" textLength="36" lengthAdjust="spacingAndGlyphs" x="467.1" y="87.47">100</text>
<line x1="479.9" y1="41.2" x2="486.9" y2="41.2" stroke="#000" stroke-width="2"/>
<text font-size="23.2" text-anchor="end" textLength="36" lengthAdjust="spacingAndGlyphs" x="467.1" y="50.2">120</text>
<line x1="504.8" y1="264.8" x2="504.8" y2="270.1" stroke="#000" stroke-width="2"/>
<line x1="541.48" y1="264.8" x2="541.48" y2="270.1" stroke="#000" stroke-width="2"/>
<line x1="578.16" y1="264.8" x2="578.16" y2="270.1" stroke="#000" stroke-width="2"/>
<line x1="614.84" y1="264.8" x2="614.84" y2="270.1" stroke="#000" stroke-width="2"/>
<line x1="651.52" y1="264.8" x2="651.52" y2="270.1" stroke="#000" stroke-width="2"/>
<line x1="688.2" y1="264.8" x2="688.2" y2="270.1" stroke="#000" stroke-width="2"/>
<line x1="707.2" y1="264.8" x2="707.2" y2="270.1" stroke="#000" stroke-width="2"/>
<text font-size="23.2" text-anchor="end" textLength="12" lengthAdjust="spacingAndGlyphs" transform="translate(514.3 279.3) rotate(-90)">0</text>
<text font-size="23.2" text-anchor="end" textLength="29.99" lengthAdjust="spacingAndGlyphs" transform="translate(550.98 279.3) rotate(-90)">0.1</text>
<text font-size="23.2" text-anchor="end" textLength="41.99" lengthAdjust="spacingAndGlyphs" transform="translate(587.66 279.3) rotate(-90)">0.25</text>
<text font-size="23.2" text-anchor="end" textLength="29.99" lengthAdjust="spacingAndGlyphs" transform="translate(624.34 279.3) rotate(-90)">0.5</text>
<text font-size="23.2" text-anchor="end" textLength="41.99" lengthAdjust="spacingAndGlyphs" transform="translate(661.02 279.3) rotate(-90)">0.75</text>
<text font-size="23.2" text-anchor="end" textLength="12" lengthAdjust="spacingAndGlyphs" transform="translate(697.7 279.3) rotate(-90)">1</text>
<path d="M578.16 87.22V98.4M572.16 87.22h12M572.16 98.4h12" fill="none" stroke="#000" stroke-width="1.6"/>
<path d="M614.84 95.42V111.82M608.84 95.42h12M608.84 111.82h12" fill="none" stroke="#000" stroke-width="1.6"/>
<path d="M651.52 96.91V124.49M645.52 96.91h12M645.52 124.49h12" fill="none" stroke="#000" stroke-width="1.6"/>
<path d="M688.2 103.44V127.29M682.2 103.44h12M682.2 127.29h12" fill="none" stroke="#000" stroke-width="1.6"/>
<path d="M578.16 117.6V147.78M572.16 117.6h12M572.16 147.78h12" fill="none" stroke="#000" stroke-width="1.6"/>
<path d="M614.84 152.81V176.66M608.84 152.81h12M608.84 176.66h12" fill="none" stroke="#000" stroke-width="1.6"/>
<path d="M651.52 175.55V205.36M645.52 175.55h12M645.52 205.36h12" fill="none" stroke="#000" stroke-width="1.6"/>
<path d="M688.2 194.18V214.68M682.2 194.18h12M682.2 214.68h12" fill="none" stroke="#000" stroke-width="1.6"/>
<polyline points="504.8,77.72 541.48,87.22 578.16,92.81 614.84,103.62 651.52,110.7 688.2,115.36" fill="none" stroke="#7f7f7f" stroke-width="2.7"/>
<circle cx="504.8" cy="77.72" r="7.3" fill="#7f7f7f"/>
<circle cx="541.48" cy="87.22" r="7.3" fill="#7f7f7f"/>
<circle cx="578.16" cy="92.81" r="7.3" fill="#7f7f7f"/>
<circle cx="614.84" cy="103.62" r="7.3" fill="#7f7f7f"/>
<circle cx="651.52" cy="110.7" r="7.3" fill="#7f7f7f"/>
<circle cx="688.2" cy="115.36" r="7.3" fill="#7f7f7f"/>
<polyline points="504.8,86.48 541.48,107.91 578.16,132.69 614.84,164.74 651.52,190.45 688.2,204.43" fill="none" stroke="#ff0000" stroke-width="3"/>
<circle cx="504.8" cy="86.48" r="6.8" fill="#fff" stroke="#ff0000" stroke-width="1"/>
<circle cx="541.48" cy="107.91" r="6.8" fill="#fff" stroke="#ff0000" stroke-width="1"/>
<circle cx="578.16" cy="132.69" r="6.8" fill="#fff" stroke="#ff0000" stroke-width="1"/>
<circle cx="614.84" cy="164.74" r="6.8" fill="#fff" stroke="#ff0000" stroke-width="1"/>
<circle cx="651.52" cy="190.45" r="6.8" fill="#fff" stroke="#ff0000" stroke-width="1"/>
<circle cx="688.2" cy="204.43" r="6.8" fill="#fff" stroke="#ff0000" stroke-width="1"/>
<line x1="498.4" y1="40" x2="554.4" y2="40" stroke="#7f7f7f" stroke-width="2.5"/>
<circle cx="525.9" cy="40" r="4.7" fill="#7f7f7f"/>
<line x1="498.4" y1="59.8" x2="554.4" y2="59.8" stroke="#ff0000" stroke-width="2.9"/>
<circle cx="525.9" cy="59.8" r="4.4" fill="#fff" stroke="#ff0000" stroke-width="1"/>
<text x="559.5" y="49.2" font-size="16.4" fill="#1a1a1a" word-spacing="3.5" textLength="68" lengthAdjust="spacingAndGlyphs">JKE-1674</text>
<text x="559.5" y="68.2" font-size="16.4" fill="#1a1a1a" word-spacing="3.5" textLength="174.4" lengthAdjust="spacingAndGlyphs">JKE-1674 + Darapladib</text>
<text font-size="26" text-anchor="middle" textLength="179" lengthAdjust="spacingAndGlyphs" transform="translate(422.6 146.4) rotate(-90)">Cell viability (%)</text>
<text font-size="26" text-anchor="middle" textLength="170" lengthAdjust="spacingAndGlyphs" x="596.8" y="353.4">JKE-1674 (µM)</text>
<line x1="130.6" y1="390.8" x2="130.6" y2="614.9" stroke="#000" stroke-width="2"/>
<line x1="123.6" y1="613.9" x2="342.2" y2="613.9" stroke="#000" stroke-width="2"/>
<text font-size="23.2" text-anchor="end" textLength="12" lengthAdjust="spacingAndGlyphs" x="110.8" y="622.9">0</text>
<line x1="123.6" y1="576.88" x2="130.6" y2="576.88" stroke="#000" stroke-width="2"/>
<text font-size="23.2" text-anchor="end" textLength="24" lengthAdjust="spacingAndGlyphs" x="110.8" y="585.88">20</text>
<line x1="123.6" y1="539.87" x2="130.6" y2="539.87" stroke="#000" stroke-width="2"/>
<text font-size="23.2" text-anchor="end" textLength="24" lengthAdjust="spacingAndGlyphs" x="110.8" y="548.87">40</text>
<line x1="123.6" y1="502.85" x2="130.6" y2="502.85" stroke="#000" stroke-width="2"/>
<text font-size="23.2" text-anchor="end" textLength="24" lengthAdjust="spacingAndGlyphs" x="110.8" y="511.85">60</text>
<line x1="123.6" y1="465.83" x2="130.6" y2="465.83" stroke="#000" stroke-width="2"/>
<text font-size="23.2" text-anchor="end" textLength="24" lengthAdjust="spacingAndGlyphs" x="110.8" y="474.83">80</text>
<line x1="123.6" y1="428.82" x2="130.6" y2="428.82" stroke="#000" stroke-width="2"/>
<text font-size="23.2" text-anchor="end" textLength="36" lengthAdjust="spacingAndGlyphs" x="110.8" y="437.82">100</text>
<line x1="123.6" y1="391.8" x2="130.6" y2="391.8" stroke="#000" stroke-width="2"/>
<text font-size="23.2" text-anchor="end" textLength="36" lengthAdjust="spacingAndGlyphs" x="110.8" y="400.8">120</text>
<line x1="147.7" y1="613.9" x2="147.7" y2="619.2" stroke="#000" stroke-width="2"/>
<line x1="182.84" y1="613.9" x2="182.84" y2="619.2" stroke="#000" stroke-width="2"/>
<line x1="217.98" y1="613.9" x2="217.98" y2="619.2" stroke="#000" stroke-width="2"/>
<line x1="253.12" y1="613.9" x2="253.12" y2="619.2" stroke="#000" stroke-width="2"/>
<line x1="288.26" y1="613.9" x2="288.26" y2="619.2" stroke="#000" stroke-width="2"/>
<line x1="323.4" y1="613.9" x2="323.4" y2="619.2" stroke="#000" stroke-width="2"/>
<line x1="341.2" y1="613.9" x2="341.2" y2="619.2" stroke="#000" stroke-width="2"/>
<text font-size="23.2" text-anchor="end" textLength="12" lengthAdjust="spacingAndGlyphs" transform="translate(157.2 628.4) rotate(-90)">0</text>
<text font-size="23.2" text-anchor="end" textLength="53.99" lengthAdjust="spacingAndGlyphs" transform="translate(192.34 628.4) rotate(-90)">0.125</text>
<text font-size="23.2" text-anchor="end" textLength="41.99" lengthAdjust="spacingAndGlyphs" transform="translate(227.48 628.4) rotate(-90)">0.25</text>
<text font-size="23.2" text-anchor="end" textLength="29.99" lengthAdjust="spacingAndGlyphs" transform="translate(262.62 628.4) rotate(-90)">0.5</text>
<text font-size="23.2" text-anchor="end" textLength="41.99" lengthAdjust="spacingAndGlyphs" transform="translate(297.76 628.4) rotate(-90)">0.75</text>
<text font-size="23.2" text-anchor="end" textLength="12" lengthAdjust="spacingAndGlyphs" transform="translate(332.9 628.4) rotate(-90)">1</text>
<path d="M182.84 431.04V444.36M176.84 431.04h12M176.84 444.36h12" fill="none" stroke="#000" stroke-width="1.6"/>
<path d="M288.26 465.46V482.12M282.26 465.46h12M282.26 482.12h12" fill="none" stroke="#000" stroke-width="1.6"/>
<path d="M182.84 443.99V465.46M176.84 443.99h12M176.84 465.46h12" fill="none" stroke="#000" stroke-width="1.6"/>
<path d="M217.98 501.92V514.14M211.98 501.92h12M211.98 514.14h12" fill="none" stroke="#000" stroke-width="1.6"/>
<polyline points="147.7,429.19 182.84,437.7 217.98,447.88 253.12,459.54 288.26,473.79 323.4,487.86" fill="none" stroke="#7f7f7f" stroke-width="2.7"/>
<circle cx="147.7" cy="429.19" r="7.3" fill="#7f7f7f"/>
<circle cx="182.84" cy="437.7" r="7.3" fill="#7f7f7f"/>
<circle cx="217.98" cy="447.88" r="7.3" fill="#7f7f7f"/>
<circle cx="253.12" cy="459.54" r="7.3" fill="#7f7f7f"/>
<circle cx="288.26" cy="473.79" r="7.3" fill="#7f7f7f"/>
<circle cx="323.4" cy="487.86" r="7.3" fill="#7f7f7f"/>
<polyline points="147.7,422.34 182.84,454.73 217.98,508.03 253.12,598.54 288.26,609.64 323.4,610.75" fill="none" stroke="#ff0000" stroke-width="3"/>
<circle cx="147.7" cy="422.34" r="6.8" fill="#fff" stroke="#ff0000" stroke-width="1"/>
<circle cx="182.84" cy="454.73" r="6.8" fill="#fff" stroke="#ff0000" stroke-width="1"/>
<circle cx="217.98" cy="508.03" r="6.8" fill="#fff" stroke="#ff0000" stroke-width="1"/>
<circle cx="253.12" cy="598.54" r="6.8" fill="#fff" stroke="#ff0000" stroke-width="1"/>
<circle cx="288.26" cy="609.64" r="6.8" fill="#fff" stroke="#ff0000" stroke-width="1"/>
<circle cx="323.4" cy="610.75" r="6.8" fill="#fff" stroke="#ff0000" stroke-width="1"/>
<line x1="145.1" y1="391.8" x2="201.1" y2="391.8" stroke="#7f7f7f" stroke-width="2.5"/>
<circle cx="172.9" cy="391.8" r="4.7" fill="#7f7f7f"/>
<line x1="145.1" y1="409.7" x2="201.1" y2="409.7" stroke="#ff0000" stroke-width="2.9"/>
<circle cx="172.9" cy="409.7" r="4.4" fill="#fff" stroke="#ff0000" stroke-width="1"/>
<text x="206.2" y="400.1" font-size="16.4" fill="#1a1a1a" word-spacing="3.5" textLength="50.5" lengthAdjust="spacingAndGlyphs">ML210</text>
<text x="206.2" y="419" font-size="16.4" fill="#1a1a1a" word-spacing="3.5" textLength="157.3" lengthAdjust="spacingAndGlyphs">ML210 + Darapladib</text>
<text font-size="26" text-anchor="middle" textLength="179" lengthAdjust="spacingAndGlyphs" transform="translate(63.9 495) rotate(-90)">Cell viability (%)</text>
<text font-size="26" text-anchor="middle" textLength="136" lengthAdjust="spacingAndGlyphs" x="236" y="710.1">ML210 (µM)</text>
<text font-size="31.2" text-anchor="middle" font-weight="bold" textLength="121" lengthAdjust="spacingAndGlyphs" transform="translate(28.9 508) rotate(-90)">SNU-484</text>
<line x1="485.7" y1="391.3" x2="485.7" y2="613.8" stroke="#000" stroke-width="2"/>
<line x1="478.7" y1="612.8" x2="701.3" y2="612.8" stroke="#000" stroke-width="2"/>
<text font-size="23.2" text-anchor="end" textLength="12" lengthAdjust="spacingAndGlyphs" x="465.9" y="621.8">0</text>
<line x1="478.7" y1="576.05" x2="485.7" y2="576.05" stroke="#000" stroke-width="2"/>
<text font-size="23.2" text-anchor="end" textLength="24" lengthAdjust="spacingAndGlyphs" x="465.9" y="585.05">20</text>
<line x1="478.7" y1="539.3" x2="485.7" y2="539.3" stroke="#000" stroke-width="2"/>
<text font-size="23.2" text-anchor="end" textLength="24" lengthAdjust="spacingAndGlyphs" x="465.9" y="548.3">40</text>
<line x1="478.7" y1="502.55" x2="485.7" y2="502.55" stroke="#000" stroke-width="2"/>
<text font-size="23.2" text-anchor="end" textLength="24" lengthAdjust="spacingAndGlyphs" x="465.9" y="511.55">60</text>
<line x1="478.7" y1="465.8" x2="485.7" y2="465.8" stroke="#000" stroke-width="2"/>
<text font-size="23.2" text-anchor="end" textLength="24" lengthAdjust="spacingAndGlyphs" x="465.9" y="474.8">80</text>
<line x1="478.7" y1="429.05" x2="485.7" y2="429.05" stroke="#000" stroke-width="2"/>
<text font-size="23.2" text-anchor="end" textLength="36" lengthAdjust="spacingAndGlyphs" x="465.9" y="438.05">100</text>
<line x1="478.7" y1="392.3" x2="485.7" y2="392.3" stroke="#000" stroke-width="2"/>
<text font-size="23.2" text-anchor="end" textLength="36" lengthAdjust="spacingAndGlyphs" x="465.9" y="401.3">120</text>
<line x1="503.2" y1="612.8" x2="503.2" y2="618.1" stroke="#000" stroke-width="2"/>
<line x1="539.06" y1="612.8" x2="539.06" y2="618.1" stroke="#000" stroke-width="2"/>
<line x1="574.92" y1="612.8" x2="574.92" y2="618.1" stroke="#000" stroke-width="2"/>
<line x1="610.78" y1="612.8" x2="610.78" y2="618.1" stroke="#000" stroke-width="2"/>
<line x1="646.64" y1="612.8" x2="646.64" y2="618.1" stroke="#000" stroke-width="2"/>
<line x1="682.5" y1="612.8" x2="682.5" y2="618.1" stroke="#000" stroke-width="2"/>
<line x1="700.3" y1="612.8" x2="700.3" y2="618.1" stroke="#000" stroke-width="2"/>
<text font-size="23.2" text-anchor="end" textLength="12" lengthAdjust="spacingAndGlyphs" transform="translate(512.7 627.3) rotate(-90)">0</text>
<text font-size="23.2" text-anchor="end" textLength="29.99" lengthAdjust="spacingAndGlyphs" transform="translate(548.56 627.3) rotate(-90)">0.5</text>
<text font-size="23.2" text-anchor="end" textLength="41.99" lengthAdjust="spacingAndGlyphs" transform="translate(584.42 627.3) rotate(-90)">0.75</text>
<text font-size="23.2" text-anchor="end" textLength="12" lengthAdjust="spacingAndGlyphs" transform="translate(620.28 627.3) rotate(-90)">1</text>
<text font-size="23.2" text-anchor="end" textLength="29.99" lengthAdjust="spacingAndGlyphs" transform="translate(656.14 627.3) rotate(-90)">1.5</text>
<text font-size="23.2" text-anchor="end" textLength="12" lengthAdjust="spacingAndGlyphs" transform="translate(692 627.3) rotate(-90)">2</text>
<path d="M574.92 463.78V471.13M568.92 463.78h12M568.92 471.13h12" fill="none" stroke="#000" stroke-width="1.6"/>
<path d="M610.78 472.23V495.75M604.78 472.23h12M604.78 495.75h12" fill="none" stroke="#000" stroke-width="1.6"/>
<path d="M646.64 509.72V525.89M640.64 509.72h12M640.64 525.89h12" fill="none" stroke="#000" stroke-width="1.6"/>
<path d="M682.5 522.21V539.85M676.5 522.21h12M676.5 539.85h12" fill="none" stroke="#000" stroke-width="1.6"/>
<path d="M539.06 466.17V483.07M533.06 466.17h12M533.06 483.07h12" fill="none" stroke="#000" stroke-width="1.6"/>
<path d="M574.92 541.69V559.33M568.92 541.69h12M568.92 559.33h12" fill="none" stroke="#000" stroke-width="1.6"/>
<path d="M610.78 577.89V592.59M604.78 577.89h12M604.78 592.59h12" fill="none" stroke="#000" stroke-width="1.6"/>
<polyline points="503.2,428.68 539.06,450.92 574.92,467.45 610.78,483.99 646.64,517.8 682.5,531.03" fill="none" stroke="#7f7f7f" stroke-width="2.7"/>
<circle cx="503.2" cy="428.68" r="7.3" fill="#7f7f7f"/>
<circle cx="539.06" cy="450.92" r="7.3" fill="#7f7f7f"/>
<circle cx="574.92" cy="467.45" r="7.3" fill="#7f7f7f"/>
<circle cx="610.78" cy="483.99" r="7.3" fill="#7f7f7f"/>
<circle cx="646.64" cy="517.8" r="7.3" fill="#7f7f7f"/>
<circle cx="682.5" cy="531.03" r="7.3" fill="#7f7f7f"/>
<polyline points="503.2,435.11 539.06,474.62 574.92,550.51 610.78,585.24 646.64,589.83 682.5,603.06" fill="none" stroke="#ff0000" stroke-width="3"/>
<circle cx="503.2" cy="435.11" r="6.8" fill="#fff" stroke="#ff0000" stroke-width="1"/>
<circle cx="539.06" cy="474.62" r="6.8" fill="#fff" stroke="#ff0000" stroke-width="1"/>
<circle cx="574.92" cy="550.51" r="6.8" fill="#fff" stroke="#ff0000" stroke-width="1"/>
<circle cx="610.78" cy="585.24" r="6.8" fill="#fff" stroke="#ff0000" stroke-width="1"/>
<circle cx="646.64" cy="589.83" r="6.8" fill="#fff" stroke="#ff0000" stroke-width="1"/>
<circle cx="682.5" cy="603.06" r="6.8" fill="#fff" stroke="#ff0000" stroke-width="1"/>
<line x1="497.1" y1="391.8" x2="553.1" y2="391.8" stroke="#7f7f7f" stroke-width="2.5"/>
<circle cx="524.9" cy="391.8" r="4.7" fill="#7f7f7f"/>
<line x1="497.1" y1="408.4" x2="553.1" y2="408.4" stroke="#ff0000" stroke-width="2.9"/>
<circle cx="524.9" cy="408.4" r="4.4" fill="#fff" stroke="#ff0000" stroke-width="1"/>
<text x="558.2" y="400.1" font-size="16.4" fill="#1a1a1a" word-spacing="3.5" textLength="68" lengthAdjust="spacingAndGlyphs">JKE-1674</text>
<text x="558.2" y="418" font-size="16.4" fill="#1a1a1a" word-spacing="3.5" textLength="174.4" lengthAdjust="spacingAndGlyphs">JKE-1674 + Darapladib</text>
<text font-size="26" text-anchor="middle" textLength="179" lengthAdjust="spacingAndGlyphs" transform="translate(419.7 496) rotate(-90)">Cell viability (%)</text>
<text font-size="26" text-anchor="middle" textLength="170" lengthAdjust="spacingAndGlyphs" x="590.4" y="706.3">JKE-1674 (µM)</text>
<text font-size="45" font-weight="bold" x="763" y="45.6">b</text>
<line x1="886.8" y1="33.5" x2="886.8" y2="257.6" stroke="#000" stroke-width="2.6"/>
<line x1="876.8" y1="257.6" x2="1129.4" y2="257.6" stroke="#000" stroke-width="2.6"/>
<text font-size="23" text-anchor="end" textLength="11.77" lengthAdjust="spacingAndGlyphs" x="874.8" y="264.9">0</text>
<line x1="876.8" y1="220.45" x2="886.8" y2="220.45" stroke="#000" stroke-width="2.6"/>
<text font-size="23" text-anchor="end" textLength="23.54" lengthAdjust="spacingAndGlyphs" x="874.8" y="227.75">20</text>
<line x1="876.8" y1="183.3" x2="886.8" y2="183.3" stroke="#000" stroke-width="2.6"/>
<text font-size="23" text-anchor="end" textLength="23.54" lengthAdjust="spacingAndGlyphs" x="874.8" y="190.6">40</text>
<line x1="876.8" y1="146.15" x2="886.8" y2="146.15" stroke="#000" stroke-width="2.6"/>
<text font-size="23" text-anchor="end" textLength="23.54" lengthAdjust="spacingAndGlyphs" x="874.8" y="153.45">60</text>
<line x1="876.8" y1="109" x2="886.8" y2="109" stroke="#000" stroke-width="2.6"/>
<text font-size="23" text-anchor="end" textLength="23.54" lengthAdjust="spacingAndGlyphs" x="874.8" y="116.3">80</text>
<line x1="876.8" y1="71.85" x2="886.8" y2="71.85" stroke="#000" stroke-width="2.6"/>
<text font-size="23" text-anchor="end" textLength="35.31" lengthAdjust="spacingAndGlyphs" x="874.8" y="79.15">100</text>
<line x1="876.8" y1="34.7" x2="886.8" y2="34.7" stroke="#000" stroke-width="2.6"/>
<text font-size="23" text-anchor="end" textLength="35.31" lengthAdjust="spacingAndGlyphs" x="874.8" y="42">120</text>
<line x1="912.2" y1="257.6" x2="912.2" y2="266.6" stroke="#000" stroke-width="2.6"/>
<rect x="900.45" y="73.65" width="23.5" height="183.95" fill="#fff" stroke="#000" stroke-width="2.3"/>
<path d="M904.2 68.14l3.5 6.3h-7z"/>
<path d="M909.2 68.14l3.5 6.3h-7z"/>
<path d="M915.2 68.14l3.5 6.3h-7z"/>
<path d="M920.2 68.14l3.5 6.3h-7z"/>
<line x1="950.28" y1="257.6" x2="950.28" y2="266.6" stroke="#000" stroke-width="2.6"/>
<rect x="938.53" y="137.73" width="23.5" height="119.87" fill="#fff" stroke="#000" stroke-width="2.3"/>
<path d="M950.28 127.57V147.08M944.78 127.57h11M944.78 147.08h11" fill="none" stroke="#000" stroke-width="1.2"/>
<path d="M944.28 125.35l3.5 6.3h-7z"/>
<path d="M956.28 125.35l3.5 6.3h-7z"/>
<path d="M944.28 143l3.5 6.3h-7z"/>
<path d="M956.28 143l3.5 6.3h-7z"/>
<line x1="988.36" y1="257.6" x2="988.36" y2="266.6" stroke="#000" stroke-width="2.6"/>
<rect x="976.61" y="94.45" width="23.5" height="163.15" fill="#fff" stroke="#000" stroke-width="2.3"/>
<path d="M988.36 91.35V96M982.86 91.35h11M982.86 96h11" fill="none" stroke="#000" stroke-width="1.2"/>
<path d="M979.36 87.27l3.5 6.3h-7z"/>
<path d="M985.36 87.27l3.5 6.3h-7z"/>
<path d="M991.36 90.99l3.5 6.3h-7z"/>
<path d="M997.36 90.99l3.5 6.3h-7z"/>
<line x1="1026.44" y1="257.6" x2="1026.44" y2="266.6" stroke="#000" stroke-width="2.6"/>
<rect x="1014.69" y="101.88" width="23.5" height="155.72" fill="#fff" stroke="#000" stroke-width="2.3"/>
<path d="M1026.44 84.3V117.92M1020.94 84.3h11M1020.94 117.92h11" fill="none" stroke="#000" stroke-width="1.2"/>
<path d="M1020.44 82.63l3.5 6.3h-7z"/>
<path d="M1033.44 83.56l3.5 6.3h-7z"/>
<path d="M1020.44 108.64l3.5 6.3h-7z"/>
<path d="M1033.44 115.14l3.5 6.3h-7z"/>
<line x1="1064.52" y1="257.6" x2="1064.52" y2="266.6" stroke="#000" stroke-width="2.6"/>
<rect x="1052.77" y="219.46" width="23.5" height="38.14" fill="#fff" stroke="#000" stroke-width="2.3"/>
<path d="M1064.52 215.81V221.38M1059.02 215.81h11M1059.02 221.38h11" fill="none" stroke="#000" stroke-width="1.2"/>
<path d="M1055.52 212.66l3.5 6.3h-7z"/>
<path d="M1061.52 212.66l3.5 6.3h-7z"/>
<path d="M1067.52 217.3l3.5 6.3h-7z"/>
<path d="M1073.52 218.23l3.5 6.3h-7z"/>
<line x1="1102.6" y1="257.6" x2="1102.6" y2="266.6" stroke="#000" stroke-width="2.6"/>
<rect x="1090.85" y="116.93" width="23.5" height="140.67" fill="#fff" stroke="#000" stroke-width="2.3"/>
<path d="M1102.6 103.06V129.8M1097.1 103.06h11M1097.1 129.8h11" fill="none" stroke="#000" stroke-width="1.2"/>
<path d="M1096.6 99.35l3.5 6.3h-7z"/>
<path d="M1109.6 106.78l3.5 6.3h-7z"/>
<path d="M1096.6 122.57l3.5 6.3h-7z"/>
<path d="M1109.6 127.21l3.5 6.3h-7z"/>
<path d="M951.9 105.7V42H1063.2V192.7" fill="none" stroke="#000" stroke-width="1.5"/>
<path d="M1070.3 192.7V42H1107.2V82.8" fill="none" stroke="#000" stroke-width="1.5"/>
<text x="967.2" y="30.6" font-size="14.5" stroke="#000" stroke-width="0.7" stroke-linejoin="round" word-spacing="2.6" textLength="71.6" lengthAdjust="spacingAndGlyphs"><tspan font-style="italic">p</tspan> &lt; 0.0001</text>
<text x="1071.3" y="30.6" font-size="14.5" stroke="#000" stroke-width="0.7" stroke-linejoin="round" word-spacing="2.6" textLength="71.6" lengthAdjust="spacingAndGlyphs"><tspan font-style="italic">p</tspan> = 0.0002</text>
<text font-size="22.2" text-anchor="end" x="884.8" y="294">ML210</text>
<text font-size="22.2" text-anchor="end" x="884.8" y="323.4">Darapladib</text>
<text font-size="22.2" text-anchor="end" x="884.8" y="350.9">Fer-1</text>
<path d="M911.3 292.2h8.4" fill="none" stroke="#000" stroke-width="2.4"/>
<path d="M946.5 292.2h14.4M953.7 285v14.4" fill="none" stroke="#000" stroke-width="2.3"/>
<path d="M984.2 292.2h14.4M991.4 285v14.4" fill="none" stroke="#000" stroke-width="2.3"/>
<path d="M1025.8 292.2h8.4" fill="none" stroke="#000" stroke-width="2.4"/>
<path d="M1059.3 292.2h14.4M1066.5 285v14.4" fill="none" stroke="#000" stroke-width="2.3"/>
<path d="M1097.5 292.2h14.4M1104.7 285v14.4" fill="none" stroke="#000" stroke-width="2.3"/>
<path d="M911.3 318.8h8.4" fill="none" stroke="#000" stroke-width="2.4"/>
<path d="M949.5 318.8h8.4" fill="none" stroke="#000" stroke-width="2.4"/>
<path d="M987.2 318.8h8.4" fill="none" stroke="#000" stroke-width="2.4"/>
<path d="M1022.8 318.8h14.4M1030 311.6v14.4" fill="none" stroke="#000" stroke-width="2.3"/>
<path d="M1059.3 318.8h14.4M1066.5 311.6v14.4" fill="none" stroke="#000" stroke-width="2.3"/>
<path d="M1097.5 318.8h14.4M1104.7 311.6v14.4" fill="none" stroke="#000" stroke-width="2.3"/>
<path d="M911.3 344.5h8.4" fill="none" stroke="#000" stroke-width="2.4"/>
<path d="M949.5 344.5h8.4" fill="none" stroke="#000" stroke-width="2.4"/>
<path d="M984.2 344.5h14.4M991.4 337.3v14.4" fill="none" stroke="#000" stroke-width="2.3"/>
<path d="M1025.8 344.5h8.4" fill="none" stroke="#000" stroke-width="2.4"/>
<path d="M1062.3 344.5h8.4" fill="none" stroke="#000" stroke-width="2.4"/>
<path d="M1097.5 344.5h14.4M1104.7 337.3v14.4" fill="none" stroke="#000" stroke-width="2.3"/>
<text font-size="28.3" text-anchor="middle" textLength="191" lengthAdjust="spacingAndGlyphs" transform="translate(824.9 143.5) rotate(-90)">Cell viability (%)</text>
<text font-size="31" text-anchor="middle" font-weight="bold" textLength="104" lengthAdjust="spacingAndGlyphs" transform="translate(786.8 150.3) rotate(-90)">Hs746T</text>
<line x1="1269.6" y1="37.5" x2="1269.6" y2="261" stroke="#000" stroke-width="2.6"/>
<line x1="1259.6" y1="261" x2="1512.2" y2="261" stroke="#000" stroke-width="2.6"/>
<text font-size="23" text-anchor="end" textLength="11.77" lengthAdjust="spacingAndGlyphs" x="1257.6" y="268.3">0</text>
<line x1="1259.6" y1="223.95" x2="1269.6" y2="223.95" stroke="#000" stroke-width="2.6"/>
<text font-size="23" text-anchor="end" textLength="23.54" lengthAdjust="spacingAndGlyphs" x="1257.6" y="231.25">20</text>
<line x1="1259.6" y1="186.9" x2="1269.6" y2="186.9" stroke="#000" stroke-width="2.6"/>
<text font-size="23" text-anchor="end" textLength="23.54" lengthAdjust="spacingAndGlyphs" x="1257.6" y="194.2">40</text>
<line x1="1259.6" y1="149.85" x2="1269.6" y2="149.85" stroke="#000" stroke-width="2.6"/>
<text font-size="23" text-anchor="end" textLength="23.54" lengthAdjust="spacingAndGlyphs" x="1257.6" y="157.15">60</text>
<line x1="1259.6" y1="112.8" x2="1269.6" y2="112.8" stroke="#000" stroke-width="2.6"/>
<text font-size="23" text-anchor="end" textLength="23.54" lengthAdjust="spacingAndGlyphs" x="1257.6" y="120.1">80</text>
<line x1="1259.6" y1="75.75" x2="1269.6" y2="75.75" stroke="#000" stroke-width="2.6"/>
<text font-size="23" text-anchor="end" textLength="35.31" lengthAdjust="spacingAndGlyphs" x="1257.6" y="83.05">100</text>
<line x1="1259.6" y1="38.7" x2="1269.6" y2="38.7" stroke="#000" stroke-width="2.6"/>
<text font-size="23" text-anchor="end" textLength="35.31" lengthAdjust="spacingAndGlyphs" x="1257.6" y="46">120</text>
<line x1="1294.6" y1="261" x2="1294.6" y2="270" stroke="#000" stroke-width="2.6"/>
<rect x="1282.85" y="77.36" width="23.5" height="183.64" fill="#fff" stroke="#000" stroke-width="2.3"/>
<path d="M1286.6 72.04l3.5 6.3h-7z"/>
<path d="M1294.6 72.04l3.5 6.3h-7z"/>
<path d="M1302.6 72.04l3.5 6.3h-7z"/>
<line x1="1332.68" y1="261" x2="1332.68" y2="270" stroke="#000" stroke-width="2.6"/>
<rect x="1320.93" y="107.74" width="23.5" height="153.26" fill="#fff" stroke="#000" stroke-width="2.3"/>
<path d="M1332.68 104.46V109.09M1327.18 104.46h11M1327.18 109.09h11" fill="none" stroke="#000" stroke-width="1.2"/>
<path d="M1324.68 101.31l3.5 6.3h-7z"/>
<path d="M1332.68 105.02l3.5 6.3h-7z"/>
<path d="M1340.68 105.02l3.5 6.3h-7z"/>
<line x1="1370.76" y1="261" x2="1370.76" y2="270" stroke="#000" stroke-width="2.6"/>
<rect x="1359.01" y="97.18" width="23.5" height="163.82" fill="#fff" stroke="#000" stroke-width="2.3"/>
<path d="M1370.76 94.28V97.98M1365.26 94.28h11M1365.26 97.98h11" fill="none" stroke="#000" stroke-width="1.2"/>
<path d="M1362.76 91.12l3.5 6.3h-7z"/>
<path d="M1370.76 92.98l3.5 6.3h-7z"/>
<path d="M1378.76 93.9l3.5 6.3h-7z"/>
<line x1="1408.84" y1="261" x2="1408.84" y2="270" stroke="#000" stroke-width="2.6"/>
<rect x="1397.09" y="104.96" width="23.5" height="156.04" fill="#fff" stroke="#000" stroke-width="2.3"/>
<path d="M1408.84 97.05V109.09M1403.34 97.05h11M1403.34 109.09h11" fill="none" stroke="#000" stroke-width="1.2"/>
<path d="M1401.84 105.02l3.5 6.3h-7z"/>
<path d="M1408.84 93.9l3.5 6.3h-7z"/>
<path d="M1415.84 105.02l3.5 6.3h-7z"/>
<line x1="1446.92" y1="261" x2="1446.92" y2="270" stroke="#000" stroke-width="2.6"/>
<rect x="1435.17" y="184.44" width="23.5" height="76.56" fill="#fff" stroke="#000" stroke-width="2.3"/>
<path d="M1446.92 180.42V185.97M1441.42 180.42h11M1441.42 185.97h11" fill="none" stroke="#000" stroke-width="1.2"/>
<path d="M1438.92 178.19l3.5 6.3h-7z"/>
<path d="M1446.92 178.19l3.5 6.3h-7z"/>
<path d="M1454.92 182.82l3.5 6.3h-7z"/>
<line x1="1485" y1="261" x2="1485" y2="270" stroke="#000" stroke-width="2.6"/>
<rect x="1473.25" y="118.49" width="23.5" height="142.51" fill="#fff" stroke="#000" stroke-width="2.3"/>
<path d="M1485 112.8V121.14M1479.5 112.8h11M1479.5 121.14h11" fill="none" stroke="#000" stroke-width="1.2"/>
<path d="M1477 109.65l3.5 6.3h-7z"/>
<path d="M1485 117.06l3.5 6.3h-7z"/>
<path d="M1493 117.06l3.5 6.3h-7z"/>
<path d="M1327.7 88.6V42.5H1436.1V152" fill="none" stroke="#000" stroke-width="1.5"/>
<path d="M1442.2 152V42.5H1478.6V89.1" fill="none" stroke="#000" stroke-width="1.5"/>
<text x="1341.7" y="30.6" font-size="14.5" stroke="#000" stroke-width="0.7" stroke-linejoin="round" word-spacing="2.6" textLength="71.6" lengthAdjust="spacingAndGlyphs"><tspan font-style="italic">p</tspan> &lt; 0.0001</text>
<text x="1432.8" y="30.6" font-size="14.5" stroke="#000" stroke-width="0.7" stroke-linejoin="round" word-spacing="2.6" textLength="71.6" lengthAdjust="spacingAndGlyphs"><tspan font-style="italic">p</tspan> &lt; 0.0001</text>
<text font-size="22.2" text-anchor="end" x="1259.7" y="294.8">JKE-1674</text>
<text font-size="22.2" text-anchor="end" x="1259.7" y="321.6">Darapladib</text>
<text font-size="22.2" text-anchor="end" x="1259.7" y="353.4">Fer-1</text>
<path d="M1287.3 291.5h8.4" fill="none" stroke="#000" stroke-width="2.4"/>
<path d="M1323.3 291.5h14.4M1330.5 284.3v14.4" fill="none" stroke="#000" stroke-width="2.3"/>
<path d="M1360.8 291.5h14.4M1368 284.3v14.4" fill="none" stroke="#000" stroke-width="2.3"/>
<path d="M1402.8 291.5h8.4" fill="none" stroke="#000" stroke-width="2.4"/>
<path d="M1435.8 291.5h14.4M1443 284.3v14.4" fill="none" stroke="#000" stroke-width="2.3"/>
<path d="M1474.3 291.5h14.4M1481.5 284.3v14.4" fill="none" stroke="#000" stroke-width="2.3"/>
<path d="M1287.3 318.3h8.4" fill="none" stroke="#000" stroke-width="2.4"/>
<path d="M1326.3 318.3h8.4" fill="none" stroke="#000" stroke-width="2.4"/>
<path d="M1363.8 318.3h8.4" fill="none" stroke="#000" stroke-width="2.4"/>
<path d="M1399.8 318.3h14.4M1407 311.1v14.4" fill="none" stroke="#000" stroke-width="2.3"/>
<path d="M1435.8 318.3h14.4M1443 311.1v14.4" fill="none" stroke="#000" stroke-width="2.3"/>
<path d="M1474.3 318.3h14.4M1481.5 311.1v14.4" fill="none" stroke="#000" stroke-width="2.3"/>
<path d="M1287.3 344.5h8.4" fill="none" stroke="#000" stroke-width="2.4"/>
<path d="M1326.3 344.5h8.4" fill="none" stroke="#000" stroke-width="2.4"/>
<path d="M1360.8 344.5h14.4M1368 337.3v14.4" fill="none" stroke="#000" stroke-width="2.3"/>
<path d="M1402.8 344.5h8.4" fill="none" stroke="#000" stroke-width="2.4"/>
<path d="M1438.8 344.5h8.4" fill="none" stroke="#000" stroke-width="2.4"/>
<path d="M1474.3 344.5h14.4M1481.5 337.3v14.4" fill="none" stroke="#000" stroke-width="2.3"/>
<text font-size="28.3" text-anchor="middle" textLength="191" lengthAdjust="spacingAndGlyphs" transform="translate(1208.2 146.4) rotate(-90)">Cell viability (%)</text>
<line x1="886.4" y1="393.4" x2="886.4" y2="617.7" stroke="#000" stroke-width="2.6"/>
<line x1="876.4" y1="617.7" x2="1129" y2="617.7" stroke="#000" stroke-width="2.6"/>
<text font-size="23" text-anchor="end" textLength="11.77" lengthAdjust="spacingAndGlyphs" x="874.4" y="625">0</text>
<line x1="876.4" y1="580.52" x2="886.4" y2="580.52" stroke="#000" stroke-width="2.6"/>
<text font-size="23" text-anchor="end" textLength="23.54" lengthAdjust="spacingAndGlyphs" x="874.4" y="587.82">20</text>
<line x1="876.4" y1="543.33" x2="886.4" y2="543.33" stroke="#000" stroke-width="2.6"/>
<text font-size="23" text-anchor="end" textLength="23.54" lengthAdjust="spacingAndGlyphs" x="874.4" y="550.63">40</text>
<line x1="876.4" y1="506.15" x2="886.4" y2="506.15" stroke="#000" stroke-width="2.6"/>
<text font-size="23" text-anchor="end" textLength="23.54" lengthAdjust="spacingAndGlyphs" x="874.4" y="513.45">60</text>
<line x1="876.4" y1="468.97" x2="886.4" y2="468.97" stroke="#000" stroke-width="2.6"/>
<text font-size="23" text-anchor="end" textLength="23.54" lengthAdjust="spacingAndGlyphs" x="874.4" y="476.27">80</text>
<line x1="876.4" y1="431.78" x2="886.4" y2="431.78" stroke="#000" stroke-width="2.6"/>
<text font-size="23" text-anchor="end" textLength="35.31" lengthAdjust="spacingAndGlyphs" x="874.4" y="439.08">100</text>
<line x1="876.4" y1="394.6" x2="886.4" y2="394.6" stroke="#000" stroke-width="2.6"/>
<text font-size="23" text-anchor="end" textLength="35.31" lengthAdjust="spacingAndGlyphs" x="874.4" y="401.9">120</text>
<line x1="911.2" y1="617.7" x2="911.2" y2="626.7" stroke="#000" stroke-width="2.6"/>
<rect x="899.45" y="433.77" width="23.5" height="183.93" fill="#fff" stroke="#000" stroke-width="2.3"/>
<path d="M903.2 428.08l3.5 6.3h-7z"/>
<path d="M908.2 428.08l3.5 6.3h-7z"/>
<path d="M914.2 428.08l3.5 6.3h-7z"/>
<path d="M919.2 428.08l3.5 6.3h-7z"/>
<line x1="949.24" y1="617.7" x2="949.24" y2="626.7" stroke="#000" stroke-width="2.6"/>
<rect x="937.49" y="491.59" width="23.5" height="126.11" fill="#fff" stroke="#000" stroke-width="2.3"/>
<path d="M949.24 488.49V493.14M943.74 488.49h11M943.74 493.14h11" fill="none" stroke="#000" stroke-width="1.2"/>
<path d="M940.24 485.34l3.5 6.3h-7z"/>
<path d="M946.24 486.27l3.5 6.3h-7z"/>
<path d="M952.24 487.2l3.5 6.3h-7z"/>
<path d="M958.24 489.06l3.5 6.3h-7z"/>
<line x1="987.28" y1="617.7" x2="987.28" y2="626.7" stroke="#000" stroke-width="2.6"/>
<rect x="975.53" y="465.75" width="23.5" height="151.95" fill="#fff" stroke="#000" stroke-width="2.3"/>
<path d="M987.28 459.67V469.9M981.78 459.67h11M981.78 469.9h11" fill="none" stroke="#000" stroke-width="1.2"/>
<path d="M980.28 462.1l3.5 6.3h-7z"/>
<path d="M987.28 456.52l3.5 6.3h-7z"/>
<path d="M990.28 463.03l3.5 6.3h-7z"/>
<path d="M995.28 466.75l3.5 6.3h-7z"/>
<line x1="1025.32" y1="617.7" x2="1025.32" y2="626.7" stroke="#000" stroke-width="2.6"/>
<rect x="1013.57" y="433.77" width="23.5" height="183.93" fill="#fff" stroke="#000" stroke-width="2.3"/>
<path d="M1025.32 426.21V438.29M1019.82 426.21h11M1019.82 438.29h11" fill="none" stroke="#000" stroke-width="1.2"/>
<path d="M1017.32 425.84l3.5 6.3h-7z"/>
<path d="M1025.32 424.92l3.5 6.3h-7z"/>
<path d="M1025.32 432.35l3.5 6.3h-7z"/>
<path d="M1033.32 435.14l3.5 6.3h-7z"/>
<line x1="1063.36" y1="617.7" x2="1063.36" y2="626.7" stroke="#000" stroke-width="2.6"/>
<rect x="1051.61" y="615.23" width="23.5" height="2.47" fill="#fff" stroke="#000" stroke-width="2.3"/>
<path d="M1054.36 611.2l3.5 6.3h-7z"/>
<path d="M1060.36 611.2l3.5 6.3h-7z"/>
<path d="M1066.36 611.2l3.5 6.3h-7z"/>
<path d="M1072.36 611.2l3.5 6.3h-7z"/>
<line x1="1101.4" y1="617.7" x2="1101.4" y2="626.7" stroke="#000" stroke-width="2.6"/>
<rect x="1089.65" y="456.45" width="23.5" height="161.25" fill="#fff" stroke="#000" stroke-width="2.3"/>
<path d="M1101.4 449.45V461.53M1095.9 449.45h11M1095.9 461.53h11" fill="none" stroke="#000" stroke-width="1.2"/>
<path d="M1093.4 451.87l3.5 6.3h-7z"/>
<path d="M1101.4 446.3l3.5 6.3h-7z"/>
<path d="M1101.4 456.52l3.5 6.3h-7z"/>
<path d="M1109.4 458.38l3.5 6.3h-7z"/>
<path d="M953.7 455.5V391.8H1061.1V578.5" fill="none" stroke="#000" stroke-width="1.5"/>
<path d="M1067 578.5V391.8H1105.2V422.4" fill="none" stroke="#000" stroke-width="1.5"/>
<text x="974.1" y="379.9" font-size="14.5" stroke="#000" stroke-width="0.7" stroke-linejoin="round" word-spacing="2.6" textLength="71.6" lengthAdjust="spacingAndGlyphs"><tspan font-style="italic">p</tspan> &lt; 0.0001</text>
<text x="1072.9" y="379.9" font-size="14.5" stroke="#000" stroke-width="0.7" stroke-linejoin="round" word-spacing="2.6" textLength="71.6" lengthAdjust="spacingAndGlyphs"><tspan font-style="italic">p</tspan> &lt; 0.0001</text>
<text font-size="22.2" text-anchor="end" x="885" y="643.9">ML210</text>
<text font-size="22.2" text-anchor="end" x="885" y="672.7">Darapladib</text>
<text font-size="22.2" text-anchor="end" x="885" y="702.5">Fer-1</text>
<path d="M906.8 638.8h8.4" fill="none" stroke="#000" stroke-width="2.4"/>
<path d="M942.3 638.8h14.4M949.5 631.6v14.4" fill="none" stroke="#000" stroke-width="2.3"/>
<path d="M979.8 638.8h14.4M987 631.6v14.4" fill="none" stroke="#000" stroke-width="2.3"/>
<path d="M1022.3 638.8h8.4" fill="none" stroke="#000" stroke-width="2.4"/>
<path d="M1055.8 638.8h14.4M1063 631.6v14.4" fill="none" stroke="#000" stroke-width="2.3"/>
<path d="M1093.8 638.8h14.4M1101 631.6v14.4" fill="none" stroke="#000" stroke-width="2.3"/>
<path d="M906.8 664.8h8.4" fill="none" stroke="#000" stroke-width="2.4"/>
<path d="M945.3 664.8h8.4" fill="none" stroke="#000" stroke-width="2.4"/>
<path d="M982.8 664.8h8.4" fill="none" stroke="#000" stroke-width="2.4"/>
<path d="M1019.3 664.8h14.4M1026.5 657.6v14.4" fill="none" stroke="#000" stroke-width="2.3"/>
<path d="M1055.8 664.8h14.4M1063 657.6v14.4" fill="none" stroke="#000" stroke-width="2.3"/>
<path d="M1093.8 664.8h14.4M1101 657.6v14.4" fill="none" stroke="#000" stroke-width="2.3"/>
<path d="M906.8 691h8.4" fill="none" stroke="#000" stroke-width="2.4"/>
<path d="M945.3 691h8.4" fill="none" stroke="#000" stroke-width="2.4"/>
<path d="M979.8 691h14.4M987 683.8v14.4" fill="none" stroke="#000" stroke-width="2.3"/>
<path d="M1022.3 691h8.4" fill="none" stroke="#000" stroke-width="2.4"/>
<path d="M1058.8 691h8.4" fill="none" stroke="#000" stroke-width="2.4"/>
<path d="M1093.8 691h14.4M1101 683.8v14.4" fill="none" stroke="#000" stroke-width="2.3"/>
<text font-size="28.3" text-anchor="middle" textLength="191" lengthAdjust="spacingAndGlyphs" transform="translate(824.7 503.3) rotate(-90)">Cell viability (%)</text>
<text font-size="31" text-anchor="middle" font-weight="bold" textLength="121" lengthAdjust="spacingAndGlyphs" transform="translate(783.3 510.3) rotate(-90)">SNU-484</text>
<line x1="1269" y1="393.8" x2="1269" y2="617.9" stroke="#000" stroke-width="2.6"/>
<line x1="1259" y1="617.9" x2="1511" y2="617.9" stroke="#000" stroke-width="2.6"/>
<text font-size="23" text-anchor="end" textLength="11.77" lengthAdjust="spacingAndGlyphs" x="1257" y="625.2">0</text>
<line x1="1259" y1="580.75" x2="1269" y2="580.75" stroke="#000" stroke-width="2.6"/>
<text font-size="23" text-anchor="end" textLength="23.54" lengthAdjust="spacingAndGlyphs" x="1257" y="588.05">20</text>
<line x1="1259" y1="543.6" x2="1269" y2="543.6" stroke="#000" stroke-width="2.6"/>
<text font-size="23" text-anchor="end" textLength="23.54" lengthAdjust="spacingAndGlyphs" x="1257" y="550.9">40</text>
<line x1="1259" y1="506.45" x2="1269" y2="506.45" stroke="#000" stroke-width="2.6"/>
<text font-size="23" text-anchor="end" textLength="23.54" lengthAdjust="spacingAndGlyphs" x="1257" y="513.75">60</text>
<line x1="1259" y1="469.3" x2="1269" y2="469.3" stroke="#000" stroke-width="2.6"/>
<text font-size="23" text-anchor="end" textLength="23.54" lengthAdjust="spacingAndGlyphs" x="1257" y="476.6">80</text>
<line x1="1259" y1="432.15" x2="1269" y2="432.15" stroke="#000" stroke-width="2.6"/>
<text font-size="23" text-anchor="end" textLength="35.31" lengthAdjust="spacingAndGlyphs" x="1257" y="439.45">100</text>
<line x1="1259" y1="395" x2="1269" y2="395" stroke="#000" stroke-width="2.6"/>
<text font-size="23" text-anchor="end" textLength="35.31" lengthAdjust="spacingAndGlyphs" x="1257" y="402.3">120</text>
<line x1="1293.8" y1="617.9" x2="1293.8" y2="626.9" stroke="#000" stroke-width="2.6"/>
<rect x="1282.05" y="434.14" width="23.5" height="183.76" fill="#fff" stroke="#000" stroke-width="2.3"/>
<path d="M1285.8 428.44l3.5 6.3h-7z"/>
<path d="M1293.8 428.44l3.5 6.3h-7z"/>
<path d="M1301.8 428.44l3.5 6.3h-7z"/>
<line x1="1331.88" y1="617.9" x2="1331.88" y2="626.9" stroke="#000" stroke-width="2.6"/>
<rect x="1320.13" y="479.83" width="23.5" height="138.07" fill="#fff" stroke="#000" stroke-width="2.3"/>
<path d="M1331.88 466.51V490.66M1326.38 466.51h11M1326.38 490.66h11" fill="none" stroke="#000" stroke-width="1.2"/>
<path d="M1325.88 480.08l3.5 6.3h-7z"/>
<path d="M1331.88 461.51l3.5 6.3h-7z"/>
<path d="M1338.88 484.73l3.5 6.3h-7z"/>
<line x1="1369.96" y1="617.9" x2="1369.96" y2="626.9" stroke="#000" stroke-width="2.6"/>
<rect x="1358.21" y="455.5" width="23.5" height="162.4" fill="#fff" stroke="#000" stroke-width="2.3"/>
<path d="M1369.96 450.73V458.15M1364.46 450.73h11M1364.46 458.15h11" fill="none" stroke="#000" stroke-width="1.2"/>
<path d="M1361.96 446.65l3.5 6.3h-7z"/>
<path d="M1369.96 452.22l3.5 6.3h-7z"/>
<path d="M1377.96 455l3.5 6.3h-7z"/>
<line x1="1408.04" y1="617.9" x2="1408.04" y2="626.9" stroke="#000" stroke-width="2.6"/>
<rect x="1396.29" y="449.92" width="23.5" height="167.98" fill="#fff" stroke="#000" stroke-width="2.3"/>
<path d="M1408.04 443.3V453.51M1402.54 443.3h11M1402.54 453.51h11" fill="none" stroke="#000" stroke-width="1.2"/>
<path d="M1401.04 444.79l3.5 6.3h-7z"/>
<path d="M1408.04 440.15l3.5 6.3h-7z"/>
<path d="M1415.04 451.29l3.5 6.3h-7z"/>
<line x1="1446.12" y1="617.9" x2="1446.12" y2="626.9" stroke="#000" stroke-width="2.6"/>
<rect x="1434.37" y="572.71" width="23.5" height="45.19" fill="#fff" stroke="#000" stroke-width="2.3"/>
<path d="M1446.12 568.68V574.25M1440.62 568.68h11M1440.62 574.25h11" fill="none" stroke="#000" stroke-width="1.2"/>
<path d="M1438.12 566.46l3.5 6.3h-7z"/>
<path d="M1446.12 566.46l3.5 6.3h-7z"/>
<path d="M1454.12 571.1l3.5 6.3h-7z"/>
<line x1="1484.2" y1="617.9" x2="1484.2" y2="626.9" stroke="#000" stroke-width="2.6"/>
<rect x="1472.45" y="452.15" width="23.5" height="165.75" fill="#fff" stroke="#000" stroke-width="2.3"/>
<path d="M1484.2 444.22V456.3M1478.7 444.22h11M1478.7 456.3h11" fill="none" stroke="#000" stroke-width="1.2"/>
<path d="M1477.2 450.36l3.5 6.3h-7z"/>
<path d="M1484.2 441.07l3.5 6.3h-7z"/>
<path d="M1491.2 451.29l3.5 6.3h-7z"/>
<path d="M1328.7 446.6V389.8H1435.6V527.3" fill="none" stroke="#000" stroke-width="1.5"/>
<path d="M1441.2 527.3V389.8H1478.1V430" fill="none" stroke="#000" stroke-width="1.5"/>
<text x="1345" y="380.4" font-size="14.5" stroke="#000" stroke-width="0.7" stroke-linejoin="round" word-spacing="2.6" textLength="71.6" lengthAdjust="spacingAndGlyphs"><tspan font-style="italic">p</tspan> = 0.0021</text>
<text x="1443" y="380.4" font-size="14.5" stroke="#000" stroke-width="0.7" stroke-linejoin="round" word-spacing="2.6" textLength="71.6" lengthAdjust="spacingAndGlyphs"><tspan font-style="italic">p</tspan> &lt; 0.0001</text>
<text font-size="22.2" text-anchor="end" x="1263.5" y="645.2">JKE-1674</text>
<text font-size="22.2" text-anchor="end" x="1263.5" y="672.7">Darapladib</text>
<text font-size="22.2" text-anchor="end" x="1263.5" y="699.2">Fer-1</text>
<path d="M1287.3 637.5h8.4" fill="none" stroke="#000" stroke-width="2.4"/>
<path d="M1323.3 637.5h14.4M1330.5 630.3v14.4" fill="none" stroke="#000" stroke-width="2.3"/>
<path d="M1360.8 637.5h14.4M1368 630.3v14.4" fill="none" stroke="#000" stroke-width="2.3"/>
<path d="M1402.8 637.5h8.4" fill="none" stroke="#000" stroke-width="2.4"/>
<path d="M1435.8 637.5h14.4M1443 630.3v14.4" fill="none" stroke="#000" stroke-width="2.3"/>
<path d="M1474.3 637.5h14.4M1481.5 630.3v14.4" fill="none" stroke="#000" stroke-width="2.3"/>
<path d="M1287.3 664.3h8.4" fill="none" stroke="#000" stroke-width="2.4"/>
<path d="M1326.3 664.3h8.4" fill="none" stroke="#000" stroke-width="2.4"/>
<path d="M1363.8 664.3h8.4" fill="none" stroke="#000" stroke-width="2.4"/>
<path d="M1399.8 664.3h14.4M1407 657.1v14.4" fill="none" stroke="#000" stroke-width="2.3"/>
<path d="M1435.8 664.3h14.4M1443 657.1v14.4" fill="none" stroke="#000" stroke-width="2.3"/>
<path d="M1474.3 664.3h14.4M1481.5 657.1v14.4" fill="none" stroke="#000" stroke-width="2.3"/>
<path d="M1287.3 690.5h8.4" fill="none" stroke="#000" stroke-width="2.4"/>
<path d="M1326.3 690.5h8.4" fill="none" stroke="#000" stroke-width="2.4"/>
<path d="M1360.8 690.5h14.4M1368 683.3v14.4" fill="none" stroke="#000" stroke-width="2.3"/>
<path d="M1402.8 690.5h8.4" fill="none" stroke="#000" stroke-width="2.4"/>
<path d="M1438.8 690.5h8.4" fill="none" stroke="#000" stroke-width="2.4"/>
<path d="M1474.3 690.5h14.4M1481.5 683.3v14.4" fill="none" stroke="#000" stroke-width="2.3"/>
<text font-size="28.3" text-anchor="middle" textLength="191" lengthAdjust="spacingAndGlyphs" transform="translate(1207.7 503.8) rotate(-90)">Cell viability (%)</text>
<text font-size="45" font-weight="bold" x="1556" y="39.2">c</text>
<rect x="1677.2" y="73.31" width="18.4" height="185.69" fill="#a5a5a9"/>
<rect x="1704" y="133.23" width="18.4" height="125.77" fill="#ff0000"/>
<rect x="1757.5" y="74.61" width="18.4" height="184.39" fill="#a5a5a9"/>
<rect x="1784.2" y="207.62" width="18.4" height="51.38" fill="#ff0000"/>
<rect x="1837.7" y="69.98" width="18.4" height="189.02" fill="#a5a5a9"/>
<rect x="1864.7" y="80.18" width="18.4" height="178.82" fill="#ff0000"/>
<line x1="1668.8" y1="35.2" x2="1668.8" y2="259" stroke="#000" stroke-width="2.4"/>
<line x1="1658.8" y1="259" x2="1892.5" y2="259" stroke="#000" stroke-width="2.4"/>
<text font-size="23" text-anchor="end" textLength="11.77" lengthAdjust="spacingAndGlyphs" x="1656.8" y="266.3">0</text>
<line x1="1658.8" y1="221.9" x2="1668.8" y2="221.9" stroke="#000" stroke-width="2.4"/>
<text font-size="23" text-anchor="end" textLength="23.54" lengthAdjust="spacingAndGlyphs" x="1656.8" y="229.2">20</text>
<line x1="1658.8" y1="184.8" x2="1668.8" y2="184.8" stroke="#000" stroke-width="2.4"/>
<text font-size="23" text-anchor="end" textLength="23.54" lengthAdjust="spacingAndGlyphs" x="1656.8" y="192.1">40</text>
<line x1="1658.8" y1="147.7" x2="1668.8" y2="147.7" stroke="#000" stroke-width="2.4"/>
<text font-size="23" text-anchor="end" textLength="23.54" lengthAdjust="spacingAndGlyphs" x="1656.8" y="155">60</text>
<line x1="1658.8" y1="110.6" x2="1668.8" y2="110.6" stroke="#000" stroke-width="2.4"/>
<text font-size="23" text-anchor="end" textLength="23.54" lengthAdjust="spacingAndGlyphs" x="1656.8" y="117.9">80</text>
<line x1="1658.8" y1="73.5" x2="1668.8" y2="73.5" stroke="#000" stroke-width="2.4"/>
<text font-size="23" text-anchor="end" textLength="35.31" lengthAdjust="spacingAndGlyphs" x="1656.8" y="80.8">100</text>
<line x1="1658.8" y1="36.4" x2="1668.8" y2="36.4" stroke="#000" stroke-width="2.4"/>
<text font-size="23" text-anchor="end" textLength="35.31" lengthAdjust="spacingAndGlyphs" x="1656.8" y="43.7">120</text>
<path d="M1681.4 69.79l3.5 6.3h-7z"/>
<path d="M1684.4 69.79l3.5 6.3h-7z"/>
<path d="M1688.4 69.79l3.5 6.3h-7z"/>
<path d="M1691.4 69.79l3.5 6.3h-7z"/>
<path d="M1713.2 126.37V140.28M1708.7 126.37h9M1708.7 140.28h9" fill="none" stroke="#000" stroke-width="1.2"/>
<path d="M1709.2 123.22l3.5 6.3h-7z"/>
<path d="M1718.2 128.78l3.5 6.3h-7z"/>
<path d="M1709.2 129.71l3.5 6.3h-7z"/>
<path d="M1718.2 138.98l3.5 6.3h-7z"/>
<path d="M1766.7 67.94V80.92M1762.2 67.94h9M1762.2 80.92h9" fill="none" stroke="#000" stroke-width="1.2"/>
<path d="M1761.7 65.71l3.5 6.3h-7z"/>
<path d="M1771.7 66.64l3.5 6.3h-7z"/>
<path d="M1761.7 73.13l3.5 6.3h-7z"/>
<path d="M1771.7 80.55l3.5 6.3h-7z"/>
<path d="M1793.4 202.42V210.77M1788.9 202.42h9M1788.9 210.77h9" fill="none" stroke="#000" stroke-width="1.2"/>
<path d="M1788.4 199.27l3.5 6.3h-7z"/>
<path d="M1791.4 201.13l3.5 6.3h-7z"/>
<path d="M1795.4 205.76l3.5 6.3h-7z"/>
<path d="M1798.4 208.55l3.5 6.3h-7z"/>
<path d="M1846.9 65.15V73.5M1842.4 65.15h9M1842.4 73.5h9" fill="none" stroke="#000" stroke-width="1.2"/>
<path d="M1841.9 64.78l3.5 6.3h-7z"/>
<path d="M1846.9 63.86l3.5 6.3h-7z"/>
<path d="M1846.9 69.42l3.5 6.3h-7z"/>
<path d="M1852.9 74.06l3.5 6.3h-7z"/>
<path d="M1873.9 70.72V90.19M1869.4 70.72h9M1869.4 90.19h9" fill="none" stroke="#000" stroke-width="1.2"/>
<path d="M1873.9 62.93l3.5 6.3h-7z"/>
<path d="M1869.9 77.77l3.5 6.3h-7z"/>
<path d="M1873.9 78.7l3.5 6.3h-7z"/>
<path d="M1877.9 87.97l3.5 6.3h-7z"/>
<path d="M1715.4 99.3V52.2H1791.8V187.2" fill="none" stroke="#000" stroke-width="1.5"/>
<path d="M1796.2 187.2V52.2H1870.8V58.6" fill="none" stroke="#000" stroke-width="1.5"/>
<text x="1721.5" y="40.8" font-size="14.5" stroke="#000" stroke-width="0.7" stroke-linejoin="round" word-spacing="2.6" textLength="71.6" lengthAdjust="spacingAndGlyphs"><tspan font-style="italic">p</tspan> &lt; 0.0001</text>
<text x="1799.5" y="40.8" font-size="14.5" stroke="#000" stroke-width="0.7" stroke-linejoin="round" word-spacing="2.6" textLength="71.6" lengthAdjust="spacingAndGlyphs"><tspan font-style="italic">p</tspan> &lt; 0.0001</text>
<text font-size="25" text-anchor="end" x="1660.5" y="296.7">Darapladib</text>
<text font-size="25" text-anchor="end" x="1660.5" y="327.3">Fer-1</text>
<path d="M1699 289.1h9.4" fill="none" stroke="#000" stroke-width="2.6"/>
<path d="M1776.2 291.6h16M1784.2 283.6v16" fill="none" stroke="#000" stroke-width="2.5"/>
<path d="M1857 287.8h16M1865 279.8v16" fill="none" stroke="#000" stroke-width="2.5"/>
<path d="M1699 318.6h9.4" fill="none" stroke="#000" stroke-width="2.6"/>
<path d="M1779.5 318.6h9.4" fill="none" stroke="#000" stroke-width="2.6"/>
<path d="M1857 317.5h16M1865 309.5v16" fill="none" stroke="#000" stroke-width="2.5"/>
<rect x="1906.2" y="134.5" width="10.3" height="10.3" fill="#a5a5a9"/>
<rect x="1906.2" y="156.6" width="10.3" height="10.3" fill="#ff0000"/>
<text x="1922.8" y="145.7" font-size="18.3" word-spacing="4.6" fill="#1a1a1a">+ Cys</text>
<text x="1925.8" y="167.8" font-size="18.3" word-spacing="4.3" fill="#1a1a1a">- Cys</text>
<text font-size="28.3" text-anchor="middle" textLength="191" lengthAdjust="spacingAndGlyphs" transform="translate(1606.4 144.5) rotate(-90)">Cell viability (%)</text>
<text font-size="31" text-anchor="middle" font-weight="bold" textLength="104" lengthAdjust="spacingAndGlyphs" transform="translate(1573.3 154.5) rotate(-90)">Hs746T</text>
<rect x="1677.2" y="435.08" width="18.4" height="185.52" fill="#a5a5a9"/>
<rect x="1704" y="468.26" width="18.4" height="152.34" fill="#ff0000"/>
<rect x="1757.5" y="428.04" width="18.4" height="192.56" fill="#a5a5a9"/>
<rect x="1784.2" y="573.53" width="18.4" height="47.07" fill="#ff0000"/>
<rect x="1837.7" y="429.34" width="18.4" height="191.26" fill="#a5a5a9"/>
<rect x="1864.7" y="435.08" width="18.4" height="185.52" fill="#ff0000"/>
<line x1="1668.8" y1="397" x2="1668.8" y2="620.6" stroke="#000" stroke-width="2.4"/>
<line x1="1658.8" y1="620.6" x2="1892.5" y2="620.6" stroke="#000" stroke-width="2.4"/>
<text font-size="23" text-anchor="end" textLength="11.77" lengthAdjust="spacingAndGlyphs" x="1656.8" y="627.9">0</text>
<line x1="1658.8" y1="583.53" x2="1668.8" y2="583.53" stroke="#000" stroke-width="2.4"/>
<text font-size="23" text-anchor="end" textLength="23.54" lengthAdjust="spacingAndGlyphs" x="1656.8" y="590.83">20</text>
<line x1="1658.8" y1="546.47" x2="1668.8" y2="546.47" stroke="#000" stroke-width="2.4"/>
<text font-size="23" text-anchor="end" textLength="23.54" lengthAdjust="spacingAndGlyphs" x="1656.8" y="553.77">40</text>
<line x1="1658.8" y1="509.4" x2="1668.8" y2="509.4" stroke="#000" stroke-width="2.4"/>
<text font-size="23" text-anchor="end" textLength="23.54" lengthAdjust="spacingAndGlyphs" x="1656.8" y="516.7">60</text>
<line x1="1658.8" y1="472.33" x2="1668.8" y2="472.33" stroke="#000" stroke-width="2.4"/>
<text font-size="23" text-anchor="end" textLength="23.54" lengthAdjust="spacingAndGlyphs" x="1656.8" y="479.63">80</text>
<line x1="1658.8" y1="435.27" x2="1668.8" y2="435.27" stroke="#000" stroke-width="2.4"/>
<text font-size="23" text-anchor="end" textLength="35.31" lengthAdjust="spacingAndGlyphs" x="1656.8" y="442.57">100</text>
<line x1="1658.8" y1="398.2" x2="1668.8" y2="398.2" stroke="#000" stroke-width="2.4"/>
<text font-size="23" text-anchor="end" textLength="35.31" lengthAdjust="spacingAndGlyphs" x="1656.8" y="405.5">120</text>
<path d="M1681.4 431.56l3.5 6.3h-7z"/>
<path d="M1684.4 431.56l3.5 6.3h-7z"/>
<path d="M1688.4 431.56l3.5 6.3h-7z"/>
<path d="M1691.4 431.56l3.5 6.3h-7z"/>
<path d="M1713.2 461.21V475.11M1708.7 461.21h9M1708.7 475.11h9" fill="none" stroke="#000" stroke-width="1.2"/>
<path d="M1709.2 458.06l3.5 6.3h-7z"/>
<path d="M1718.2 460.84l3.5 6.3h-7z"/>
<path d="M1709.2 468.26l3.5 6.3h-7z"/>
<path d="M1718.2 473.82l3.5 6.3h-7z"/>
<path d="M1766.7 424.15V432.49M1762.2 424.15h9M1762.2 432.49h9" fill="none" stroke="#000" stroke-width="1.2"/>
<path d="M1761.7 424.7l3.5 6.3h-7z"/>
<path d="M1766.7 418.22l3.5 6.3h-7z"/>
<path d="M1766.7 427.48l3.5 6.3h-7z"/>
<path d="M1771.7 430.26l3.5 6.3h-7z"/>
<path d="M1793.4 571.49V575.19M1788.9 571.49h9M1788.9 575.19h9" fill="none" stroke="#000" stroke-width="1.2"/>
<path d="M1788.4 568.34l3.5 6.3h-7z"/>
<path d="M1791.4 569.26l3.5 6.3h-7z"/>
<path d="M1795.4 571.12l3.5 6.3h-7z"/>
<path d="M1798.4 572.04l3.5 6.3h-7z"/>
<path d="M1846.9 426V433.41M1842.4 426h9M1842.4 433.41h9" fill="none" stroke="#000" stroke-width="1.2"/>
<path d="M1840.9 421.92l3.5 6.3h-7z"/>
<path d="M1844.9 426.56l3.5 6.3h-7z"/>
<path d="M1848.9 428.41l3.5 6.3h-7z"/>
<path d="M1852.9 431.19l3.5 6.3h-7z"/>
<path d="M1873.9 428.78V442.68M1869.4 428.78h9M1869.4 442.68h9" fill="none" stroke="#000" stroke-width="1.2"/>
<path d="M1869.9 425.63l3.5 6.3h-7z"/>
<path d="M1869.9 433.04l3.5 6.3h-7z"/>
<path d="M1877.9 432.12l3.5 6.3h-7z"/>
<path d="M1877.9 440.46l3.5 6.3h-7z"/>
<path d="M1715.4 439.5V400H1791.8V550.5" fill="none" stroke="#000" stroke-width="1.5"/>
<path d="M1796.2 550.5V400H1870.8V414.3" fill="none" stroke="#000" stroke-width="1.5"/>
<text x="1721.5" y="389.3" font-size="14.5" stroke="#000" stroke-width="0.7" stroke-linejoin="round" word-spacing="2.6" textLength="71.6" lengthAdjust="spacingAndGlyphs"><tspan font-style="italic">p</tspan> &lt; 0.0001</text>
<text x="1799.5" y="389.3" font-size="14.5" stroke="#000" stroke-width="0.7" stroke-linejoin="round" word-spacing="2.6" textLength="71.6" lengthAdjust="spacingAndGlyphs"><tspan font-style="italic">p</tspan> &lt; 0.0001</text>
<text font-size="25" text-anchor="end" x="1660.5" y="656.2">Darapladib</text>
<text font-size="25" text-anchor="end" x="1657.2" y="686.8">Fer-1</text>
<path d="M1696.5 649h9.4" fill="none" stroke="#000" stroke-width="2.6"/>
<path d="M1773.7 651h16M1781.7 643v16" fill="none" stroke="#000" stroke-width="2.5"/>
<path d="M1854.4 647.5h16M1862.4 639.5v16" fill="none" stroke="#000" stroke-width="2.5"/>
<path d="M1696.5 678.5h9.4" fill="none" stroke="#000" stroke-width="2.6"/>
<path d="M1777 678.5h9.4" fill="none" stroke="#000" stroke-width="2.6"/>
<path d="M1854.4 677h16M1862.4 669v16" fill="none" stroke="#000" stroke-width="2.5"/>
<rect x="1906.2" y="486.1" width="10.3" height="10.3" fill="#a5a5a9"/>
<rect x="1906.2" y="508.5" width="10.3" height="10.3" fill="#ff0000"/>
<text x="1922.8" y="497.3" font-size="18.3" word-spacing="4.6" fill="#1a1a1a">+ Cys</text>
<text x="1925.8" y="519.7" font-size="18.3" word-spacing="4.3" fill="#1a1a1a">- Cys</text>
<text font-size="28.3" text-anchor="middle" textLength="191" lengthAdjust="spacingAndGlyphs" transform="translate(1607.3 506.5) rotate(-90)">Cell viability (%)</text>
<text font-size="31" text-anchor="middle" font-weight="bold" textLength="121" lengthAdjust="spacingAndGlyphs" transform="translate(1571.6 519) rotate(-90)">SNU-484</text>
<text font-size="45" font-weight="bold" x="0" y="764.5">d</text>
<line x1="158.5" y1="780.6" x2="158.5" y2="1004.5" stroke="#000" stroke-width="2.6"/>
<line x1="148.5" y1="1004.5" x2="388" y2="1004.5" stroke="#000" stroke-width="2.6"/>
<text font-size="23" text-anchor="end" textLength="12.28" lengthAdjust="spacingAndGlyphs" x="146.5" y="1012.7">0</text>
<line x1="148.5" y1="959.96" x2="158.5" y2="959.96" stroke="#000" stroke-width="2.6"/>
<text font-size="23" text-anchor="end" textLength="24.56" lengthAdjust="spacingAndGlyphs" x="146.5" y="968.16">20</text>
<line x1="148.5" y1="915.42" x2="158.5" y2="915.42" stroke="#000" stroke-width="2.6"/>
<text font-size="23" text-anchor="end" textLength="24.56" lengthAdjust="spacingAndGlyphs" x="146.5" y="923.62">40</text>
<line x1="148.5" y1="870.88" x2="158.5" y2="870.88" stroke="#000" stroke-width="2.6"/>
<text font-size="23" text-anchor="end" textLength="24.56" lengthAdjust="spacingAndGlyphs" x="146.5" y="879.08">60</text>
<line x1="148.5" y1="826.34" x2="158.5" y2="826.34" stroke="#000" stroke-width="2.6"/>
<text font-size="23" text-anchor="end" textLength="24.56" lengthAdjust="spacingAndGlyphs" x="146.5" y="834.54">80</text>
<line x1="148.5" y1="781.8" x2="158.5" y2="781.8" stroke="#000" stroke-width="2.6"/>
<text font-size="23" text-anchor="end" textLength="36.84" lengthAdjust="spacingAndGlyphs" x="146.5" y="790">100</text>
<line x1="182.6" y1="1004.5" x2="182.6" y2="1013.5" stroke="#000" stroke-width="2.6"/>
<rect x="172" y="997.65" width="21.2" height="6.85" fill="#fff" stroke="#000" stroke-width="2.3"/>
<path d="M182.6 992.25V1000.49M177.1 992.25h11M177.1 1000.49h11" fill="none" stroke="#000" stroke-width="1.2"/>
<path d="M175.6 991.33l3.5 6.3h-7z"/>
<path d="M182.6 991.33l3.5 6.3h-7z"/>
<path d="M189.6 998.01l3.5 6.3h-7z"/>
<line x1="218.65" y1="1004.5" x2="218.65" y2="1013.5" stroke="#000" stroke-width="2.6"/>
<rect x="208.05" y="985.4" width="21.2" height="19.1" fill="#fff" stroke="#000" stroke-width="2.3"/>
<path d="M218.65 977.78V991.14M213.15 977.78h11M213.15 991.14h11" fill="none" stroke="#000" stroke-width="1.2"/>
<path d="M212.65 983.53l3.5 6.3h-7z"/>
<path d="M218.65 973.51l3.5 6.3h-7z"/>
<path d="M224.65 986.87l3.5 6.3h-7z"/>
<line x1="254.7" y1="1004.5" x2="254.7" y2="1013.5" stroke="#000" stroke-width="2.6"/>
<rect x="244.1" y="997.65" width="21.2" height="6.85" fill="#fff" stroke="#000" stroke-width="2.3"/>
<path d="M254.7 990.02V1002.72M249.2 990.02h11M249.2 1002.72h11" fill="none" stroke="#000" stroke-width="1.2"/>
<path d="M248.7 993.56l3.5 6.3h-7z"/>
<path d="M254.7 985.76l3.5 6.3h-7z"/>
<path d="M260.7 998.01l3.5 6.3h-7z"/>
<line x1="290.75" y1="1004.5" x2="290.75" y2="1013.5" stroke="#000" stroke-width="2.6"/>
<rect x="280.15" y="994.98" width="21.2" height="9.52" fill="#fff" stroke="#000" stroke-width="2.3"/>
<path d="M290.75 986.68V1000.49M285.25 986.68h11M285.25 1000.49h11" fill="none" stroke="#000" stroke-width="1.2"/>
<path d="M284.75 992.44l3.5 6.3h-7z"/>
<path d="M290.75 983.53l3.5 6.3h-7z"/>
<path d="M296.75 998.01l3.5 6.3h-7z"/>
<line x1="326.8" y1="1004.5" x2="326.8" y2="1013.5" stroke="#000" stroke-width="2.6"/>
<rect x="316.2" y="832.18" width="21.2" height="172.32" fill="#fff" stroke="#000" stroke-width="2.3"/>
<path d="M326.8 794.27V868.21M321.3 794.27h11M321.3 868.21h11" fill="none" stroke="#000" stroke-width="1.2"/>
<path d="M326.8 797.58l3.5 6.3h-7z"/>
<path d="M326.8 816.51l3.5 6.3h-7z"/>
<path d="M326.8 869.96l3.5 6.3h-7z"/>
<line x1="362.85" y1="1004.5" x2="362.85" y2="1013.5" stroke="#000" stroke-width="2.6"/>
<rect x="352.25" y="964.47" width="21.2" height="40.03" fill="#fff" stroke="#000" stroke-width="2.3"/>
<path d="M362.85 947.71V979.11M357.35 947.71h11M357.35 979.11h11" fill="none" stroke="#000" stroke-width="1.2"/>
<path d="M356.85 967.95l3.5 6.3h-7z"/>
<path d="M362.85 941.22l3.5 6.3h-7z"/>
<path d="M368.85 971.29l3.5 6.3h-7z"/>
<path d="M216.1 937.1V771H325.2V786.7" fill="none" stroke="#000" stroke-width="1.5"/>
<path d="M331.7 785.4V771H365.5V905.2" fill="none" stroke="#000" stroke-width="1.5"/>
<text x="239.9" y="761.9" font-size="14.5" stroke="#000" stroke-width="0.7" stroke-linejoin="round" word-spacing="2.6" textLength="71.6" lengthAdjust="spacingAndGlyphs"><tspan font-style="italic">p</tspan> = 0.0080</text>
<text x="332.2" y="761.9" font-size="14.5" stroke="#000" stroke-width="0.7" stroke-linejoin="round" word-spacing="2.6" textLength="71.6" lengthAdjust="spacingAndGlyphs"><tspan font-style="italic">p</tspan> = 0.0071</text>
<text font-size="24.7" text-anchor="end" x="137.6" y="1035.7">RSL3</text>
<text font-size="24.7" text-anchor="end" x="137.6" y="1062.7">Darapladib</text>
<text font-size="24.7" text-anchor="end" x="137.6" y="1089.6">Fer-1</text>
<path d="M173.7 1030h8.4" fill="none" stroke="#000" stroke-width="2.4"/>
<path d="M208.6 1030h14.4M215.8 1022.8v14.4" fill="none" stroke="#000" stroke-width="2.3"/>
<path d="M245.2 1030h14.4M252.4 1022.8v14.4" fill="none" stroke="#000" stroke-width="2.3"/>
<path d="M284.9 1030h8.4" fill="none" stroke="#000" stroke-width="2.4"/>
<path d="M321.1 1030h14.4M328.3 1022.8v14.4" fill="none" stroke="#000" stroke-width="2.3"/>
<path d="M356.9 1030h14.4M364.1 1022.8v14.4" fill="none" stroke="#000" stroke-width="2.3"/>
<path d="M173.7 1057.5h8.4" fill="none" stroke="#000" stroke-width="2.4"/>
<path d="M211.6 1057.5h8.4" fill="none" stroke="#000" stroke-width="2.4"/>
<path d="M248.2 1057.5h8.4" fill="none" stroke="#000" stroke-width="2.4"/>
<path d="M281.9 1057.5h14.4M289.1 1050.3v14.4" fill="none" stroke="#000" stroke-width="2.3"/>
<path d="M321.1 1057.5h14.4M328.3 1050.3v14.4" fill="none" stroke="#000" stroke-width="2.3"/>
<path d="M356.9 1057.5h14.4M364.1 1050.3v14.4" fill="none" stroke="#000" stroke-width="2.3"/>
<path d="M173.7 1082.3h8.4" fill="none" stroke="#000" stroke-width="2.4"/>
<path d="M211.6 1082.3h8.4" fill="none" stroke="#000" stroke-width="2.4"/>
<path d="M245.2 1082.3h14.4M252.4 1075.1v14.4" fill="none" stroke="#000" stroke-width="2.3"/>
<path d="M284.9 1082.3h8.4" fill="none" stroke="#000" stroke-width="2.4"/>
<path d="M324.1 1082.3h8.4" fill="none" stroke="#000" stroke-width="2.4"/>
<path d="M356.9 1082.3h14.4M364.1 1075.1v14.4" fill="none" stroke="#000" stroke-width="2.3"/>
<text font-size="25" text-anchor="middle" textLength="200" lengthAdjust="spacingAndGlyphs" transform="translate(77.6 889.8) rotate(-90)">% of oxidized C11</text>
<text font-size="31" text-anchor="middle" font-weight="bold" textLength="103.5" lengthAdjust="spacingAndGlyphs" transform="translate(43.2 894.2) rotate(-90)">Hs746T</text>
<text font-size="25" text-anchor="middle" textLength="95" lengthAdjust="spacingAndGlyphs" transform="translate(107.5 889.8) rotate(-90)">BODIPY</text>
<line x1="156.7" y1="1129.4" x2="156.7" y2="1353.6" stroke="#000" stroke-width="2.6"/>
<line x1="146.7" y1="1353.6" x2="386.8" y2="1353.6" stroke="#000" stroke-width="2.6"/>
<text font-size="23" text-anchor="end" textLength="12.28" lengthAdjust="spacingAndGlyphs" x="144.7" y="1361.9">0</text>
<line x1="146.7" y1="1309" x2="156.7" y2="1309" stroke="#000" stroke-width="2.6"/>
<text font-size="23" text-anchor="end" textLength="24.56" lengthAdjust="spacingAndGlyphs" x="144.7" y="1317.3">20</text>
<line x1="146.7" y1="1264.4" x2="156.7" y2="1264.4" stroke="#000" stroke-width="2.6"/>
<text font-size="23" text-anchor="end" textLength="24.56" lengthAdjust="spacingAndGlyphs" x="144.7" y="1272.7">40</text>
<line x1="146.7" y1="1219.8" x2="156.7" y2="1219.8" stroke="#000" stroke-width="2.6"/>
<text font-size="23" text-anchor="end" textLength="24.56" lengthAdjust="spacingAndGlyphs" x="144.7" y="1228.1">60</text>
<line x1="146.7" y1="1175.2" x2="156.7" y2="1175.2" stroke="#000" stroke-width="2.6"/>
<text font-size="23" text-anchor="end" textLength="24.56" lengthAdjust="spacingAndGlyphs" x="144.7" y="1183.5">80</text>
<line x1="146.7" y1="1130.6" x2="156.7" y2="1130.6" stroke="#000" stroke-width="2.6"/>
<text font-size="23" text-anchor="end" textLength="36.84" lengthAdjust="spacingAndGlyphs" x="144.7" y="1138.9">100</text>
<line x1="180.7" y1="1353.6" x2="180.7" y2="1362.6" stroke="#000" stroke-width="2.6"/>
<rect x="170.1" y="1346.52" width="21.2" height="7.08" fill="#fff" stroke="#000" stroke-width="2.3"/>
<path d="M180.7 1337.32V1353.6M175.2 1337.32h11M175.2 1353.6h11" fill="none" stroke="#000" stroke-width="1.2"/>
<path d="M174.7 1347.1l3.5 6.3h-7z"/>
<path d="M180.7 1332.61l3.5 6.3h-7z"/>
<path d="M186.7 1347.1l3.5 6.3h-7z"/>
<line x1="216.78" y1="1353.6" x2="216.78" y2="1362.6" stroke="#000" stroke-width="2.6"/>
<rect x="206.18" y="1306.6" width="21.2" height="47" fill="#fff" stroke="#000" stroke-width="2.3"/>
<path d="M216.78 1298.74V1312.79M211.28 1298.74h11M211.28 1312.79h11" fill="none" stroke="#000" stroke-width="1.2"/>
<path d="M210.78 1303.62l3.5 6.3h-7z"/>
<path d="M216.78 1294.7l3.5 6.3h-7z"/>
<path d="M222.78 1308.08l3.5 6.3h-7z"/>
<line x1="252.86" y1="1353.6" x2="252.86" y2="1362.6" stroke="#000" stroke-width="2.6"/>
<rect x="242.26" y="1340.94" width="21.2" height="12.66" fill="#fff" stroke="#000" stroke-width="2.3"/>
<path d="M252.86 1330.41V1350.25M247.36 1330.41h11M247.36 1350.25h11" fill="none" stroke="#000" stroke-width="1.2"/>
<path d="M246.86 1327.03l3.5 6.3h-7z"/>
<path d="M252.86 1347.1l3.5 6.3h-7z"/>
<path d="M258.86 1334.84l3.5 6.3h-7z"/>
<line x1="288.94" y1="1353.6" x2="288.94" y2="1362.6" stroke="#000" stroke-width="2.6"/>
<rect x="278.34" y="1346.52" width="21.2" height="7.08" fill="#fff" stroke="#000" stroke-width="2.3"/>
<path d="M288.94 1337.77V1353.6M283.44 1337.77h11M283.44 1353.6h11" fill="none" stroke="#000" stroke-width="1.2"/>
<path d="M282.94 1347.1l3.5 6.3h-7z"/>
<path d="M288.94 1333.72l3.5 6.3h-7z"/>
<path d="M294.94 1347.1l3.5 6.3h-7z"/>
<line x1="325.02" y1="1353.6" x2="325.02" y2="1362.6" stroke="#000" stroke-width="2.6"/>
<rect x="314.42" y="1199.78" width="21.2" height="153.82" fill="#fff" stroke="#000" stroke-width="2.3"/>
<path d="M325.02 1180.11V1218.02M319.52 1180.11h11M319.52 1218.02h11" fill="none" stroke="#000" stroke-width="1.2"/>
<path d="M319.02 1183.2l3.5 6.3h-7z"/>
<path d="M331.02 1185.43l3.5 6.3h-7z"/>
<path d="M325.02 1216.65l3.5 6.3h-7z"/>
<line x1="361.1" y1="1353.6" x2="361.1" y2="1362.6" stroke="#000" stroke-width="2.6"/>
<rect x="350.5" y="1310.17" width="21.2" height="43.43" fill="#fff" stroke="#000" stroke-width="2.3"/>
<path d="M361.1 1270.87V1347.36M355.6 1270.87h11M355.6 1347.36h11" fill="none" stroke="#000" stroke-width="1.2"/>
<path d="M355.1 1324.8l3.5 6.3h-7z"/>
<path d="M361.1 1261.25l3.5 6.3h-7z"/>
<path d="M367.1 1330.38l3.5 6.3h-7z"/>
<path d="M215.9 1262.4V1127H324.8V1158.7" fill="none" stroke="#000" stroke-width="1.5"/>
<path d="M330.6 1157.5V1127H363.1V1237.4" fill="none" stroke="#000" stroke-width="1.5"/>
<text x="236.6" y="1118" font-size="14.5" stroke="#000" stroke-width="0.7" stroke-linejoin="round" word-spacing="2.6" textLength="71.6" lengthAdjust="spacingAndGlyphs"><tspan font-style="italic">p</tspan> = 0.0027</text>
<text x="326.6" y="1118" font-size="14.5" stroke="#000" stroke-width="0.7" stroke-linejoin="round" word-spacing="2.6" textLength="71.6" lengthAdjust="spacingAndGlyphs"><tspan font-style="italic">p</tspan> = 0.0110</text>
<text font-size="24.7" text-anchor="end" x="137.9" y="1385.6">RSL3</text>
<text font-size="24.7" text-anchor="end" x="137.9" y="1412.3">Darapladib</text>
<text font-size="24.7" text-anchor="end" x="137.9" y="1439.1">Fer-1</text>
<path d="M174.8 1380.4h8.4" fill="none" stroke="#000" stroke-width="2.4"/>
<path d="M209.3 1380.4h14.4M216.5 1373.2v14.4" fill="none" stroke="#000" stroke-width="2.3"/>
<path d="M246.3 1380.4h14.4M253.5 1373.2v14.4" fill="none" stroke="#000" stroke-width="2.3"/>
<path d="M285.8 1380.4h8.4" fill="none" stroke="#000" stroke-width="2.4"/>
<path d="M321.8 1380.4h14.4M329 1373.2v14.4" fill="none" stroke="#000" stroke-width="2.3"/>
<path d="M357.3 1380.4h14.4M364.5 1373.2v14.4" fill="none" stroke="#000" stroke-width="2.3"/>
<path d="M174.8 1407.3h8.4" fill="none" stroke="#000" stroke-width="2.4"/>
<path d="M212.3 1407.3h8.4" fill="none" stroke="#000" stroke-width="2.4"/>
<path d="M249.3 1407.3h8.4" fill="none" stroke="#000" stroke-width="2.4"/>
<path d="M282.8 1407.3h14.4M290 1400.1v14.4" fill="none" stroke="#000" stroke-width="2.3"/>
<path d="M321.8 1407.3h14.4M329 1400.1v14.4" fill="none" stroke="#000" stroke-width="2.3"/>
<path d="M357.3 1407.3h14.4M364.5 1400.1v14.4" fill="none" stroke="#000" stroke-width="2.3"/>
<path d="M174.8 1432.3h8.4" fill="none" stroke="#000" stroke-width="2.4"/>
<path d="M212.3 1432.3h8.4" fill="none" stroke="#000" stroke-width="2.4"/>
<path d="M246.3 1432.3h14.4M253.5 1425.1v14.4" fill="none" stroke="#000" stroke-width="2.3"/>
<path d="M285.8 1432.3h8.4" fill="none" stroke="#000" stroke-width="2.4"/>
<path d="M324.8 1432.3h8.4" fill="none" stroke="#000" stroke-width="2.4"/>
<path d="M357.3 1432.3h14.4M364.5 1425.1v14.4" fill="none" stroke="#000" stroke-width="2.3"/>
<text font-size="25" text-anchor="middle" textLength="200" lengthAdjust="spacingAndGlyphs" transform="translate(75.8 1245.5) rotate(-90)">% of oxidized C11</text>
<text font-size="31" text-anchor="middle" font-weight="bold" textLength="120.5" lengthAdjust="spacingAndGlyphs" transform="translate(42.8 1247.5) rotate(-90)">SNU-484</text>
<text font-size="25" text-anchor="middle" textLength="95" lengthAdjust="spacingAndGlyphs" transform="translate(105.8 1243.4) rotate(-90)">BODIPY</text>
<text font-size="45" font-weight="bold" x="444.5" y="764.4">e</text>
<text font-size="22.7" text-anchor="middle" font-weight="bold" textLength="66" lengthAdjust="spacingAndGlyphs" x="620.8" y="803.7">DMSO</text>
<text font-size="22.7" text-anchor="middle" font-weight="bold" textLength="56.24" lengthAdjust="spacingAndGlyphs" x="748" y="803.7">RSL3</text>
<text font-size="22.7" text-anchor="middle" font-weight="bold" textLength="72.76" lengthAdjust="spacingAndGlyphs" x="872.2" y="776.4">+ Fer-1</text>
<text font-size="22.7" text-anchor="middle" font-weight="bold" textLength="56.24" lengthAdjust="spacingAndGlyphs" x="872.2" y="803.7">RSL3</text>
<text font-size="22.7" text-anchor="middle" font-weight="bold" textLength="115.5" lengthAdjust="spacingAndGlyphs" x="1004" y="803.7">Darapladib</text>
<text font-size="22.7" text-anchor="middle" font-weight="bold" textLength="75.2" lengthAdjust="spacingAndGlyphs" x="1128.3" y="776.4">+ RSL3</text>
<text font-size="22.7" text-anchor="middle" font-weight="bold" textLength="115.5" lengthAdjust="spacingAndGlyphs" x="1128.3" y="803.7">Darapladib</text>
<text font-size="22.7" text-anchor="middle" font-weight="bold" textLength="75.2" lengthAdjust="spacingAndGlyphs" x="1261.1" y="748.2">+ RSL3</text>
<text font-size="22.7" text-anchor="middle" font-weight="bold" textLength="72.76" lengthAdjust="spacingAndGlyphs" x="1261.1" y="776.4">+ Fer-1</text>
<text font-size="22.7" text-anchor="middle" font-weight="bold" textLength="115.5" lengthAdjust="spacingAndGlyphs" x="1261.1" y="803.7">Darapladib</text>
<text font-size="26" text-anchor="end" font-weight="bold" textLength="55.35" lengthAdjust="spacingAndGlyphs" x="544.5" y="864.2">C11-</text>
<text font-size="26" text-anchor="end" font-weight="bold" textLength="97.39" lengthAdjust="spacingAndGlyphs" x="544.5" y="895">BODIPY</text>
<text font-size="26" text-anchor="end" font-weight="bold" textLength="85.92" lengthAdjust="spacingAndGlyphs" x="544.5" y="955.4">oxC11-</text>
<text font-size="26" text-anchor="end" font-weight="bold" textLength="97.39" lengthAdjust="spacingAndGlyphs" x="544.5" y="985">BODIPY</text>
<text font-size="26" text-anchor="end" font-weight="bold" textLength="90.33" lengthAdjust="spacingAndGlyphs" x="544.5" y="1064.1">Merged</text>
<text font-size="26" text-anchor="end" font-weight="bold" textLength="55.35" lengthAdjust="spacingAndGlyphs" x="538.8" y="1187.8">C11-</text>
<text font-size="26" text-anchor="end" font-weight="bold" textLength="97.39" lengthAdjust="spacingAndGlyphs" x="538.8" y="1218.7">BODIPY</text>
<text font-size="26" text-anchor="end" font-weight="bold" textLength="85.92" lengthAdjust="spacingAndGlyphs" x="538.8" y="1282.8">oxC11-</text>
<text font-size="26" text-anchor="end" font-weight="bold" textLength="97.39" lengthAdjust="spacingAndGlyphs" x="538.8" y="1313.4">BODIPY</text>
<text font-size="26" text-anchor="end" font-weight="bold" textLength="90.33" lengthAdjust="spacingAndGlyphs" x="538.8" y="1392.1">Merged</text>
<svg x="553.1" y="814.1" width="126.5" height="94.7" viewBox="0 0 126.5 94.7">
<rect width="126.5" height="94.7" fill="#0f0000"/>
<use href="#h0" style="color:#ee1216" opacity="1" filter="url(#bl)"/>
</svg>
<svg x="553.1" y="912.1" width="126.5" height="94.8" viewBox="0 0 126.5 94.8">
<rect width="126.5" height="94.8" fill="#031403"/>
<use href="#h0" style="color:#12541a" opacity="0.4" filter="url(#bl2)"/>
</svg>
<svg x="553.1" y="1010" width="126.5" height="94.5" viewBox="0 0 126.5 94.5">
<rect width="126.5" height="94.5" fill="#0f0000"/>
<use href="#h0" style="color:#e81410" opacity="1" filter="url(#bl)"/>
</svg>
<svg x="682.18" y="814.1" width="126.5" height="94.7" viewBox="0 0 126.5 94.7">
<rect width="126.5" height="94.7" fill="#0f0000"/>
<use href="#h1" style="color:#ee1216" opacity="0.8" filter="url(#bl)"/>
</svg>
<svg x="682.18" y="912.1" width="126.5" height="94.8" viewBox="0 0 126.5 94.8">
<rect width="126.5" height="94.8" fill="#031303"/>
<use href="#h1" style="color:#12541a" opacity="0.35" filter="url(#bl2)"/>
</svg>
<svg x="682.18" y="1010" width="126.5" height="94.5" viewBox="0 0 126.5 94.5">
<rect width="126.5" height="94.5" fill="#0f0000"/>
<use href="#h1" style="color:#dd1610" opacity="0.8" filter="url(#bl)"/>
</svg>
<svg x="811.26" y="814.1" width="126.5" height="94.7" viewBox="0 0 126.5 94.7">
<rect width="126.5" height="94.7" fill="#0f0000"/>
<use href="#h2" style="color:#ee1216" opacity="1" filter="url(#bl)"/>
</svg>
<svg x="811.26" y="912.1" width="126.5" height="94.8" viewBox="0 0 126.5 94.8">
<rect width="126.5" height="94.8" fill="#021202"/>
<use href="#h2" style="color:#12541a" opacity="0.3" filter="url(#bl2)"/>
</svg>
<svg x="811.26" y="1010" width="126.5" height="94.5" viewBox="0 0 126.5 94.5">
<rect width="126.5" height="94.5" fill="#0f0000"/>
<use href="#h2" style="color:#e81410" opacity="1" filter="url(#bl)"/>
</svg>
<svg x="940.34" y="814.1" width="126.5" height="94.7" viewBox="0 0 126.5 94.7">
<rect width="126.5" height="94.7" fill="#0f0000"/>
<use href="#h3" style="color:#ee1216" opacity="0.95" filter="url(#bl)"/>
</svg>
<svg x="940.34" y="912.1" width="126.5" height="94.8" viewBox="0 0 126.5 94.8">
<rect width="126.5" height="94.8" fill="#031403"/>
<use href="#h3" style="color:#12541a" opacity="0.38" filter="url(#bl2)"/>
</svg>
<svg x="940.34" y="1010" width="126.5" height="94.5" viewBox="0 0 126.5 94.5">
<rect width="126.5" height="94.5" fill="#0f0000"/>
<use href="#h3" style="color:#e01a10" opacity="0.95" filter="url(#bl)"/>
</svg>
<svg x="1069.42" y="814.1" width="126.5" height="94.7" viewBox="0 0 126.5 94.7">
<rect width="126.5" height="94.7" fill="#0f0000"/>
<use href="#h4" style="color:#ee1216" opacity="0.95" filter="url(#bl)"/>
</svg>
<svg x="1069.42" y="912.1" width="126.5" height="94.8" viewBox="0 0 126.5 94.8">
<rect width="126.5" height="94.8" fill="#062309"/>
<use href="#h4" style="color:#1fa326" opacity="0.75" filter="url(#bl2)"/>
</svg>
<svg x="1069.42" y="1010" width="126.5" height="94.5" viewBox="0 0 126.5 94.5">
<rect width="126.5" height="94.5" fill="#1a0300"/>
<use href="#h4" style="color:#d8350e" opacity="0.95" filter="url(#bl)"/>
</svg>
<svg x="1198.5" y="814.1" width="126.5" height="94.7" viewBox="0 0 126.5 94.7">
<rect width="126.5" height="94.7" fill="#0f0000"/>
<use href="#h5" style="color:#ee1216" opacity="0.95" filter="url(#bl)"/>
</svg>
<svg x="1198.5" y="912.1" width="126.5" height="94.8" viewBox="0 0 126.5 94.8">
<rect width="126.5" height="94.8" fill="#021202"/>
<use href="#h5" style="color:#12541a" opacity="0.3" filter="url(#bl2)"/>
</svg>
<svg x="1198.5" y="1010" width="126.5" height="94.5" viewBox="0 0 126.5 94.5">
<rect width="126.5" height="94.5" fill="#0f0000"/>
<use href="#h5" style="color:#e81410" opacity="0.95" filter="url(#bl)"/>
</svg>
<svg x="550.5" y="1142.1" width="126.4" height="95" viewBox="0 0 126.4 95">
<rect width="126.4" height="95" fill="#0f0000"/>
<use href="#s0" style="color:#e01414" opacity="0.95" filter="url(#bl)"/>
</svg>
<svg x="550.5" y="1241" width="126.4" height="94.8" viewBox="0 0 126.4 94.8">
<rect width="126.4" height="94.8" fill="#031103"/>
<use href="#s0" style="color:#0f4a12" opacity="0.12" filter="url(#bl2)"/>
</svg>
<svg x="550.5" y="1340" width="126.4" height="94.6" viewBox="0 0 126.4 94.6">
<rect width="126.4" height="94.6" fill="#170200"/>
<use href="#s0" style="color:#e01c10" opacity="0.9" filter="url(#bl)"/>
</svg>
<svg x="679.86" y="1142.1" width="126.4" height="95" viewBox="0 0 126.4 95">
<rect width="126.4" height="95" fill="#0f0000"/>
<use href="#s1" style="color:#e01414" opacity="0.95" filter="url(#bl)"/>
</svg>
<svg x="679.86" y="1241" width="126.4" height="94.8" viewBox="0 0 126.4 94.8">
<rect width="126.4" height="94.8" fill="#021002"/>
<use href="#s1" style="color:#0f4a12" opacity="0.08" filter="url(#bl2)"/>
</svg>
<svg x="679.86" y="1340" width="126.4" height="94.6" viewBox="0 0 126.4 94.6">
<rect width="126.4" height="94.6" fill="#170200"/>
<use href="#s1" style="color:#e01c10" opacity="0.9" filter="url(#bl)"/>
</svg>
<svg x="809.22" y="1142.1" width="126.4" height="95" viewBox="0 0 126.4 95">
<rect width="126.4" height="95" fill="#0f0000"/>
<use href="#s2" style="color:#e01414" opacity="0.95" filter="url(#bl)"/>
</svg>
<svg x="809.22" y="1241" width="126.4" height="94.8" viewBox="0 0 126.4 94.8">
<rect width="126.4" height="94.8" fill="#021002"/>
<use href="#s2" style="color:#0f4a12" opacity="0.1" filter="url(#bl2)"/>
</svg>
<svg x="809.22" y="1340" width="126.4" height="94.6" viewBox="0 0 126.4 94.6">
<rect width="126.4" height="94.6" fill="#170200"/>
<use href="#s2" style="color:#e01c10" opacity="0.9" filter="url(#bl)"/>
</svg>
<svg x="938.58" y="1142.1" width="126.4" height="95" viewBox="0 0 126.4 95">
<rect width="126.4" height="95" fill="#0f0000"/>
<use href="#s3" style="color:#e01414" opacity="0.95" filter="url(#bl)"/>
</svg>
<svg x="938.58" y="1241" width="126.4" height="94.8" viewBox="0 0 126.4 94.8">
<rect width="126.4" height="94.8" fill="#040d04"/>
<use href="#s3" style="color:#0f4a12" opacity="0.06" filter="url(#bl2)"/>
</svg>
<svg x="938.58" y="1340" width="126.4" height="94.6" viewBox="0 0 126.4 94.6">
<rect width="126.4" height="94.6" fill="#1a0500"/>
<use href="#s3" style="color:#d82412" opacity="0.85" filter="url(#bl)"/>
</svg>
<svg x="1067.94" y="1142.1" width="126.4" height="95" viewBox="0 0 126.4 95">
<rect width="126.4" height="95" fill="#0f0000"/>
<use href="#s4" style="color:#e01414" opacity="0.95" filter="url(#bl)"/>
</svg>
<svg x="1067.94" y="1241" width="126.4" height="94.8" viewBox="0 0 126.4 94.8">
<rect width="126.4" height="94.8" fill="#051c07"/>
<use href="#s4" style="color:#1a8a20" opacity="0.3" filter="url(#bl2)"/>
</svg>
<svg x="1067.94" y="1340" width="126.4" height="94.6" viewBox="0 0 126.4 94.6">
<rect width="126.4" height="94.6" fill="#180300"/>
<use href="#s4" style="color:#e01c10" opacity="0.9" filter="url(#bl)"/>
</svg>
<svg x="1197.3" y="1142.1" width="126.4" height="95" viewBox="0 0 126.4 95">
<rect width="126.4" height="95" fill="#0f0000"/>
<use href="#s5" style="color:#e01414" opacity="0.95" filter="url(#bl)"/>
</svg>
<svg x="1197.3" y="1241" width="126.4" height="94.8" viewBox="0 0 126.4 94.8">
<rect width="126.4" height="94.8" fill="#040d04"/>
<use href="#s5" style="color:#0f4a12" opacity="0.05" filter="url(#bl2)"/>
</svg>
<svg x="1197.3" y="1340" width="126.4" height="94.6" viewBox="0 0 126.4 94.6">
<rect width="126.4" height="94.6" fill="#150100"/>
<use href="#s5" style="color:#e01c10" opacity="0.9" filter="url(#bl)"/>
</svg>
<rect x="657.1" y="897.7" width="17.1" height="6.1" fill="#fff"/>
<rect x="657.1" y="997" width="17.1" height="6.1" fill="#fff"/>
<rect x="657.1" y="1096.3" width="17.1" height="6.1" fill="#fff"/>
<rect x="656.8" y="1225" width="17.2" height="6.2" fill="#fff"/>
<rect x="656.8" y="1324.5" width="17.2" height="6.2" fill="#fff"/>
<rect x="656.8" y="1424" width="17.2" height="6.2" fill="#fff"/>
<rect x="785.5" y="897.7" width="17.1" height="6.1" fill="#fff"/>
<rect x="785.5" y="997" width="17.1" height="6.1" fill="#fff"/>
<rect x="785.5" y="1096.3" width="17.1" height="6.1" fill="#fff"/>
<rect x="785.2" y="1225" width="17.2" height="6.2" fill="#fff"/>
<rect x="785.2" y="1324.5" width="17.2" height="6.2" fill="#fff"/>
<rect x="785.2" y="1424" width="17.2" height="6.2" fill="#fff"/>
<rect x="913.9" y="897.7" width="17.1" height="6.1" fill="#fff"/>
<rect x="913.9" y="997" width="17.1" height="6.1" fill="#fff"/>
<rect x="913.9" y="1096.3" width="17.1" height="6.1" fill="#fff"/>
<rect x="913.6" y="1225" width="17.2" height="6.2" fill="#fff"/>
<rect x="913.6" y="1324.5" width="17.2" height="6.2" fill="#fff"/>
<rect x="913.6" y="1424" width="17.2" height="6.2" fill="#fff"/>
<rect x="1042.3" y="897.7" width="17.1" height="6.1" fill="#fff"/>
<rect x="1042.3" y="997" width="17.1" height="6.1" fill="#fff"/>
<rect x="1042.3" y="1096.3" width="17.1" height="6.1" fill="#fff"/>
<rect x="1042" y="1225" width="17.2" height="6.2" fill="#fff"/>
<rect x="1042" y="1324.5" width="17.2" height="6.2" fill="#fff"/>
<rect x="1042" y="1424" width="17.2" height="6.2" fill="#fff"/>
<rect x="1170.7" y="897.7" width="17.1" height="6.1" fill="#fff"/>
<rect x="1170.7" y="997" width="17.1" height="6.1" fill="#fff"/>
<rect x="1170.7" y="1096.3" width="17.1" height="6.1" fill="#fff"/>
<rect x="1170.4" y="1225" width="17.2" height="6.2" fill="#fff"/>
<rect x="1170.4" y="1324.5" width="17.2" height="6.2" fill="#fff"/>
<rect x="1170.4" y="1424" width="17.2" height="6.2" fill="#fff"/>
<rect x="1299.1" y="897.7" width="17.1" height="6.1" fill="#fff"/>
<rect x="1299.1" y="997" width="17.1" height="6.1" fill="#fff"/>
<rect x="1299.1" y="1096.3" width="17.1" height="6.1" fill="#fff"/>
<rect x="1298.8" y="1225" width="17.2" height="6.2" fill="#fff"/>
<rect x="1298.8" y="1324.5" width="17.2" height="6.2" fill="#fff"/>
<rect x="1298.8" y="1424" width="17.2" height="6.2" fill="#fff"/>
<text font-size="45" font-weight="bold" x="1352.8" y="764">f</text>
<text font-size="30" text-anchor="middle" font-weight="bold" textLength="104.5" lengthAdjust="spacingAndGlyphs" x="1565.7" y="821.4">Hs746T</text>
<line x1="1466" y1="843.4" x2="1466" y2="1070" stroke="#000" stroke-width="2"/>
<line x1="1458.5" y1="1069" x2="1690" y2="1069" stroke="#000" stroke-width="2"/>
<text font-size="23.2" text-anchor="end" textLength="12.39" lengthAdjust="spacingAndGlyphs" x="1446.5" y="1077.5">0</text>
<line x1="1458.5" y1="1036.91" x2="1466" y2="1036.91" stroke="#000" stroke-width="2"/>
<text font-size="23.2" text-anchor="end" textLength="24.77" lengthAdjust="spacingAndGlyphs" x="1446.5" y="1045.41">10</text>
<line x1="1458.5" y1="1004.83" x2="1466" y2="1004.83" stroke="#000" stroke-width="2"/>
<text font-size="23.2" text-anchor="end" textLength="24.77" lengthAdjust="spacingAndGlyphs" x="1446.5" y="1013.33">20</text>
<line x1="1458.5" y1="972.74" x2="1466" y2="972.74" stroke="#000" stroke-width="2"/>
<text font-size="23.2" text-anchor="end" textLength="24.77" lengthAdjust="spacingAndGlyphs" x="1446.5" y="981.24">30</text>
<line x1="1458.5" y1="940.66" x2="1466" y2="940.66" stroke="#000" stroke-width="2"/>
<text font-size="23.2" text-anchor="end" textLength="24.77" lengthAdjust="spacingAndGlyphs" x="1446.5" y="949.16">40</text>
<line x1="1458.5" y1="908.57" x2="1466" y2="908.57" stroke="#000" stroke-width="2"/>
<text font-size="23.2" text-anchor="end" textLength="24.77" lengthAdjust="spacingAndGlyphs" x="1446.5" y="917.07">50</text>
<line x1="1458.5" y1="876.49" x2="1466" y2="876.49" stroke="#000" stroke-width="2"/>
<text font-size="23.2" text-anchor="end" textLength="24.77" lengthAdjust="spacingAndGlyphs" x="1446.5" y="884.99">60</text>
<line x1="1458.5" y1="844.4" x2="1466" y2="844.4" stroke="#000" stroke-width="2"/>
<text font-size="23.2" text-anchor="end" textLength="24.77" lengthAdjust="spacingAndGlyphs" x="1446.5" y="852.9">70</text>
<text font-size="23.2" text-anchor="middle" textLength="25.6" lengthAdjust="spacingAndGlyphs" x="1503.8" y="1106.8">12</text>
<text font-size="23.2" text-anchor="middle" textLength="25.6" lengthAdjust="spacingAndGlyphs" x="1578.1" y="1106.8">13</text>
<text font-size="23.2" text-anchor="middle" textLength="25.6" lengthAdjust="spacingAndGlyphs" x="1652.7" y="1106.8">14</text>
<text font-size="26" textLength="84" lengthAdjust="spacingAndGlyphs" x="1672" y="1116.4">(Hours)</text>
<text font-size="25" text-anchor="middle" textLength="198" lengthAdjust="spacingAndGlyphs" transform="translate(1377.6 964.5) rotate(-90)">% of oxidized C11</text>
<text font-size="25" text-anchor="middle" textLength="94" lengthAdjust="spacingAndGlyphs" transform="translate(1408.5 965) rotate(-90)">BODIPY</text>
<path d="M1651.7 1014.45V1029.21M1644.95 1014.45h13.5M1644.95 1029.21h13.5" fill="none" stroke="#000" stroke-width="2"/>
<polyline points="1502.8,1065.79 1577.1,1055.2 1651.7,1021.83" fill="none" stroke="#bfbfbf" stroke-width="2.8"/>
<circle cx="1502.8" cy="1065.79" r="7.3" fill="#bfbfbf"/>
<circle cx="1577.1" cy="1055.2" r="7.3" fill="#bfbfbf"/>
<circle cx="1651.7" cy="1021.83" r="7.3" fill="#bfbfbf"/>
<polyline points="1502.8,1065.15 1577.1,1065.15 1651.7,1064.19" fill="none" stroke="#000" stroke-width="2.6" stroke-dasharray="6 3"/>
<circle cx="1502.8" cy="1065.15" r="7.5" fill="#000"/>
<circle cx="1577.1" cy="1065.15" r="7.5" fill="#000"/>
<circle cx="1651.7" cy="1064.19" r="7.5" fill="#000"/>
<polyline points="1502.8,1067.07 1577.1,1067.07 1651.7,1067.07" fill="none" stroke="#8faadc" stroke-width="2.8"/>
<path d="M1497.3 1061.57l11 11M1497.3 1072.57l11 -11" fill="none" stroke="#8faadc" stroke-width="1.8"/>
<path d="M1571.6 1061.57l11 11M1571.6 1072.57l11 -11" fill="none" stroke="#8faadc" stroke-width="1.8"/>
<path d="M1646.2 1061.57l11 11M1646.2 1072.57l11 -11" fill="none" stroke="#8faadc" stroke-width="1.8"/>
<path d="M1577.1 983.65V998.41M1570.35 983.65h13.5M1570.35 998.41h13.5" fill="none" stroke="#000" stroke-width="2"/>
<path d="M1651.7 876.49V902.48M1644.95 876.49h13.5M1644.95 902.48h13.5" fill="none" stroke="#000" stroke-width="2"/>
<polyline points="1502.8,1037.88 1577.1,991.35 1651.7,889.64" fill="none" stroke="#ff0000" stroke-width="3"/>
<circle cx="1502.8" cy="1037.88" r="6.8" fill="#fff" stroke="#ff0000" stroke-width="2.8"/>
<circle cx="1577.1" cy="991.35" r="6.8" fill="#fff" stroke="#ff0000" stroke-width="2.8"/>
<circle cx="1651.7" cy="889.64" r="6.8" fill="#fff" stroke="#ff0000" stroke-width="2.8"/>
<line x1="1682.6" y1="922.4" x2="1755.5" y2="922.4" stroke="#ff0000" stroke-width="2.8"/>
<circle cx="1718.7" cy="922.4" r="4.2" fill="#fff" stroke="#ff0000" stroke-width="2.4"/>
<line x1="1682.6" y1="950.2" x2="1755.5" y2="950.2" stroke="#bfbfbf" stroke-width="2.8"/>
<circle cx="1718.7" cy="950.2" r="5" fill="#bfbfbf"/>
<line x1="1682.6" y1="978.1" x2="1755.5" y2="978.1" stroke="#000" stroke-width="2.6" stroke-dasharray="6 3"/>
<circle cx="1718.7" cy="978.1" r="5.2" fill="#000"/>
<line x1="1682.6" y1="1006.3" x2="1755.5" y2="1006.3" stroke="#8faadc" stroke-width="2.8"/>
<path d="M1714.7 1002.3l8 8M1714.7 1010.3l8 -8" fill="none" stroke="#8faadc" stroke-width="1.5"/>
<text font-size="19.3" textLength="158" lengthAdjust="spacingAndGlyphs" x="1762.5" y="928.4">-Cys + Darapladib</text>
<text font-size="19.3" textLength="40" lengthAdjust="spacingAndGlyphs" x="1762.5" y="956.2">-Cys</text>
<text font-size="19.3" textLength="226" lengthAdjust="spacingAndGlyphs" x="1762.5" y="984.1">-Cys + Darapladib + Fer-1</text>
<text font-size="19.3" textLength="44.5" lengthAdjust="spacingAndGlyphs" x="1762.5" y="1012.3">+Cys</text>
<line x1="1451" y1="1181.28" x2="1455.5" y2="1181.28" stroke="#000" stroke-width="1"/>
<line x1="1453" y1="1187.67" x2="1455.5" y2="1187.67" stroke="#000" stroke-width="0.9"/>
<line x1="1453" y1="1194.06" x2="1455.5" y2="1194.06" stroke="#000" stroke-width="0.9"/>
<line x1="1453" y1="1200.45" x2="1455.5" y2="1200.45" stroke="#000" stroke-width="0.9"/>
<line x1="1453" y1="1206.84" x2="1455.5" y2="1206.84" stroke="#000" stroke-width="0.9"/>
<line x1="1451" y1="1213.23" x2="1455.5" y2="1213.23" stroke="#000" stroke-width="1"/>
<line x1="1453" y1="1219.62" x2="1455.5" y2="1219.62" stroke="#000" stroke-width="0.9"/>
<line x1="1453" y1="1226.01" x2="1455.5" y2="1226.01" stroke="#000" stroke-width="0.9"/>
<line x1="1453" y1="1232.4" x2="1455.5" y2="1232.4" stroke="#000" stroke-width="0.9"/>
<line x1="1453" y1="1238.79" x2="1455.5" y2="1238.79" stroke="#000" stroke-width="0.9"/>
<line x1="1451" y1="1245.18" x2="1455.5" y2="1245.18" stroke="#000" stroke-width="1"/>
<line x1="1453" y1="1251.57" x2="1455.5" y2="1251.57" stroke="#000" stroke-width="0.9"/>
<line x1="1453" y1="1257.96" x2="1455.5" y2="1257.96" stroke="#000" stroke-width="0.9"/>
<line x1="1453" y1="1264.35" x2="1455.5" y2="1264.35" stroke="#000" stroke-width="0.9"/>
<line x1="1453" y1="1270.74" x2="1455.5" y2="1270.74" stroke="#000" stroke-width="0.9"/>
<line x1="1451" y1="1277.13" x2="1455.5" y2="1277.13" stroke="#000" stroke-width="1"/>
<line x1="1453" y1="1283.52" x2="1455.5" y2="1283.52" stroke="#000" stroke-width="0.9"/>
<line x1="1453" y1="1289.91" x2="1455.5" y2="1289.91" stroke="#000" stroke-width="0.9"/>
<line x1="1453" y1="1296.3" x2="1455.5" y2="1296.3" stroke="#000" stroke-width="0.9"/>
<line x1="1453" y1="1302.69" x2="1455.5" y2="1302.69" stroke="#000" stroke-width="0.9"/>
<line x1="1451" y1="1309.08" x2="1455.5" y2="1309.08" stroke="#000" stroke-width="1"/>
<line x1="1453" y1="1315.47" x2="1455.5" y2="1315.47" stroke="#000" stroke-width="0.9"/>
<line x1="1453" y1="1321.86" x2="1455.5" y2="1321.86" stroke="#000" stroke-width="0.9"/>
<line x1="1453" y1="1328.25" x2="1455.5" y2="1328.25" stroke="#000" stroke-width="0.9"/>
<line x1="1453" y1="1334.64" x2="1455.5" y2="1334.64" stroke="#000" stroke-width="0.9"/>
<line x1="1451" y1="1341.03" x2="1455.5" y2="1341.03" stroke="#000" stroke-width="1"/>
<line x1="1453" y1="1347.42" x2="1455.5" y2="1347.42" stroke="#000" stroke-width="0.9"/>
<line x1="1453" y1="1353.81" x2="1455.5" y2="1353.81" stroke="#000" stroke-width="0.9"/>
<line x1="1453" y1="1360.2" x2="1455.5" y2="1360.2" stroke="#000" stroke-width="0.9"/>
<line x1="1453" y1="1366.59" x2="1455.5" y2="1366.59" stroke="#000" stroke-width="0.9"/>
<line x1="1451" y1="1372.98" x2="1455.5" y2="1372.98" stroke="#000" stroke-width="1"/>
<line x1="1453" y1="1379.37" x2="1455.5" y2="1379.37" stroke="#000" stroke-width="0.9"/>
<line x1="1453" y1="1385.76" x2="1455.5" y2="1385.76" stroke="#000" stroke-width="0.9"/>
<line x1="1453" y1="1392.15" x2="1455.5" y2="1392.15" stroke="#000" stroke-width="0.9"/>
<line x1="1453" y1="1398.54" x2="1455.5" y2="1398.54" stroke="#000" stroke-width="0.9"/>
<line x1="1451" y1="1404.93" x2="1455.5" y2="1404.93" stroke="#000" stroke-width="1"/>
<line x1="1456.12" y1="1404.9" x2="1456.12" y2="1412.4" stroke="#000" stroke-width="1"/>
<line x1="1464.96" y1="1404.9" x2="1464.96" y2="1408.9" stroke="#000" stroke-width="0.9"/>
<line x1="1473.81" y1="1404.9" x2="1473.81" y2="1408.9" stroke="#000" stroke-width="0.9"/>
<line x1="1482.65" y1="1404.9" x2="1482.65" y2="1408.9" stroke="#000" stroke-width="0.9"/>
<line x1="1491.49" y1="1404.9" x2="1491.49" y2="1408.9" stroke="#000" stroke-width="0.9"/>
<line x1="1500.33" y1="1404.9" x2="1500.33" y2="1412.4" stroke="#000" stroke-width="1"/>
<line x1="1509.09" y1="1404.9" x2="1509.09" y2="1408.9" stroke="#000" stroke-width="0.9"/>
<line x1="1517.85" y1="1404.9" x2="1517.85" y2="1408.9" stroke="#000" stroke-width="0.9"/>
<line x1="1526.61" y1="1404.9" x2="1526.61" y2="1408.9" stroke="#000" stroke-width="0.9"/>
<line x1="1535.37" y1="1404.9" x2="1535.37" y2="1408.9" stroke="#000" stroke-width="0.9"/>
<line x1="1544.13" y1="1404.9" x2="1544.13" y2="1412.4" stroke="#000" stroke-width="1"/>
<line x1="1552.89" y1="1404.9" x2="1552.89" y2="1408.9" stroke="#000" stroke-width="0.9"/>
<line x1="1561.65" y1="1404.9" x2="1561.65" y2="1408.9" stroke="#000" stroke-width="0.9"/>
<line x1="1570.41" y1="1404.9" x2="1570.41" y2="1408.9" stroke="#000" stroke-width="0.9"/>
<line x1="1579.17" y1="1404.9" x2="1579.17" y2="1408.9" stroke="#000" stroke-width="0.9"/>
<line x1="1587.92" y1="1404.9" x2="1587.92" y2="1412.4" stroke="#000" stroke-width="1"/>
<line x1="1596.39" y1="1404.9" x2="1596.39" y2="1408.9" stroke="#000" stroke-width="0.9"/>
<line x1="1604.86" y1="1404.9" x2="1604.86" y2="1408.9" stroke="#000" stroke-width="0.9"/>
<line x1="1613.33" y1="1404.9" x2="1613.33" y2="1408.9" stroke="#000" stroke-width="0.9"/>
<line x1="1621.79" y1="1404.9" x2="1621.79" y2="1408.9" stroke="#000" stroke-width="0.9"/>
<line x1="1630.26" y1="1404.9" x2="1630.26" y2="1412.4" stroke="#000" stroke-width="1"/>
<line x1="1639.1" y1="1404.9" x2="1639.1" y2="1408.9" stroke="#000" stroke-width="0.9"/>
<line x1="1647.95" y1="1404.9" x2="1647.95" y2="1408.9" stroke="#000" stroke-width="0.9"/>
<line x1="1656.79" y1="1404.9" x2="1656.79" y2="1408.9" stroke="#000" stroke-width="0.9"/>
<line x1="1665.63" y1="1404.9" x2="1665.63" y2="1408.9" stroke="#000" stroke-width="0.9"/>
<line x1="1674.47" y1="1404.9" x2="1674.47" y2="1412.4" stroke="#000" stroke-width="1"/>
<rect x="1455.5" y="1180.2" width="224.2" height="224.7" fill="none" stroke="#222" stroke-width="1"/>
<line x1="1455.5" y1="1404.3" x2="1679.7" y2="1404.3" stroke="#000" stroke-width="1.6"/>
<path d="M1469.7 1403.4L1469.7 1400.4L1470.5 1401.0L1471.4 1401.2L1472.4 1399.2L1472.9 1400.3L1473.7 1400.1L1474.3 1401.3L1475.1 1401.0L1475.7 1399.3L1476.2 1399.3L1476.8 1399.8L1477.5 1399.4L1478.3 1400.6L1479.1 1399.2L1479.7 1398.6L1480.3 1398.9L1481.1 1398.9L1481.8 1398.7L1482.5 1398.2L1483.3 1399.1L1483.8 1396.2L1484.3 1396.8L1485.1 1397.2L1485.7 1397.1L1486.5 1397.1L1487.2 1396.6L1488.1 1397.7L1488.9 1395.2L1489.8 1394.3L1490.6 1392.3L1491.5 1388.8L1492.2 1389.1L1492.7 1383.7L1493.3 1389.6L1494.1 1384.1L1494.8 1383.6L1495.5 1385.8L1496.1 1377.3L1496.7 1377.6L1497.4 1377.7L1498.1 1379.8L1498.8 1370.5L1499.7 1375.2L1500.4 1369.3L1501.0 1367.6L1501.7 1372.8L1502.5 1362.0L1503.1 1364.0L1503.9 1358.1L1504.8 1356.6L1505.6 1353.8L1506.3 1348.5L1507.1 1352.2L1507.9 1351.1L1508.6 1350.8L1509.3 1350.2L1510.2 1341.2L1511.0 1343.7L1511.9 1343.9L1512.8 1341.9L1513.5 1339.4L1514.5 1318.7L1515.3 1324.8L1516.1 1312.7L1516.8 1309.9L1517.6 1316.5L1518.2 1304.3L1518.8 1307.1L1519.4 1304.6L1519.9 1313.8L1520.5 1307.1L1521.2 1295.0L1522.0 1303.5L1522.5 1292.6L1523.2 1310.5L1523.9 1307.0L1524.4 1282.4L1525.2 1306.6L1525.9 1290.9L1526.6 1293.6L1527.3 1300.6L1528.1 1266.3L1528.6 1289.6L1529.4 1286.3L1530.3 1264.5L1530.9 1265.8L1531.6 1292.4L1532.4 1270.5L1533.1 1261.3L1534.0 1259.3L1534.7 1281.3L1535.4 1263.1L1536.3 1282.1L1536.9 1285.0L1537.6 1263.7L1538.5 1258.1L1539.2 1248.8L1540.1 1275.3L1540.7 1245.0L1541.3 1240.5L1542.0 1252.3L1542.6 1252.9L1543.5 1265.9L1544.0 1256.2L1544.7 1249.9L1545.5 1267.6L1546.2 1262.8L1546.8 1261.2L1547.7 1255.2L1548.3 1265.6L1548.9 1246.8L1549.6 1264.0L1550.4 1273.6L1551.0 1283.7L1551.8 1298.8L1552.7 1303.6L1553.3 1292.4L1554.1 1300.3L1554.6 1276.1L1555.2 1268.7L1555.8 1272.2L1556.4 1268.5L1556.9 1250.4L1557.8 1285.6L1558.5 1279.5L1559.4 1304.6L1560.2 1318.2L1560.9 1322.5L1561.7 1318.1L1562.3 1320.6L1562.9 1325.4L1563.7 1333.8L1564.5 1340.9L1565.1 1341.5L1565.7 1342.5L1566.4 1341.7L1567.2 1348.5L1568.1 1347.1L1568.7 1356.9L1569.5 1356.6L1570.2 1354.1L1571.0 1352.7L1571.6 1358.1L1572.4 1350.7L1573.2 1354.3L1574.0 1359.5L1574.5 1362.3L1575.4 1357.7L1575.9 1358.6L1576.7 1363.1L1577.3 1368.7L1578.0 1364.6L1578.5 1370.1L1579.1 1370.5L1579.9 1377.1L1580.5 1376.3L1581.3 1369.7L1581.9 1373.5L1582.7 1375.8L1583.3 1379.0L1583.9 1375.1L1584.5 1379.0L1585.2 1378.9L1585.8 1382.3L1586.7 1380.9L1587.6 1384.8L1588.5 1385.2L1589.2 1388.1L1589.9 1387.6L1590.8 1385.5L1591.3 1388.6L1592.0 1390.2L1592.7 1389.9L1593.2 1391.0L1594.0 1390.4L1594.5 1391.7L1595.3 1393.2L1596.1 1393.4L1596.9 1393.0L1597.6 1393.1L1598.5 1396.0L1599.3 1396.8L1600.0 1398.5L1600.9 1398.2L1601.4 1398.6L1602.1 1398.2L1602.7 1398.7L1603.3 1399.8L1603.8 1399.6L1604.7 1399.0L1605.5 1399.6L1606.2 1400.0L1607.1 1400.2L1607.7 1401.0L1608.3 1402.0L1608.9 1401.6L1609.5 1401.6L1610.0 1402.8L1610.7 1401.9L1611.4 1403.4L1611.5 1403.4" fill="none" stroke="#000" stroke-width="1.9" stroke-linejoin="miter"/>
<path d="M1480.1 1403.4L1480.1 1399.3L1480.8 1400.0L1481.6 1399.3L1482.3 1399.0L1483.2 1398.4L1483.9 1398.4L1484.7 1398.2L1485.5 1396.8L1486.2 1399.3L1487.0 1397.5L1487.6 1396.8L1488.6 1396.5L1489.3 1397.0L1490.2 1395.5L1491.1 1395.2L1491.6 1396.0L1492.2 1395.3L1493.1 1395.0L1493.9 1395.3L1494.7 1395.5L1495.5 1394.3L1496.4 1395.0L1497.3 1392.5L1498.0 1392.5L1498.9 1392.8L1499.7 1389.6L1500.4 1391.8L1501.2 1389.6L1502.0 1387.7L1502.7 1386.0L1503.3 1385.9L1504.0 1385.4L1504.6 1387.1L1505.2 1384.8L1506.1 1383.7L1507.0 1380.6L1507.7 1380.2L1508.4 1380.2L1509.1 1375.2L1510.0 1375.7L1510.6 1373.5L1511.5 1374.7L1512.0 1370.4L1512.5 1369.6L1513.4 1363.4L1514.2 1366.8L1515.2 1358.4L1516.0 1360.4L1516.7 1360.7L1517.3 1350.6L1517.9 1352.3L1518.5 1349.1L1519.4 1345.2L1519.9 1350.6L1520.7 1356.4L1521.6 1339.2L1522.5 1354.1L1523.4 1334.6L1524.1 1341.1L1524.6 1343.7L1525.2 1341.3L1526.1 1335.7L1526.8 1334.8L1527.4 1333.7L1528.1 1331.2L1528.8 1337.0L1529.6 1330.3L1530.3 1328.2L1530.9 1306.5L1531.6 1316.5L1532.3 1321.9L1532.9 1310.0L1533.7 1304.6L1534.3 1291.6L1535.0 1310.4L1535.6 1290.0L1536.4 1306.4L1537.1 1292.9L1538.0 1285.8L1538.8 1286.8L1539.5 1284.2L1540.1 1291.5L1540.6 1314.3L1541.2 1297.4L1541.9 1310.6L1542.7 1301.8L1543.6 1297.2L1544.5 1303.0L1545.2 1303.3L1546.2 1317.0L1547.0 1291.8L1547.8 1294.9L1548.4 1304.3L1549.3 1295.1L1549.9 1292.3L1550.8 1280.4L1551.7 1295.1L1552.2 1277.0L1553.1 1297.6L1554.0 1254.1L1554.6 1273.1L1555.1 1291.4L1555.7 1259.7L1556.3 1259.5L1557.2 1250.8L1558.0 1254.7L1558.6 1285.2L1559.2 1249.3L1560.0 1292.4L1560.7 1287.0L1561.4 1286.2L1562.2 1284.8L1563.1 1288.8L1564.0 1299.6L1564.7 1287.8L1565.3 1294.3L1565.9 1288.4L1566.6 1292.2L1567.2 1288.4L1568.1 1299.1L1569.0 1278.3L1569.7 1280.8L1570.6 1281.3L1571.4 1300.2L1572.0 1311.1L1572.8 1312.7L1573.4 1303.4L1573.9 1325.3L1574.5 1314.9L1575.3 1326.4L1575.9 1316.2L1576.8 1325.5L1577.5 1318.7L1578.3 1327.8L1579.1 1336.7L1579.6 1334.5L1580.5 1333.1L1581.2 1334.6L1582.0 1347.3L1582.6 1340.1L1583.4 1334.6L1584.0 1330.9L1584.5 1341.7L1585.5 1353.6L1586.2 1351.5L1587.0 1354.3L1587.9 1353.0L1588.6 1356.5L1589.5 1354.1L1590.3 1368.3L1591.1 1363.5L1592.0 1361.3L1592.6 1367.2L1593.2 1367.6L1593.8 1367.3L1594.7 1372.7L1595.4 1377.8L1596.1 1374.7L1597.0 1376.5L1597.8 1375.7L1598.3 1376.1L1599.1 1378.6L1599.9 1384.0L1600.7 1384.0L1601.3 1386.4L1602.0 1385.5L1602.7 1388.8L1603.4 1388.8L1604.2 1391.2L1604.8 1392.1L1605.3 1394.1L1606.0 1394.8L1606.7 1395.0L1607.6 1396.2L1608.4 1396.3L1608.9 1397.5L1609.8 1398.7L1610.6 1397.5L1611.2 1397.9L1611.7 1398.6L1612.3 1399.3L1612.9 1399.5L1613.5 1400.2L1614.3 1399.6L1614.9 1400.4L1615.5 1402.0L1616.1 1402.0L1616.9 1400.8L1617.6 1403.2L1618.5 1402.3L1619.2 1402.9L1620.1 1402.9L1620.8 1402.3L1621.4 1402.1L1622.3 1403.4L1623.0 1402.7L1623.5 1403.0L1624.0 1403.4" fill="none" stroke="#1e9bf0" stroke-width="1.9" stroke-linejoin="miter"/>
<path d="M1455.5 1403.9L1478.0 1403.4L1478.0 1401.6L1478.8 1401.8L1479.5 1401.6L1480.0 1401.1L1480.6 1401.2L1481.2 1401.9L1482.1 1400.3L1483.0 1401.5L1483.6 1401.0L1484.3 1400.3L1485.1 1399.9L1485.8 1400.6L1486.4 1399.6L1487.1 1399.6L1487.7 1399.4L1488.3 1399.4L1489.2 1399.5L1490.2 1400.6L1491.0 1400.6L1491.5 1398.5L1492.3 1399.5L1493.1 1398.7L1493.8 1398.7L1494.5 1399.1L1495.3 1397.1L1496.2 1399.7L1497.0 1399.6L1497.6 1399.3L1498.4 1399.5L1499.1 1398.8L1499.8 1397.7L1500.7 1398.5L1501.4 1399.0L1502.3 1399.0L1502.9 1399.2L1503.7 1398.4L1504.4 1398.4L1505.3 1397.1L1506.1 1397.3L1507.0 1396.0L1507.8 1396.4L1508.4 1395.8L1509.0 1396.2L1509.6 1395.4L1510.2 1395.9L1510.7 1394.8L1511.3 1394.9L1512.0 1395.9L1512.9 1392.4L1513.5 1394.0L1514.1 1392.5L1514.6 1393.2L1515.2 1391.6L1516.0 1393.1L1516.8 1391.4L1517.4 1390.0L1518.2 1390.0L1519.1 1391.6L1519.9 1388.9L1520.6 1387.2L1521.1 1389.4L1521.7 1385.1L1522.4 1389.3L1523.3 1386.6L1524.0 1387.4L1524.7 1388.0L1525.5 1383.4L1526.0 1382.6L1526.9 1384.5L1527.5 1384.7L1528.3 1386.1L1529.0 1386.4L1529.6 1384.8L1530.5 1383.4L1531.4 1385.5L1532.0 1381.6L1532.6 1384.9L1533.3 1383.6L1534.2 1381.8L1534.8 1381.3L1535.6 1381.4L1536.2 1381.9L1536.9 1375.8L1537.6 1381.7L1538.3 1379.1L1539.0 1379.0L1539.9 1379.9L1540.7 1375.1L1541.4 1372.1L1542.0 1374.0L1542.6 1375.0L1543.4 1368.5L1544.1 1360.1L1544.8 1355.7L1545.6 1344.0L1546.4 1353.3L1547.0 1331.1L1547.9 1342.3L1548.6 1343.0L1549.1 1332.1L1550.0 1342.7L1550.8 1344.1L1551.8 1338.1L1552.4 1321.3L1553.3 1332.9L1554.1 1316.7L1554.7 1310.1L1555.5 1299.1L1556.1 1283.1L1556.7 1303.6L1557.6 1283.9L1558.1 1276.4L1558.7 1253.8L1559.6 1271.8L1560.5 1252.4L1561.0 1286.1L1561.7 1289.3L1562.5 1266.4L1563.4 1285.9L1564.1 1252.3L1565.0 1256.2L1565.8 1254.5L1566.3 1260.2L1567.0 1241.8L1567.6 1237.3L1568.3 1254.4L1568.8 1238.6L1569.4 1212.9L1570.0 1242.8L1570.7 1241.0L1571.5 1217.2L1572.1 1247.8L1572.9 1228.3L1573.5 1244.8L1574.3 1243.2L1574.8 1259.3L1575.6 1245.3L1576.3 1240.5L1577.0 1247.9L1577.9 1240.4L1578.8 1247.4L1579.4 1241.3L1580.1 1258.7L1580.6 1253.5L1581.3 1257.4L1582.0 1258.2L1582.7 1255.5L1583.5 1266.4L1584.2 1265.6L1585.0 1260.0L1585.9 1280.9L1586.7 1275.7L1587.4 1258.3L1588.3 1289.8L1589.2 1282.1L1589.8 1298.4L1590.5 1312.2L1591.2 1292.1L1592.0 1305.8L1592.9 1310.8L1593.6 1314.3L1594.5 1321.3L1595.1 1323.2L1595.9 1335.3L1596.6 1320.5L1597.5 1326.4L1598.0 1339.1L1598.8 1337.5L1599.4 1345.6L1600.2 1340.8L1600.8 1341.4L1601.5 1358.9L1602.1 1361.5L1602.7 1349.4L1603.6 1358.9L1604.2 1366.9L1605.0 1371.8L1605.9 1378.0L1606.6 1379.8L1607.2 1382.4L1607.8 1384.5L1608.5 1383.5L1609.1 1384.5L1609.7 1384.4L1610.2 1388.3L1611.1 1388.4L1611.8 1391.0L1612.5 1389.9L1613.0 1393.8L1613.7 1393.1L1614.3 1393.1L1615.0 1395.9L1615.8 1394.3L1616.7 1396.0L1617.3 1397.0L1618.1 1397.9L1618.7 1399.1L1619.4 1400.1L1620.2 1400.8L1621.0 1402.1L1621.7 1402.5L1622.3 1402.4L1622.9 1402.2L1623.0 1403.4L1679.7 1403.9" fill="none" stroke="#e0000a" stroke-width="1.9" stroke-linejoin="miter"/>
<line x1="1591.3" y1="1195.5" x2="1615.2" y2="1195.5" stroke="#000" stroke-width="2"/>
<text font-size="18" font-weight="bold" textLength="46.5" lengthAdjust="spacingAndGlyphs" x="1626.5" y="1202.1">12 hr</text>
<line x1="1591.3" y1="1222.4" x2="1615.2" y2="1222.4" stroke="#4fc3f7" stroke-width="2"/>
<text font-size="18" font-weight="bold" textLength="46.5" lengthAdjust="spacingAndGlyphs" x="1626.5" y="1229">13 hr</text>
<line x1="1591.3" y1="1249.3" x2="1615.2" y2="1249.3" stroke="#e0000a" stroke-width="2"/>
<text font-size="18" font-weight="bold" textLength="46.5" lengthAdjust="spacingAndGlyphs" x="1626.5" y="1255.9">14 hr</text>
<text font-size="22" text-anchor="middle" textLength="95" lengthAdjust="spacingAndGlyphs" transform="translate(1438 1293.5) rotate(-90)">% Counts</text>
<text font-size="21.5" textLength="131.5" lengthAdjust="spacingAndGlyphs" x="1520.5" y="1437.4">C11 BODIPY</text>
<path d="M1429 1366V1429.5H1492" fill="none" stroke="#000" stroke-width="2.6"/>
<path d="M1429 1351.3L1437.4 1367H1420.6z"/>
<path d="M1507.6 1429.5L1491.6 1437.9V1421.1z"/>
</svg>
</body></html>
